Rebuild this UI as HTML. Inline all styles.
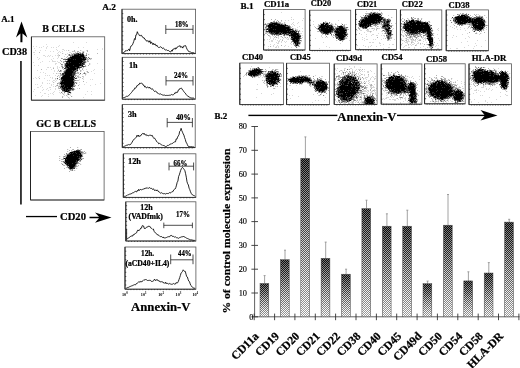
<!DOCTYPE html>
<html><head><meta charset="utf-8"><title>Figure</title>
<style>
html,body{margin:0;padding:0;background:#fff;}
svg{display:block;font-family:'Liberation Serif', 'DejaVu Serif', serif;}
</style></head><body>
<svg width="520" height="368" viewBox="0 0 520 368">
<defs>
<linearGradient id="bg" x1="0" y1="0" x2="0" y2="1"><stop offset="0" stop-color="#050505"/><stop offset="0.3" stop-color="#262626"/><stop offset="1" stop-color="#a0a0a0"/></linearGradient>
<linearGradient id="mg" x1="0" y1="0" x2="0" y2="1"><stop offset="0" stop-color="#666"/><stop offset="0.5" stop-color="#bbb"/><stop offset="1" stop-color="#fff"/></linearGradient>
<mask id="m" maskContentUnits="objectBoundingBox"><rect width="1" height="1" fill="url(#mg)"/></mask>
<pattern id="ck" width="2" height="2" patternUnits="userSpaceOnUse"><rect x="0" y="0" width="1" height="1" fill="#fff"/><rect x="1" y="1" width="1" height="1" fill="#fff"/></pattern>
</defs>
<rect width="520" height="368" fill="#fff"/>
<text x="1.2" y="21.8" font-size="9" font-weight="bold" text-anchor="start" fill="#000" textLength="13.2" lengthAdjust="spacingAndGlyphs" stroke="#000" stroke-width="0.22">A.1</text>
<text x="42.3" y="31.7" font-size="10" font-weight="bold" text-anchor="start" fill="#000" textLength="42.3" lengthAdjust="spacingAndGlyphs" stroke="#000" stroke-width="0.22">B CELLS</text>
<text x="2.1" y="54.6" font-size="10" font-weight="bold" text-anchor="start" fill="#000" textLength="25.0" lengthAdjust="spacingAndGlyphs" stroke="#000" stroke-width="0.22">CD38</text>
<text x="36.2" y="127.0" font-size="10" font-weight="bold" text-anchor="start" fill="#000" textLength="60.0" lengthAdjust="spacingAndGlyphs" stroke="#000" stroke-width="0.22">GC B CELLS</text>
<text x="60.0" y="219.8" font-size="10" font-weight="bold" text-anchor="start" fill="#000" textLength="26.0" lengthAdjust="spacingAndGlyphs" stroke="#000" stroke-width="0.22">CD20</text>
<path d="M21.5 21.6 L27.3 37.6 L22.5 33.4 L22.4 42.2 L20.4 42.2 L20.4 33.4 L16 37.6 Z" fill="#000"/>
<rect x="20.2" y="61" width="1.5" height="143.5" fill="#000"/>
<rect x="26" y="215.9" width="31" height="1.3" fill="#000"/>
<path d="M111.5 217.5 L95 222.8 L99 218.2 L89.5 218.2 L89.5 216.8 L99 216.8 L95 212.4 Z" fill="#000"/>
<rect x="31.40" y="36.80" width="73.30" height="63.40" fill="#fff" stroke="#555" stroke-width="0.8"/>
<path d="M31.40 36.80V100.20" fill="none" stroke="#222" stroke-width="1.0"/>
<path d="M31.40 100.20H104.70" fill="none" stroke="#333" stroke-width="0.8500000000000001"/>
<path d="M86 42h0.55v0.55h-0.55zM73 42.5h0.55v0.55h-0.55zM46.5 44h0.55v0.55h-0.55zM59.5 45h0.55v0.55h-0.55zM33 46h0.55v0.55h-0.55zM36.5 46h0.55v0.55h-0.55zM43.5 46.5h0.55v0.55h-0.55zM47.5 46.5h0.55v0.55h-0.55zM58 46.5h0.55v0.55h-0.55zM39 47h0.55v0.55h-0.55zM46 47h0.55v0.55h-0.55zM53 47h0.55v0.55h-0.55zM83.5 47h0.55v0.55h-0.55zM41 47.5h0.55v0.55h-0.55zM51 47.5h0.55v0.55h-0.55zM56 47.5h0.55v0.55h-0.55zM78 47.5h0.55v0.55h-0.55zM102.5 48h0.55v0.55h-0.55zM34.5 48.5h0.55v0.55h-0.55zM46.5 48.5h0.55v0.55h-0.55zM63 49h0.55v0.55h-0.55zM56 49.5h0.55v0.55h-0.55zM62.5 49.5h0.55v0.55h-0.55zM97 49.5h0.55v0.55h-0.55zM102.5 49.5h0.55v0.55h-0.55zM40.5 50h0.55v0.55h-0.55zM64 50h0.55v0.55h-0.55zM66 50h0.55v0.55h-0.55zM35.5 50.5h0.55v0.55h-0.55zM45.5 50.5h0.55v0.55h-0.55zM57 50.5h0.55v0.55h-0.55zM86 50.5h0.55v0.55h-0.55zM50.5 51h0.55v0.55h-0.55zM53 51h0.55v0.55h-0.55zM59.5 51h0.55v0.55h-0.55zM82 51h0.55v0.55h-0.55zM62 51.5h0.55v0.55h-0.55zM73.5 51.5h0.55v0.55h-0.55zM33 52h0.55v0.55h-0.55zM34 52h0.55v0.55h-0.55zM39 52h1.05v0.55h-1.05zM60 52h0.55v0.55h-0.55zM69.5 52h0.55v0.55h-0.55zM70.5 52h0.55v0.55h-0.55zM58 52.5h0.55v0.55h-0.55zM78 53h1.05v0.55h-1.05zM57.5 53.5h0.55v0.55h-0.55zM67.5 53.5h0.55v0.55h-0.55zM73 53.5h0.55v0.55h-0.55zM80.5 53.5h0.55v0.55h-0.55zM97 53.5h1.05v0.55h-1.05zM58 54h0.55v0.55h-0.55zM34.5 54.5h0.55v0.55h-0.55zM43.5 55h0.55v0.55h-0.55zM48 55h0.55v0.55h-0.55zM50.5 55h0.55v0.55h-0.55zM55.5 55h0.55v0.55h-0.55zM57.5 55h0.55v0.55h-0.55zM44.5 55.5h0.55v0.55h-0.55zM58.5 55.5h0.55v0.55h-0.55zM70 55.5h0.55v0.55h-0.55zM71 55.5h0.55v0.55h-0.55zM58 56h0.55v0.55h-0.55zM64 56h0.55v0.55h-0.55zM71 56h0.55v0.55h-0.55zM45 56.5h0.55v0.55h-0.55zM47.5 56.5h0.55v0.55h-0.55zM49.5 56.5h0.55v0.55h-0.55zM52 56.5h0.55v0.55h-0.55zM71.5 56.5h0.55v0.55h-0.55zM82 57h0.55v0.55h-0.55zM37 57.5h0.55v0.55h-0.55zM58.5 57.5h0.55v0.55h-0.55zM39 58h0.55v0.55h-0.55zM53.5 58h0.55v0.55h-0.55zM57.5 58.5h0.55v0.55h-0.55zM61 58.5h0.55v0.55h-0.55zM64 58.5h0.55v0.55h-0.55zM65.5 58.5h0.55v0.55h-0.55zM67 58.5h0.55v0.55h-0.55zM69 58.5h0.55v0.55h-0.55zM51.5 59h0.55v0.55h-0.55zM71 59h0.55v0.55h-0.55zM38.5 59.5h0.55v0.55h-0.55zM66.5 59.5h0.55v0.55h-0.55zM52 60.5h0.55v0.55h-0.55zM68.5 60.5h0.55v0.55h-0.55zM87.5 60.5h0.55v0.55h-0.55zM49.5 61h0.55v0.55h-0.55zM52 61h0.55v0.55h-0.55zM53 61h0.55v0.55h-0.55zM55.5 61h0.55v0.55h-0.55zM42.5 61.5h0.55v0.55h-0.55zM54 61.5h0.55v0.55h-0.55zM57.5 61.5h0.55v0.55h-0.55zM65 61.5h0.55v0.55h-0.55zM58 62h0.55v0.55h-0.55zM59 62h0.55v0.55h-0.55zM63.5 62h0.55v0.55h-0.55zM33 62.5h0.55v0.55h-0.55zM40.5 62.5h0.55v0.55h-0.55zM67 62.5h0.55v0.55h-0.55zM74.5 62.5h0.55v0.55h-0.55zM56.5 63h0.55v0.55h-0.55zM67.5 63h0.55v0.55h-0.55zM68.5 63h0.55v0.55h-0.55zM69.5 63h0.55v0.55h-0.55zM97.5 63h0.55v0.55h-0.55zM55 63.5h0.55v0.55h-0.55zM68 63.5h0.55v0.55h-0.55zM72.5 63.5h0.55v0.55h-0.55zM70 64h0.55v0.55h-0.55zM74 64h1.05v0.55h-1.05zM55.5 64.5h0.55v0.55h-0.55zM69 64.5h0.55v0.55h-0.55zM70.5 64.5h0.55v0.55h-0.55zM34.5 65h0.55v0.55h-0.55zM38 65h0.55v0.55h-0.55zM61.5 65h0.55v0.55h-0.55zM62.5 65h0.55v0.55h-0.55zM65.5 65h0.55v0.55h-0.55zM74.5 65h0.55v0.55h-0.55zM79.5 65.5h0.55v0.55h-0.55zM57.5 66h0.55v0.55h-0.55zM65 66h0.55v0.55h-0.55zM70 66h0.55v0.55h-0.55zM62.5 66.5h0.55v0.55h-0.55zM48 67h0.55v0.55h-0.55zM53 67h0.55v0.55h-0.55zM47.5 67.5h0.55v0.55h-0.55zM50 67.5h0.55v0.55h-0.55zM57.5 67.5h0.55v0.55h-0.55zM59.5 67.5h0.55v0.55h-0.55zM65 67.5h0.55v0.55h-0.55zM74.5 67.5h0.55v0.55h-0.55zM62.5 68h0.55v0.55h-0.55zM64 68h0.55v0.55h-0.55zM57 68.5h0.55v0.55h-0.55zM62.5 68.5h0.55v0.55h-0.55zM65.5 68.5h0.55v0.55h-0.55zM41 69h0.55v0.55h-0.55zM46.5 69h0.55v0.55h-0.55zM51 69h0.55v0.55h-0.55zM58.5 69h0.55v0.55h-0.55zM69 69h0.55v0.55h-0.55zM86 69h0.55v0.55h-0.55zM94.5 69h0.55v0.55h-0.55zM41.5 69.5h0.55v0.55h-0.55zM66 69.5h0.55v0.55h-0.55zM68 69.5h0.55v0.55h-0.55zM77.5 69.5h0.55v0.55h-0.55zM102 69.5h0.55v0.55h-0.55zM72 70h0.55v0.55h-0.55zM77 70h0.55v0.55h-0.55zM81.5 70h0.55v0.55h-0.55zM83.5 70h0.55v0.55h-0.55zM93.5 70h0.55v0.55h-0.55zM37 70.5h0.55v0.55h-0.55zM54.5 70.5h0.55v0.55h-0.55zM60 70.5h0.55v0.55h-0.55zM61 70.5h0.55v0.55h-0.55zM71.5 70.5h0.55v0.55h-0.55zM57 71h0.55v0.55h-0.55zM69.5 71h0.55v0.55h-0.55zM91 71h0.55v0.55h-0.55zM54.5 71.5h0.55v0.55h-0.55zM59 71.5h0.55v0.55h-0.55zM60.5 71.5h1.05v0.55h-1.05zM64.5 71.5h0.55v0.55h-0.55zM69 71.5h0.55v0.55h-0.55zM77 71.5h0.55v0.55h-0.55zM86 71.5h0.55v0.55h-0.55zM40.5 72.5h0.55v0.55h-0.55zM43.5 72.5h0.55v0.55h-0.55zM45 73h0.55v0.55h-0.55zM59 73h0.55v0.55h-0.55zM63.5 73h0.55v0.55h-0.55zM94 73h0.55v0.55h-0.55zM53 73.5h0.55v0.55h-0.55zM58.5 73.5h0.55v0.55h-0.55zM67 73.5h0.55v0.55h-0.55zM60.5 74h0.55v0.55h-0.55zM62 74h0.55v0.55h-0.55zM69.5 74h0.55v0.55h-0.55zM60.5 74.5h0.55v0.55h-0.55zM67.5 74.5h0.55v0.55h-0.55zM69.5 74.5h0.55v0.55h-0.55zM75 74.5h0.55v0.55h-0.55zM82.5 74.5h0.55v0.55h-0.55zM49 75h0.55v0.55h-0.55zM55.5 75h0.55v0.55h-0.55zM63.5 75h0.55v0.55h-0.55zM66 75h0.55v0.55h-0.55zM67.5 75h0.55v0.55h-0.55zM69 75h0.55v0.55h-0.55zM78 75h0.55v0.55h-0.55zM85.5 75h0.55v0.55h-0.55zM45.5 75.5h0.55v0.55h-0.55zM47 75.5h0.55v0.55h-0.55zM65.5 75.5h0.55v0.55h-0.55zM67 75.5h0.55v0.55h-0.55zM73 75.5h0.55v0.55h-0.55zM74 75.5h0.55v0.55h-0.55zM83 76h0.55v0.55h-0.55zM39.5 76.5h0.55v0.55h-0.55zM59.5 76.5h0.55v0.55h-0.55zM60.5 76.5h0.55v0.55h-0.55zM66 76.5h1.05v0.55h-1.05zM72 76.5h0.55v0.55h-0.55zM75 76.5h0.55v0.55h-0.55zM52.5 77h0.55v0.55h-0.55zM61 77h0.55v0.55h-0.55zM83 77h0.55v0.55h-0.55zM35.5 77.5h0.55v0.55h-0.55zM38 77.5h0.55v0.55h-0.55zM50 77.5h0.55v0.55h-0.55zM71.5 77.5h0.55v0.55h-0.55zM79.5 77.5h0.55v0.55h-0.55zM33.5 78h0.55v0.55h-0.55zM39 78h0.55v0.55h-0.55zM66 78h0.55v0.55h-0.55zM76 78h0.55v0.55h-0.55zM36 78.5h0.55v0.55h-0.55zM39 78.5h0.55v0.55h-0.55zM44.5 78.5h0.55v0.55h-0.55zM52 78.5h0.55v0.55h-0.55zM57 78.5h0.55v0.55h-0.55zM64.5 78.5h0.55v0.55h-0.55zM68.5 78.5h0.55v0.55h-0.55zM59 79h0.55v0.55h-0.55zM61.5 79h0.55v0.55h-0.55zM67 79h0.55v0.55h-0.55zM79 79h0.55v0.55h-0.55zM90.5 79h0.55v0.55h-0.55zM92 79h0.55v0.55h-0.55zM55 79.5h0.55v0.55h-0.55zM57.5 79.5h0.55v0.55h-0.55zM67 79.5h0.55v0.55h-0.55zM72.5 79.5h0.55v0.55h-0.55zM83.5 79.5h0.55v0.55h-0.55zM47.5 80h0.55v0.55h-0.55zM49.5 80h0.55v0.55h-0.55zM53 80h0.55v0.55h-0.55zM54.5 80h0.55v0.55h-0.55zM56.5 80h0.55v0.55h-0.55zM64 80h0.55v0.55h-0.55zM70 80h0.55v0.55h-0.55zM76 80h1.05v0.55h-1.05zM68.5 80.5h0.55v0.55h-0.55zM70 80.5h0.55v0.55h-0.55zM55 81h0.55v0.55h-0.55zM62 81h0.55v0.55h-0.55zM63.5 81h0.55v0.55h-0.55zM70 81h0.55v0.55h-0.55zM52.5 81.5h0.55v0.55h-0.55zM58.5 82h0.55v0.55h-0.55zM79 82h0.55v0.55h-0.55zM86.5 82h0.55v0.55h-0.55zM42 82.5h0.55v0.55h-0.55zM65 82.5h0.55v0.55h-0.55zM42 83h0.55v0.55h-0.55zM49 83h0.55v0.55h-0.55zM66 83h0.55v0.55h-0.55zM69.5 83h0.55v0.55h-0.55zM47 83.5h0.55v0.55h-0.55zM57.5 83.5h0.55v0.55h-0.55zM69 83.5h0.55v0.55h-0.55zM70.5 83.5h0.55v0.55h-0.55zM100.5 83.5h0.55v0.55h-0.55zM35.5 84h0.55v0.55h-0.55zM37.5 84h0.55v0.55h-0.55zM71.5 84h0.55v0.55h-0.55zM84 84h0.55v0.55h-0.55zM95 84h0.55v0.55h-0.55zM51.5 84.5h0.55v0.55h-0.55zM53.5 84.5h0.55v0.55h-0.55zM57 84.5h0.55v0.55h-0.55zM64.5 84.5h0.55v0.55h-0.55zM79.5 84.5h0.55v0.55h-0.55zM59.5 85h0.55v0.55h-0.55zM67 85h0.55v0.55h-0.55zM70 85h0.55v0.55h-0.55zM41.5 85.5h0.55v0.55h-0.55zM51 85.5h0.55v0.55h-0.55zM57.5 85.5h0.55v0.55h-0.55zM68.5 85.5h0.55v0.55h-0.55zM69.5 85.5h0.55v0.55h-0.55zM90.5 85.5h0.55v0.55h-0.55zM40 86h0.55v0.55h-0.55zM53.5 86h0.55v0.55h-0.55zM60 86h0.55v0.55h-0.55zM65.5 86.5h0.55v0.55h-0.55zM37 87h0.55v0.55h-0.55zM38.5 87.5h0.55v0.55h-0.55zM42.5 87.5h0.55v0.55h-0.55zM49.5 87.5h1.05v0.55h-1.05zM62.5 87.5h0.55v0.55h-0.55zM65 87.5h0.55v0.55h-0.55zM68 87.5h0.55v0.55h-0.55zM47 88h0.55v0.55h-0.55zM66 88h0.55v0.55h-0.55zM69 88h0.55v0.55h-0.55zM77 88h0.55v0.55h-0.55zM55 88.5h0.55v0.55h-0.55zM65.5 88.5h0.55v0.55h-0.55zM34 89h0.55v0.55h-0.55zM46.5 89h0.55v0.55h-0.55zM65 89h0.55v0.55h-0.55zM43 89.5h0.55v0.55h-0.55zM50 89.5h0.55v0.55h-0.55zM55 89.5h0.55v0.55h-0.55zM59.5 90h0.55v0.55h-0.55zM64 90h0.55v0.55h-0.55zM42.5 90.5h0.55v0.55h-0.55zM48.5 90.5h0.55v0.55h-0.55zM71 90.5h0.55v0.55h-0.55zM72.5 90.5h0.55v0.55h-0.55zM54.5 91h0.55v0.55h-0.55zM68 91h0.55v0.55h-0.55zM87 91h0.55v0.55h-0.55zM91 91h0.55v0.55h-0.55zM33.5 91.5h0.55v0.55h-0.55zM53 92h0.55v0.55h-0.55zM59 92h0.55v0.55h-0.55zM40 92.5h0.55v0.55h-0.55zM68 92.5h0.55v0.55h-0.55zM45.5 93h0.55v0.55h-0.55zM64.5 93h0.55v0.55h-0.55zM44 93.5h0.55v0.55h-0.55zM50.5 93.5h0.55v0.55h-0.55zM52.5 93.5h0.55v0.55h-0.55zM60 93.5h0.55v0.55h-0.55zM48 94.5h0.55v0.55h-0.55zM53 94.5h0.55v0.55h-0.55zM85.5 94.5h0.55v0.55h-0.55zM91 94.5h0.55v0.55h-0.55zM35.5 95h0.55v0.55h-0.55zM42.5 95h0.55v0.55h-0.55zM64 95h0.55v0.55h-0.55zM70.5 95h0.55v0.55h-0.55zM48 96h0.55v0.55h-0.55zM71.5 96h0.55v0.55h-0.55zM41.5 96.5h0.55v0.55h-0.55zM67 96.5h0.55v0.55h-0.55zM83 97h0.55v0.55h-0.55zM69 98h0.55v0.55h-0.55zM84.5 99h0.55v0.55h-0.55z" fill="#777" opacity="1"/>
<path d="M74 50h0.62v0.62h-0.62zM68.5 50.5h0.62v0.62h-0.62zM80.5 50.5h0.62v0.62h-0.62zM87 50.5h0.62v0.62h-0.62zM72.5 51.5h0.62v0.62h-0.62zM74.5 51.5h0.62v0.62h-0.62zM77 51.5h0.62v0.62h-0.62zM78 51.5h0.62v0.62h-0.62zM83.5 51.5h0.62v0.62h-0.62zM87 51.5h0.62v0.62h-0.62zM77.5 52h0.62v0.62h-0.62zM79 52h0.62v0.62h-0.62zM80 52h0.62v0.62h-0.62zM83 52h0.62v0.62h-0.62zM75.5 52.5h0.62v0.62h-0.62zM82 52.5h0.62v0.62h-0.62zM83.5 52.5h0.62v0.62h-0.62zM76 53h0.62v0.62h-0.62zM77.5 53h1.12v0.62h-1.12zM79.5 53h0.62v0.62h-0.62zM80.5 53h0.62v0.62h-0.62zM82 53h1.12v0.62h-1.12zM86 53h0.62v0.62h-0.62zM62.5 53.5h0.62v0.62h-0.62zM71.5 53.5h0.62v0.62h-0.62zM73.5 53.5h0.62v0.62h-0.62zM74.5 53.5h1.12v0.62h-1.12zM76 53.5h0.62v0.62h-0.62zM77 53.5h2.12v0.62h-2.12zM80.5 53.5h1.12v0.62h-1.12zM82.5 53.5h1.12v0.62h-1.12zM69.5 54h0.62v0.62h-0.62zM74 54h0.62v0.62h-0.62zM75 54h2.12v0.62h-2.12zM77.5 54h4.12v0.62h-4.12zM82 54h1.62v0.62h-1.62zM86 54h0.62v0.62h-0.62zM88.5 54h0.62v0.62h-0.62zM65.5 54.5h0.62v0.62h-0.62zM68.5 54.5h0.62v0.62h-0.62zM69.5 54.5h0.62v0.62h-0.62zM71.5 54.5h2.12v0.62h-2.12zM74 54.5h1.12v0.62h-1.12zM75.5 54.5h0.62v0.62h-0.62zM76.5 54.5h7.62v0.62h-7.62zM59 55h0.62v0.62h-0.62zM68.5 55h0.62v0.62h-0.62zM69.5 55h0.62v0.62h-0.62zM70.5 55h0.62v0.62h-0.62zM72 55h0.62v0.62h-0.62zM74 55h10.12v0.62h-10.12zM85.5 55h1.12v0.62h-1.12zM69.5 55.5h0.62v0.62h-0.62zM71.5 55.5h0.62v0.62h-0.62zM72.5 55.5h6.62v0.62h-6.62zM79.5 55.5h4.62v0.62h-4.62zM84.5 55.5h0.62v0.62h-0.62zM86 55.5h0.62v0.62h-0.62zM70 56h0.62v0.62h-0.62zM72 56h12.62v0.62h-12.62zM67 56.5h0.62v0.62h-0.62zM70.5 56.5h0.62v0.62h-0.62zM71.5 56.5h13.12v0.62h-13.12zM85.5 56.5h0.62v0.62h-0.62zM68.5 57h1.12v0.62h-1.12zM70 57h11.62v0.62h-11.62zM82 57h3.12v0.62h-3.12zM85.5 57h1.12v0.62h-1.12zM88.5 57h0.62v0.62h-0.62zM66.5 57.5h0.62v0.62h-0.62zM69.5 57.5h12.62v0.62h-12.62zM82.5 57.5h3.12v0.62h-3.12zM86 57.5h0.62v0.62h-0.62zM88 57.5h0.62v0.62h-0.62zM61 58h0.62v0.62h-0.62zM68 58h1.12v0.62h-1.12zM69.5 58h1.12v0.62h-1.12zM71 58h13.62v0.62h-13.62zM85 58h1.12v0.62h-1.12zM86.5 58h0.62v0.62h-0.62zM87.5 58h0.62v0.62h-0.62zM89 58h0.62v0.62h-0.62zM90.5 58h1.12v0.62h-1.12zM62 58.5h0.62v0.62h-0.62zM67.5 58.5h0.62v0.62h-0.62zM68.5 58.5h14.12v0.62h-14.12zM83 58.5h2.62v0.62h-2.62zM89 58.5h0.62v0.62h-0.62zM63 59h0.62v0.62h-0.62zM64.5 59h1.12v0.62h-1.12zM66 59h9.62v0.62h-9.62zM76 59h10.12v0.62h-10.12zM87.5 59h0.62v0.62h-0.62zM63.5 59.5h0.62v0.62h-0.62zM64.5 59.5h1.12v0.62h-1.12zM66.5 59.5h0.62v0.62h-0.62zM67.5 59.5h5.62v0.62h-5.62zM73.5 59.5h13.12v0.62h-13.12zM88.5 59.5h0.62v0.62h-0.62zM90.5 59.5h0.62v0.62h-0.62zM65.5 60h0.62v0.62h-0.62zM67.5 60h16.12v0.62h-16.12zM84 60h1.12v0.62h-1.12zM85.5 60h0.62v0.62h-0.62zM87.5 60h0.62v0.62h-0.62zM60 60.5h0.62v0.62h-0.62zM67 60.5h0.62v0.62h-0.62zM68 60.5h14.12v0.62h-14.12zM82.5 60.5h2.12v0.62h-2.12zM61 61h0.62v0.62h-0.62zM64.5 61h0.62v0.62h-0.62zM66 61h0.62v0.62h-0.62zM67 61h16.62v0.62h-16.62zM84 61h0.62v0.62h-0.62zM85.5 61h0.62v0.62h-0.62zM87 61h0.62v0.62h-0.62zM88 61h0.62v0.62h-0.62zM63.5 61.5h0.62v0.62h-0.62zM65 61.5h18.62v0.62h-18.62zM84 61.5h0.62v0.62h-0.62zM85.5 61.5h0.62v0.62h-0.62zM66 62h2.62v0.62h-2.62zM69 62h1.62v0.62h-1.62zM71 62h11.12v0.62h-11.12zM82.5 62h2.12v0.62h-2.12zM85.5 62h0.62v0.62h-0.62zM63.5 62.5h0.62v0.62h-0.62zM66.5 62.5h0.62v0.62h-0.62zM67.5 62.5h15.12v0.62h-15.12zM83 62.5h0.62v0.62h-0.62zM84 62.5h1.12v0.62h-1.12zM85.5 62.5h0.62v0.62h-0.62zM64.5 63h0.62v0.62h-0.62zM65.5 63h3.12v0.62h-3.12zM69 63h12.12v0.62h-12.12zM81.5 63h1.62v0.62h-1.62zM83.5 63h1.62v0.62h-1.62zM89.5 63h0.62v0.62h-0.62zM60 63.5h0.62v0.62h-0.62zM65.5 63.5h14.12v0.62h-14.12zM80 63.5h4.12v0.62h-4.12zM61.5 64h0.62v0.62h-0.62zM65 64h19.12v0.62h-19.12zM61.5 64.5h1.12v0.62h-1.12zM64.5 64.5h0.62v0.62h-0.62zM65.5 64.5h0.62v0.62h-0.62zM66.5 64.5h14.62v0.62h-14.62zM81.5 64.5h0.62v0.62h-0.62zM82.5 64.5h0.62v0.62h-0.62zM83.5 64.5h1.62v0.62h-1.62zM89.5 64.5h0.62v0.62h-0.62zM64 65h0.62v0.62h-0.62zM65 65h0.62v0.62h-0.62zM66 65h15.62v0.62h-15.62zM82 65h1.12v0.62h-1.12zM85 65h0.62v0.62h-0.62zM88 65h0.62v0.62h-0.62zM65 65.5h8.62v0.62h-8.62zM74 65.5h9.12v0.62h-9.12zM62 66h0.62v0.62h-0.62zM64 66h0.62v0.62h-0.62zM65.5 66h14.12v0.62h-14.12zM80.5 66h2.12v0.62h-2.12zM83 66h0.62v0.62h-0.62zM84.5 66h0.62v0.62h-0.62zM85.5 66h0.62v0.62h-0.62zM61 66.5h0.62v0.62h-0.62zM65 66.5h0.62v0.62h-0.62zM66 66.5h2.62v0.62h-2.62zM69 66.5h10.12v0.62h-10.12zM79.5 66.5h0.62v0.62h-0.62zM82 66.5h2.12v0.62h-2.12zM84.5 66.5h0.62v0.62h-0.62zM62.5 67h0.62v0.62h-0.62zM65.5 67h3.62v0.62h-3.62zM69.5 67h6.12v0.62h-6.12zM76 67h4.12v0.62h-4.12zM80.5 67h1.12v0.62h-1.12zM83 67h0.62v0.62h-0.62zM62.5 67.5h1.12v0.62h-1.12zM65 67.5h1.12v0.62h-1.12zM66.5 67.5h10.12v0.62h-10.12zM77 67.5h2.12v0.62h-2.12zM79.5 67.5h1.62v0.62h-1.62zM81.5 67.5h0.62v0.62h-0.62zM53 68h0.62v0.62h-0.62zM64 68h2.62v0.62h-2.62zM67 68h9.12v0.62h-9.12zM76.5 68h2.12v0.62h-2.12zM79 68h1.12v0.62h-1.12zM64 68.5h0.62v0.62h-0.62zM65.5 68.5h1.12v0.62h-1.12zM67.5 68.5h10.62v0.62h-10.62zM82.5 68.5h0.62v0.62h-0.62zM66 69h10.62v0.62h-10.62zM77 69h0.62v0.62h-0.62zM79 69h0.62v0.62h-0.62zM63.5 69.5h0.62v0.62h-0.62zM65 69.5h0.62v0.62h-0.62zM66.5 69.5h9.62v0.62h-9.62zM76.5 69.5h1.12v0.62h-1.12zM82 69.5h0.62v0.62h-0.62zM58 70h0.62v0.62h-0.62zM60.5 70h0.62v0.62h-0.62zM64.5 70h1.12v0.62h-1.12zM66 70h6.62v0.62h-6.62zM73 70h3.12v0.62h-3.12zM76.5 70h1.62v0.62h-1.62zM80 70h0.62v0.62h-0.62zM60.5 70.5h0.62v0.62h-0.62zM65.5 70.5h9.12v0.62h-9.12zM76.5 70.5h1.12v0.62h-1.12zM59 71h0.62v0.62h-0.62zM60.5 71h0.62v0.62h-0.62zM63.5 71h0.62v0.62h-0.62zM64.5 71h10.12v0.62h-10.12zM75 71h0.62v0.62h-0.62zM80.5 71h0.62v0.62h-0.62zM64.5 71.5h1.12v0.62h-1.12zM66 71.5h7.12v0.62h-7.12zM73.5 71.5h0.62v0.62h-0.62zM74.5 71.5h2.12v0.62h-2.12zM87 71.5h0.62v0.62h-0.62zM63.5 72h0.62v0.62h-0.62zM64.5 72h10.12v0.62h-10.12zM75.5 72h0.62v0.62h-0.62zM77 72h0.62v0.62h-0.62zM78.5 72h0.62v0.62h-0.62zM84 72h0.62v0.62h-0.62zM87.5 72h1.12v0.62h-1.12zM64 72.5h9.12v0.62h-9.12zM73.5 72.5h2.12v0.62h-2.12zM60 73h1.12v0.62h-1.12zM62 73h1.62v0.62h-1.62zM64.5 73h10.12v0.62h-10.12zM75 73h1.62v0.62h-1.62zM77.5 73h1.12v0.62h-1.12zM80 73h0.62v0.62h-0.62zM84.5 73h0.62v0.62h-0.62zM85.5 73h0.62v0.62h-0.62zM56.5 73.5h0.62v0.62h-0.62zM62.5 73.5h9.62v0.62h-9.62zM72.5 73.5h1.12v0.62h-1.12zM74 73.5h1.12v0.62h-1.12zM80 73.5h0.62v0.62h-0.62zM83 73.5h0.62v0.62h-0.62zM84 73.5h0.62v0.62h-0.62zM62 74h2.62v0.62h-2.62zM65 74h8.62v0.62h-8.62zM74 74h1.12v0.62h-1.12zM85.5 74h0.62v0.62h-0.62zM61 74.5h0.62v0.62h-0.62zM62.5 74.5h0.62v0.62h-0.62zM63.5 74.5h1.12v0.62h-1.12zM65 74.5h7.62v0.62h-7.62zM73 74.5h1.12v0.62h-1.12zM74.5 74.5h0.62v0.62h-0.62zM79.5 74.5h0.62v0.62h-0.62zM58.5 75h0.62v0.62h-0.62zM61 75h0.62v0.62h-0.62zM62.5 75h0.62v0.62h-0.62zM63.5 75h9.62v0.62h-9.62zM73.5 75h0.62v0.62h-0.62zM75 75h0.62v0.62h-0.62zM60 75.5h0.62v0.62h-0.62zM62.5 75.5h10.12v0.62h-10.12zM73 75.5h1.12v0.62h-1.12zM74.5 75.5h0.62v0.62h-0.62zM76.5 75.5h0.62v0.62h-0.62zM57 76h0.62v0.62h-0.62zM62 76h8.12v0.62h-8.12zM70.5 76h3.62v0.62h-3.62zM78.5 76h0.62v0.62h-0.62zM62.5 76.5h11.62v0.62h-11.62zM75 76.5h0.62v0.62h-0.62zM77 76.5h0.62v0.62h-0.62zM82.5 76.5h0.62v0.62h-0.62zM59.5 77h0.62v0.62h-0.62zM61.5 77h13.62v0.62h-13.62zM76.5 77h0.62v0.62h-0.62zM80 77h0.62v0.62h-0.62zM61 77.5h12.62v0.62h-12.62zM74 77.5h0.62v0.62h-0.62zM78 77.5h0.62v0.62h-0.62zM57 78h0.62v0.62h-0.62zM60.5 78h13.12v0.62h-13.12zM74 78h0.62v0.62h-0.62zM75 78h0.62v0.62h-0.62zM76 78h0.62v0.62h-0.62zM82.5 78h0.62v0.62h-0.62zM55.5 78.5h0.62v0.62h-0.62zM57 78.5h0.62v0.62h-0.62zM61 78.5h13.12v0.62h-13.12zM75 78.5h1.12v0.62h-1.12zM76.5 78.5h0.62v0.62h-0.62zM60.5 79h14.12v0.62h-14.12zM59 79.5h0.62v0.62h-0.62zM61 79.5h0.62v0.62h-0.62zM62 79.5h0.62v0.62h-0.62zM63 79.5h11.12v0.62h-11.12zM61.5 80h12.12v0.62h-12.12zM74 80h0.62v0.62h-0.62zM77 80h0.62v0.62h-0.62zM60.5 80.5h0.62v0.62h-0.62zM61.5 80.5h12.12v0.62h-12.12zM74.5 80.5h1.62v0.62h-1.62zM78.5 80.5h0.62v0.62h-0.62zM60 81h3.62v0.62h-3.62zM64 81h9.62v0.62h-9.62zM61.5 81.5h13.12v0.62h-13.12zM83 81.5h0.62v0.62h-0.62zM59.5 82h0.62v0.62h-0.62zM60.5 82h14.12v0.62h-14.12zM75 82h1.12v0.62h-1.12zM53.5 82.5h0.62v0.62h-0.62zM60 82.5h0.62v0.62h-0.62zM61 82.5h13.12v0.62h-13.12zM76.5 82.5h0.62v0.62h-0.62zM57 83h0.62v0.62h-0.62zM60 83h13.62v0.62h-13.62zM74.5 83h0.62v0.62h-0.62zM76.5 83h0.62v0.62h-0.62zM58.5 83.5h0.62v0.62h-0.62zM59.5 83.5h15.12v0.62h-15.12zM76 83.5h0.62v0.62h-0.62zM59.5 84h0.62v0.62h-0.62zM61 84h1.62v0.62h-1.62zM63 84h11.12v0.62h-11.12zM60.5 84.5h3.12v0.62h-3.12zM64 84.5h9.62v0.62h-9.62zM74 84.5h0.62v0.62h-0.62zM56.5 85h0.62v0.62h-0.62zM57.5 85h0.62v0.62h-0.62zM61 85h1.62v0.62h-1.62zM63 85h1.62v0.62h-1.62zM65 85h9.12v0.62h-9.12zM75 85h0.62v0.62h-0.62zM78 85h0.62v0.62h-0.62zM60.5 85.5h1.12v0.62h-1.12zM62 85.5h11.12v0.62h-11.12zM74.5 85.5h0.62v0.62h-0.62zM59 86h0.62v0.62h-0.62zM60.5 86h14.12v0.62h-14.12zM55.5 86.5h0.62v0.62h-0.62zM58.5 86.5h0.62v0.62h-0.62zM60.5 86.5h4.12v0.62h-4.12zM65 86.5h7.12v0.62h-7.12zM72.5 86.5h0.62v0.62h-0.62zM74.5 86.5h0.62v0.62h-0.62zM60 87h1.12v0.62h-1.12zM61.5 87h1.62v0.62h-1.62zM63.5 87h7.62v0.62h-7.62zM72.5 87h0.62v0.62h-0.62zM58.5 87.5h0.62v0.62h-0.62zM60.5 87.5h1.12v0.62h-1.12zM62 87.5h5.62v0.62h-5.62zM68 87.5h3.62v0.62h-3.62zM72 87.5h0.62v0.62h-0.62zM59 88h0.62v0.62h-0.62zM61.5 88h0.62v0.62h-0.62zM62.5 88h3.12v0.62h-3.12zM66 88h6.12v0.62h-6.12zM73.5 88h0.62v0.62h-0.62zM79 88h0.62v0.62h-0.62zM58.5 88.5h0.62v0.62h-0.62zM60 88.5h0.62v0.62h-0.62zM61.5 88.5h11.62v0.62h-11.62zM73.5 88.5h0.62v0.62h-0.62zM61 89h0.62v0.62h-0.62zM62.5 89h6.62v0.62h-6.62zM69.5 89h1.12v0.62h-1.12zM71 89h2.62v0.62h-2.62zM61.5 89.5h1.62v0.62h-1.62zM63.5 89.5h2.12v0.62h-2.12zM66 89.5h2.12v0.62h-2.12zM68.5 89.5h2.62v0.62h-2.62zM72.5 89.5h0.62v0.62h-0.62zM73.5 89.5h0.62v0.62h-0.62zM74.5 89.5h0.62v0.62h-0.62zM62 90h3.62v0.62h-3.62zM66 90h1.62v0.62h-1.62zM68 90h2.12v0.62h-2.12zM70.5 90h0.62v0.62h-0.62zM62.5 90.5h0.62v0.62h-0.62zM63.5 90.5h6.12v0.62h-6.12zM70 90.5h0.62v0.62h-0.62zM72 90.5h0.62v0.62h-0.62zM73 90.5h0.62v0.62h-0.62zM63.5 91h0.62v0.62h-0.62zM64.5 91h4.12v0.62h-4.12zM69.5 91h0.62v0.62h-0.62zM62.5 91.5h0.62v0.62h-0.62zM64 91.5h0.62v0.62h-0.62zM65 91.5h4.12v0.62h-4.12zM69.5 91.5h0.62v0.62h-0.62zM64 92h1.12v0.62h-1.12zM67 92h0.62v0.62h-0.62zM68.5 92h2.62v0.62h-2.62zM61 92.5h1.12v0.62h-1.12zM68 92.5h0.62v0.62h-0.62zM69 92.5h1.62v0.62h-1.62zM62.5 93h0.62v0.62h-0.62zM67.5 93h0.62v0.62h-0.62zM70.5 93h0.62v0.62h-0.62zM68 93.5h0.62v0.62h-0.62zM63.5 94h0.62v0.62h-0.62zM67.5 94h0.62v0.62h-0.62zM68.5 94h0.62v0.62h-0.62zM69.5 94h0.62v0.62h-0.62zM68 94.5h0.62v0.62h-0.62zM66.5 95.5h0.62v0.62h-0.62zM62.5 96.5h0.62v0.62h-0.62zM71.5 96.5h0.62v0.62h-0.62zM62 97h0.62v0.62h-0.62zM68.5 97.5h0.62v0.62h-0.62z" fill="#000" opacity="1"/>
<rect x="30.50" y="131.50" width="73.60" height="68.50" fill="#fff" stroke="#555" stroke-width="0.8"/>
<path d="M30.50 131.50V200.00" fill="none" stroke="#222" stroke-width="1.0"/>
<path d="M30.50 200.00H104.10" fill="none" stroke="#333" stroke-width="0.8500000000000001"/>
<path d="M70 147.5h0.62v0.62h-0.62zM77.5 147.5h0.62v0.62h-0.62zM67.5 149h0.62v0.62h-0.62zM77 149h0.62v0.62h-0.62zM80.5 149h0.62v0.62h-0.62zM72.5 149.5h1.12v0.62h-1.12zM78.5 149.5h0.62v0.62h-0.62zM81 149.5h0.62v0.62h-0.62zM75.5 150h0.62v0.62h-0.62zM76.5 150h1.62v0.62h-1.62zM78.5 150h1.62v0.62h-1.62zM69 150.5h0.62v0.62h-0.62zM71.5 150.5h0.62v0.62h-0.62zM74 150.5h0.62v0.62h-0.62zM76 150.5h1.62v0.62h-1.62zM78 150.5h1.62v0.62h-1.62zM80 150.5h0.62v0.62h-0.62zM72.5 151h7.12v0.62h-7.12zM80 151h1.12v0.62h-1.12zM82.5 151h0.62v0.62h-0.62zM67.5 151.5h0.62v0.62h-0.62zM71 151.5h0.62v0.62h-0.62zM72.5 151.5h1.12v0.62h-1.12zM74 151.5h6.12v0.62h-6.12zM81 151.5h0.62v0.62h-0.62zM84 151.5h0.62v0.62h-0.62zM69 152h0.62v0.62h-0.62zM70 152h3.12v0.62h-3.12zM73.5 152h7.12v0.62h-7.12zM81 152h0.62v0.62h-0.62zM85.5 152h0.62v0.62h-0.62zM70 152.5h5.12v0.62h-5.12zM75.5 152.5h4.62v0.62h-4.62zM80.5 152.5h1.12v0.62h-1.12zM82 152.5h1.62v0.62h-1.62zM66.5 153h0.62v0.62h-0.62zM69 153h12.62v0.62h-12.62zM82 153h0.62v0.62h-0.62zM84 153h0.62v0.62h-0.62zM85.5 153h0.62v0.62h-0.62zM66.5 153.5h0.62v0.62h-0.62zM68 153.5h0.62v0.62h-0.62zM69 153.5h0.62v0.62h-0.62zM70.5 153.5h1.62v0.62h-1.62zM72.5 153.5h4.12v0.62h-4.12zM77 153.5h4.12v0.62h-4.12zM83.5 153.5h0.62v0.62h-0.62zM66 154h0.62v0.62h-0.62zM67 154h0.62v0.62h-0.62zM68 154h1.12v0.62h-1.12zM69.5 154h12.12v0.62h-12.12zM64 154.5h0.62v0.62h-0.62zM67 154.5h0.62v0.62h-0.62zM68.5 154.5h10.62v0.62h-10.62zM79.5 154.5h2.12v0.62h-2.12zM82.5 154.5h0.62v0.62h-0.62zM66.5 155h7.12v0.62h-7.12zM74 155h8.12v0.62h-8.12zM65.5 155.5h0.62v0.62h-0.62zM67 155.5h15.62v0.62h-15.62zM63 156h0.62v0.62h-0.62zM64 156h1.62v0.62h-1.62zM67 156h10.12v0.62h-10.12zM77.5 156h5.62v0.62h-5.62zM59.5 156.5h0.62v0.62h-0.62zM66 156.5h13.62v0.62h-13.62zM80 156.5h1.62v0.62h-1.62zM63.5 157h0.62v0.62h-0.62zM66 157h15.62v0.62h-15.62zM65.5 157.5h14.12v0.62h-14.12zM80 157.5h0.62v0.62h-0.62zM59.5 158h0.62v0.62h-0.62zM64 158h1.12v0.62h-1.12zM65.5 158h15.62v0.62h-15.62zM83 158h0.62v0.62h-0.62zM63 158.5h15.12v0.62h-15.12zM78.5 158.5h0.62v0.62h-0.62zM80 158.5h0.62v0.62h-0.62zM81.5 158.5h0.62v0.62h-0.62zM82.5 158.5h0.62v0.62h-0.62zM61.5 159h1.12v0.62h-1.12zM63.5 159h0.62v0.62h-0.62zM65 159h14.12v0.62h-14.12zM79.5 159h0.62v0.62h-0.62zM81 159h1.12v0.62h-1.12zM65 159.5h1.12v0.62h-1.12zM66.5 159.5h14.12v0.62h-14.12zM81.5 159.5h0.62v0.62h-0.62zM64.5 160h14.12v0.62h-14.12zM79 160h0.62v0.62h-0.62zM80.5 160h0.62v0.62h-0.62zM59.5 160.5h0.62v0.62h-0.62zM65 160.5h11.62v0.62h-11.62zM77 160.5h2.12v0.62h-2.12zM80 160.5h0.62v0.62h-0.62zM62.5 161h0.62v0.62h-0.62zM63.5 161h0.62v0.62h-0.62zM64.5 161h13.12v0.62h-13.12zM79 161h0.62v0.62h-0.62zM61 161.5h0.62v0.62h-0.62zM63.5 161.5h0.62v0.62h-0.62zM65 161.5h11.62v0.62h-11.62zM77 161.5h1.12v0.62h-1.12zM80 161.5h0.62v0.62h-0.62zM64 162h0.62v0.62h-0.62zM65.5 162h12.12v0.62h-12.12zM63 162.5h0.62v0.62h-0.62zM64 162.5h11.62v0.62h-11.62zM76 162.5h0.62v0.62h-0.62zM77 162.5h0.62v0.62h-0.62zM78 162.5h0.62v0.62h-0.62zM61.5 163h0.62v0.62h-0.62zM65 163h1.12v0.62h-1.12zM66.5 163h11.62v0.62h-11.62zM78.5 163h0.62v0.62h-0.62zM79.5 163h0.62v0.62h-0.62zM64.5 163.5h7.62v0.62h-7.62zM72.5 163.5h4.12v0.62h-4.12zM62.5 164h0.62v0.62h-0.62zM66 164h10.12v0.62h-10.12zM62.5 164.5h0.62v0.62h-0.62zM65.5 164.5h0.62v0.62h-0.62zM66.5 164.5h1.62v0.62h-1.62zM68.5 164.5h7.12v0.62h-7.12zM76.5 164.5h0.62v0.62h-0.62zM80.5 164.5h0.62v0.62h-0.62zM63.5 165h0.62v0.62h-0.62zM67 165h8.12v0.62h-8.12zM75.5 165h0.62v0.62h-0.62zM78 165h0.62v0.62h-0.62zM64.5 165.5h0.62v0.62h-0.62zM66 165.5h0.62v0.62h-0.62zM67 165.5h0.62v0.62h-0.62zM68 165.5h7.62v0.62h-7.62zM76.5 165.5h0.62v0.62h-0.62zM67 166h1.12v0.62h-1.12zM68.5 166h6.12v0.62h-6.12zM75 166h1.12v0.62h-1.12zM77.5 166h0.62v0.62h-0.62zM69 166.5h6.12v0.62h-6.12zM76 166.5h0.62v0.62h-0.62zM66.5 167h1.12v0.62h-1.12zM68 167h6.62v0.62h-6.62zM75.5 167h0.62v0.62h-0.62zM68.5 167.5h1.12v0.62h-1.12zM70 167.5h3.12v0.62h-3.12zM73.5 167.5h1.12v0.62h-1.12zM68.5 168h6.12v0.62h-6.12zM76.5 168h0.62v0.62h-0.62zM64 168.5h0.62v0.62h-0.62zM69.5 168.5h3.12v0.62h-3.12zM73.5 168.5h1.62v0.62h-1.62zM69 169h0.62v0.62h-0.62zM70 169h0.62v0.62h-0.62zM71.5 169h1.62v0.62h-1.62zM70.5 169.5h0.62v0.62h-0.62zM70.5 170h0.62v0.62h-0.62zM71.5 170h1.62v0.62h-1.62zM74.5 170h0.62v0.62h-0.62zM69 171h0.62v0.62h-0.62z" fill="#000" opacity="1"/>
<text x="102.2" y="9.9" font-size="9" font-weight="bold" text-anchor="start" fill="#000" textLength="13.7" lengthAdjust="spacingAndGlyphs" stroke="#000" stroke-width="0.22">A.2</text>
<rect x="122.00" y="9.20" width="73.60" height="44.40" fill="#fff" stroke="#555" stroke-width="0.8"/>
<path d="M122.00 9.20V53.60" fill="none" stroke="#222" stroke-width="1.0"/>
<path d="M122.00 53.60H195.60" fill="none" stroke="#333" stroke-width="0.8500000000000001"/>
<path d="M122.0 13.6h1.3M122.0 18.1h1.3M122.0 22.5h1.3M122.0 27.0h1.3M122.0 31.4h1.3M122.0 35.8h1.3M122.0 40.3h1.3M122.0 44.7h1.3M122.0 49.2h1.3M125.1 53.6v0.9M128.1 53.6v0.9M131.2 53.6v0.9M134.3 53.6v0.9M137.3 53.6v0.9M140.4 53.6v0.9M143.5 53.6v0.9M146.5 53.6v0.9M149.6 53.6v0.9M152.7 53.6v0.9M155.7 53.6v0.9M158.8 53.6v0.9M161.9 53.6v0.9M164.9 53.6v0.9M168.0 53.6v0.9M171.1 53.6v0.9M174.1 53.6v0.9M177.2 53.6v0.9M180.3 53.6v0.9M183.3 53.6v0.9M186.4 53.6v0.9M189.5 53.6v0.9M192.5 53.6v0.9" stroke="#222" stroke-width="0.7" fill="none"/>
<text x="127.0" y="21.7" font-size="7.7" font-weight="bold" text-anchor="start" fill="#000" textLength="10.5" lengthAdjust="spacingAndGlyphs" stroke="#000" stroke-width="0.22">0h.</text>
<text x="175.0" y="26.5" font-size="7.6" font-weight="bold" text-anchor="start" fill="#000" textLength="13.5" lengthAdjust="spacingAndGlyphs" stroke="#000" stroke-width="0.22">18%</text>
<path d="M165.8 25V34M193 25V34M165.8 29.3H193" fill="none" stroke="#222" stroke-width="0.8"/>
<path d="M122.6 52.9 123.3 52.6 124.0 52.4 124.7 51.9 125.4 50.7 126.1 51.2 126.8 50.4 127.5 50.7 128.2 49.7 128.9 49.0 129.6 50.8 130.3 47.8 131.0 45.9 131.7 45.7 132.4 44.9 133.1 43.2 133.8 41.3 134.5 38.6 135.2 39.6 135.9 34.9 136.6 34.8 137.3 31.7 138.0 33.4 138.7 34.2 139.4 35.6 140.1 35.2 140.8 35.8 141.5 35.3 142.2 36.8 142.9 37.0 143.6 38.1 144.3 38.0 145.0 39.6 145.7 39.8 146.4 40.9 147.1 41.3 147.8 40.5 148.5 42.0 149.2 42.1 149.9 40.7 150.6 43.5 151.3 41.9 152.0 42.9 152.7 44.5 153.4 43.3 154.1 44.9 154.8 43.9 155.5 44.3 156.2 46.1 156.9 45.2 157.6 46.7 158.3 47.4 159.0 47.1 159.7 47.4 160.4 46.7 161.1 47.1 161.8 48.0 162.5 48.6 163.2 47.7 163.9 48.7 164.6 49.3 165.3 50.1 166.0 50.0 166.7 49.8 167.4 50.5 168.1 50.4 168.8 50.7 169.5 51.3 170.2 52.0 170.9 51.8 171.6 50.3 172.3 51.2 173.0 49.0 173.7 49.0 174.4 48.4 175.1 49.3 175.8 47.8 176.5 48.5 177.2 47.0 177.9 46.9 178.6 46.2 179.3 46.2 180.0 45.5 180.7 47.4 181.4 46.9 182.1 46.8 182.8 48.1 183.5 46.1 184.2 45.8 184.9 46.0 185.6 45.6 186.3 47.4 187.0 49.2 187.7 50.0 188.4 51.3 189.1 51.6 189.8 51.8 190.5 52.0 191.2 52.6 191.9 52.6 192.6 52.6 193.3 52.6 194.0 53.2 194.7 53.2" fill="none" stroke="#000" stroke-width="0.85" stroke-linejoin="round"/>
<rect x="122.30" y="57.30" width="73.10" height="41.90" fill="#fff" stroke="#555" stroke-width="0.8"/>
<path d="M122.30 57.30V99.20" fill="none" stroke="#222" stroke-width="1.0"/>
<path d="M122.30 99.20H195.40" fill="none" stroke="#333" stroke-width="0.8500000000000001"/>
<path d="M122.3 61.5h1.3M122.3 65.7h1.3M122.3 69.9h1.3M122.3 74.1h1.3M122.3 78.2h1.3M122.3 82.4h1.3M122.3 86.6h1.3M122.3 90.8h1.3M122.3 95.0h1.3M125.3 99.2v0.9M128.4 99.2v0.9M131.4 99.2v0.9M134.5 99.2v0.9M137.5 99.2v0.9M140.6 99.2v0.9M143.6 99.2v0.9M146.7 99.2v0.9M149.7 99.2v0.9M152.8 99.2v0.9M155.8 99.2v0.9M158.8 99.2v0.9M161.9 99.2v0.9M164.9 99.2v0.9M168.0 99.2v0.9M171.0 99.2v0.9M174.1 99.2v0.9M177.1 99.2v0.9M180.2 99.2v0.9M183.2 99.2v0.9M186.3 99.2v0.9M189.3 99.2v0.9M192.4 99.2v0.9" stroke="#222" stroke-width="0.7" fill="none"/>
<text x="129.0" y="67.7" font-size="7.7" font-weight="bold" text-anchor="start" fill="#000" textLength="8.6" lengthAdjust="spacingAndGlyphs" stroke="#000" stroke-width="0.22">1h</text>
<text x="174.0" y="78.2" font-size="7.6" font-weight="bold" text-anchor="start" fill="#000" textLength="14.0" lengthAdjust="spacingAndGlyphs" stroke="#000" stroke-width="0.22">24%</text>
<path d="M166 76V85.5M193 76V85.5M166 80.8H193" fill="none" stroke="#222" stroke-width="0.8"/>
<path d="M123.0 98.0 123.7 97.6 124.4 97.5 125.1 97.1 125.8 96.9 126.5 96.3 127.2 96.4 127.9 96.2 128.6 95.7 129.3 94.8 130.0 94.3 130.7 93.4 131.4 92.6 132.1 91.8 132.8 90.4 133.5 90.0 134.2 89.6 134.9 87.8 135.6 88.2 136.3 87.2 137.0 85.5 137.7 85.7 138.4 84.5 139.1 84.6 139.8 83.0 140.5 83.4 141.2 83.0 141.9 83.6 142.6 83.8 143.3 85.3 144.0 85.3 144.7 87.0 145.4 86.4 146.1 87.8 146.8 87.7 147.5 87.1 148.2 87.3 148.9 88.2 149.6 87.1 150.3 88.3 151.0 88.8 151.7 89.1 152.4 88.7 153.1 89.8 153.8 90.7 154.5 91.5 155.2 91.2 155.9 91.2 156.6 91.8 157.3 93.0 158.0 93.2 158.7 93.9 159.4 94.1 160.1 94.0 160.8 93.9 161.5 94.5 162.2 94.9 162.9 95.0 163.6 95.2 164.3 95.0 165.0 95.4 165.7 95.5 166.4 95.4 167.1 95.5 167.8 95.4 168.5 95.4 169.2 95.1 169.9 95.5 170.6 95.1 171.3 94.5 172.0 94.7 172.7 94.9 173.4 94.7 174.1 94.2 174.8 92.9 175.5 93.2 176.2 91.9 176.9 92.8 177.6 92.2 178.3 90.1 179.0 90.0 179.7 88.6 180.4 88.5 181.1 88.0 181.8 88.5 182.5 89.9 183.2 90.4 183.9 91.7 184.6 92.6 185.3 93.1 186.0 94.3 186.7 95.3 187.4 95.8 188.1 96.0 188.8 96.9 189.5 97.2 190.2 97.7 190.9 97.8 191.6 98.0 192.3 98.0 193.0 98.2 193.7 98.1 194.4 98.5" fill="none" stroke="#000" stroke-width="0.85" stroke-linejoin="round"/>
<rect x="122.30" y="104.60" width="72.90" height="43.00" fill="#fff" stroke="#555" stroke-width="0.8"/>
<path d="M122.30 104.60V147.60" fill="none" stroke="#222" stroke-width="1.0"/>
<path d="M122.30 147.60H195.20" fill="none" stroke="#333" stroke-width="0.8500000000000001"/>
<path d="M122.3 108.9h1.3M122.3 113.2h1.3M122.3 117.5h1.3M122.3 121.8h1.3M122.3 126.1h1.3M122.3 130.4h1.3M122.3 134.7h1.3M122.3 139.0h1.3M122.3 143.3h1.3M125.3 147.6v0.9M128.4 147.6v0.9M131.4 147.6v0.9M134.4 147.6v0.9M137.5 147.6v0.9M140.5 147.6v0.9M143.6 147.6v0.9M146.6 147.6v0.9M149.6 147.6v0.9M152.7 147.6v0.9M155.7 147.6v0.9M158.8 147.6v0.9M161.8 147.6v0.9M164.8 147.6v0.9M167.9 147.6v0.9M170.9 147.6v0.9M173.9 147.6v0.9M177.0 147.6v0.9M180.0 147.6v0.9M183.0 147.6v0.9M186.1 147.6v0.9M189.1 147.6v0.9M192.2 147.6v0.9" stroke="#222" stroke-width="0.7" fill="none"/>
<text x="128.0" y="116.7" font-size="7.7" font-weight="bold" text-anchor="start" fill="#000" textLength="8.7" lengthAdjust="spacingAndGlyphs" stroke="#000" stroke-width="0.22">3h</text>
<text x="176.2" y="120.2" font-size="7.6" font-weight="bold" text-anchor="start" fill="#000" textLength="14.5" lengthAdjust="spacingAndGlyphs" stroke="#000" stroke-width="0.22">40%</text>
<path d="M167.2 118V127.3M192.4 118V127.3M167.2 122.4H192.4" fill="none" stroke="#222" stroke-width="0.8"/>
<path d="M123.0 146.8 123.7 146.7 124.4 146.3 125.1 145.9 125.8 145.7 126.5 145.3 127.2 144.9 127.9 145.3 128.6 144.5 129.3 144.8 130.0 144.7 130.7 144.4 131.4 143.3 132.1 142.2 132.8 140.9 133.5 139.9 134.2 139.0 134.9 138.5 135.6 137.9 136.3 137.4 137.0 135.3 137.7 136.3 138.4 135.0 139.1 136.7 139.8 135.8 140.5 136.0 141.2 134.9 141.9 134.0 142.6 133.5 143.3 134.2 144.0 133.1 144.7 134.6 145.4 134.9 146.1 134.3 146.8 135.7 147.5 135.4 148.2 135.7 148.9 135.8 149.6 135.0 150.3 135.4 151.0 134.9 151.7 135.8 152.4 135.5 153.1 137.5 153.8 138.2 154.5 138.0 155.2 139.2 155.9 140.0 156.6 141.6 157.3 141.9 158.0 142.6 158.7 143.8 159.4 143.4 160.1 143.9 160.8 144.2 161.5 144.8 162.2 144.9 162.9 145.6 163.6 145.5 164.3 145.7 165.0 146.3 165.7 146.7 166.4 146.4 167.1 145.9 167.8 145.3 168.5 145.4 169.2 144.7 169.9 144.6 170.6 144.0 171.3 144.1 172.0 143.3 172.7 143.3 173.4 142.6 174.1 142.3 174.8 141.7 175.5 141.8 176.2 138.9 176.9 139.2 177.6 137.1 178.3 135.9 179.0 134.7 179.7 131.3 180.4 130.7 181.1 128.3 181.8 130.7 182.5 132.2 183.2 133.9 183.9 135.1 184.6 137.7 185.3 139.4 186.0 142.1 186.7 143.1 187.4 144.7 188.1 146.2 188.8 146.7 189.5 146.5 190.2 146.7 190.9 146.7 191.6 146.6 192.3 146.8 193.0 147.1 193.7 146.9 194.4 147.2" fill="none" stroke="#000" stroke-width="0.85" stroke-linejoin="round"/>
<rect x="123.30" y="153.80" width="72.60" height="43.60" fill="#fff" stroke="#555" stroke-width="0.8"/>
<path d="M123.30 153.80V197.40" fill="none" stroke="#222" stroke-width="1.0"/>
<path d="M123.30 197.40H195.90" fill="none" stroke="#333" stroke-width="0.8500000000000001"/>
<path d="M123.3 158.2h1.3M123.3 162.5h1.3M123.3 166.9h1.3M123.3 171.2h1.3M123.3 175.6h1.3M123.3 180.0h1.3M123.3 184.3h1.3M123.3 188.7h1.3M123.3 193.0h1.3M126.3 197.4v0.9M129.3 197.4v0.9M132.4 197.4v0.9M135.4 197.4v0.9M138.4 197.4v0.9M141.4 197.4v0.9M144.5 197.4v0.9M147.5 197.4v0.9M150.5 197.4v0.9M153.6 197.4v0.9M156.6 197.4v0.9M159.6 197.4v0.9M162.6 197.4v0.9M165.7 197.4v0.9M168.7 197.4v0.9M171.7 197.4v0.9M174.7 197.4v0.9M177.8 197.4v0.9M180.8 197.4v0.9M183.8 197.4v0.9M186.8 197.4v0.9M189.9 197.4v0.9M192.9 197.4v0.9" stroke="#222" stroke-width="0.7" fill="none"/>
<text x="128.0" y="164.1" font-size="7.7" font-weight="bold" text-anchor="start" fill="#000" textLength="13.0" lengthAdjust="spacingAndGlyphs" stroke="#000" stroke-width="0.22">12h</text>
<text x="173.6" y="166.1" font-size="7.6" font-weight="bold" text-anchor="start" fill="#000" textLength="13.6" lengthAdjust="spacingAndGlyphs" stroke="#000" stroke-width="0.22">66%</text>
<path d="M169 162.5V170.4M193.6 162.5V170.4M169 166.2H193.6" fill="none" stroke="#222" stroke-width="0.8"/>
<path d="M124.0 196.4 124.7 196.3 125.4 196.3 126.1 195.8 126.8 195.6 127.5 194.9 128.2 194.9 128.9 194.4 129.6 194.2 130.3 194.1 131.0 193.5 131.7 193.7 132.4 192.8 133.1 192.9 133.8 192.4 134.5 191.9 135.2 191.5 135.9 191.4 136.6 192.0 137.3 190.5 138.0 191.0 138.7 189.3 139.4 190.5 140.1 189.5 140.8 189.5 141.5 189.8 142.2 189.4 142.9 189.4 143.6 189.0 144.3 189.0 145.0 188.0 145.7 188.3 146.4 188.2 147.1 187.5 147.8 188.4 148.5 188.3 149.2 187.5 149.9 187.9 150.6 188.4 151.3 188.2 152.0 189.0 152.7 189.4 153.4 188.7 154.1 190.0 154.8 190.6 155.5 189.8 156.2 190.9 156.9 190.0 157.6 190.2 158.3 191.6 159.0 191.5 159.7 192.6 160.4 193.2 161.1 192.7 161.8 192.8 162.5 193.4 163.2 193.6 163.9 193.8 164.6 193.6 165.3 194.0 166.0 193.9 166.7 193.4 167.4 193.5 168.1 193.7 168.8 193.2 169.5 192.6 170.2 193.0 170.9 192.7 171.6 191.9 172.3 191.7 173.0 191.6 173.7 189.9 174.4 189.4 175.1 189.0 175.8 187.6 176.5 185.1 177.2 182.3 177.9 181.1 178.6 176.5 179.3 174.9 180.0 172.5 180.7 170.3 181.4 168.6 182.1 167.6 182.8 167.7 183.5 168.5 184.2 169.5 184.9 170.7 185.6 173.7 186.3 177.2 187.0 181.8 187.7 183.8 188.4 185.0 189.1 188.2 189.8 189.7 190.5 191.8 191.2 193.3 191.9 194.5 192.6 194.8 193.3 195.3 194.0 195.7 194.7 195.9 195.4 196.5" fill="none" stroke="#000" stroke-width="0.85" stroke-linejoin="round"/>
<rect x="125.80" y="201.80" width="70.10" height="39.20" fill="#fff" stroke="#555" stroke-width="0.8"/>
<path d="M125.80 201.80V241.00" fill="none" stroke="#222" stroke-width="1.0"/>
<path d="M125.80 241.00H195.90" fill="none" stroke="#333" stroke-width="0.8500000000000001"/>
<path d="M125.8 205.7h1.3M125.8 209.6h1.3M125.8 213.6h1.3M125.8 217.5h1.3M125.8 221.4h1.3M125.8 225.3h1.3M125.8 229.2h1.3M125.8 233.2h1.3M125.8 237.1h1.3M128.7 241.0v0.9M131.6 241.0v0.9M134.6 241.0v0.9M137.5 241.0v0.9M140.4 241.0v0.9M143.3 241.0v0.9M146.2 241.0v0.9M149.2 241.0v0.9M152.1 241.0v0.9M155.0 241.0v0.9M157.9 241.0v0.9M160.8 241.0v0.9M163.8 241.0v0.9M166.7 241.0v0.9M169.6 241.0v0.9M172.5 241.0v0.9M175.5 241.0v0.9M178.4 241.0v0.9M181.3 241.0v0.9M184.2 241.0v0.9M187.1 241.0v0.9M190.1 241.0v0.9M193.0 241.0v0.9" stroke="#222" stroke-width="0.7" fill="none"/>
<text x="140.2" y="209.8" font-size="7.3" font-weight="bold" text-anchor="start" fill="#000" textLength="12.4" lengthAdjust="spacingAndGlyphs" stroke="#000" stroke-width="0.22">12h</text>
<text x="128.6" y="219.0" font-size="7.3" font-weight="bold" text-anchor="start" fill="#000" textLength="34.3" lengthAdjust="spacingAndGlyphs" stroke="#000" stroke-width="0.22">(VADfmk)</text>
<text x="176.0" y="217.1" font-size="7.6" font-weight="bold" text-anchor="start" fill="#000" textLength="13.8" lengthAdjust="spacingAndGlyphs" stroke="#000" stroke-width="0.22">17%</text>
<path d="M163.8 222.6V228.2M192.4 222.6V228.2M163.8 225.3H192.4" fill="none" stroke="#222" stroke-width="0.8"/>
<path d="M126.6 240.5V229" stroke="#222" stroke-width="0.9"/>
<path d="M126.8 239.0 127.5 238.6 128.2 238.2 128.9 237.7 129.6 237.4 130.3 236.4 131.0 236.5 131.7 235.9 132.4 236.2 133.1 234.7 133.8 235.1 134.5 233.9 135.2 233.6 135.9 233.2 136.6 232.8 137.3 230.8 138.0 229.9 138.7 230.9 139.4 229.9 140.1 229.5 140.8 228.0 141.5 228.1 142.2 225.7 142.9 225.6 143.6 226.0 144.3 228.5 145.0 228.5 145.7 228.3 146.4 227.3 147.1 226.7 147.8 227.1 148.5 226.1 149.2 226.4 149.9 226.3 150.6 227.8 151.3 228.2 152.0 228.6 152.7 229.3 153.4 229.0 154.1 231.3 154.8 232.1 155.5 233.1 156.2 233.5 156.9 234.0 157.6 235.0 158.3 235.1 159.0 235.4 159.7 236.3 160.4 236.6 161.1 236.6 161.8 236.6 162.5 237.5 163.2 237.0 163.9 238.0 164.6 237.9 165.3 237.9 166.0 237.6 166.7 237.4 167.4 237.0 168.1 236.9 168.8 236.6 169.5 236.8 170.2 235.7 170.9 235.7 171.6 235.4 172.3 236.4 173.0 236.2 173.7 236.5 174.4 237.1 175.1 236.8 175.8 237.0 176.5 237.7 177.2 237.6 177.9 238.1 178.6 238.3 179.3 237.7 180.0 237.7 180.7 237.2 181.4 236.9 182.1 236.7 182.8 236.9 183.5 236.1 184.2 237.0 184.9 237.1 185.6 237.5 186.3 238.0 187.0 238.4 187.7 238.6 188.4 238.9 189.1 239.3 189.8 239.5 190.5 239.8 191.2 239.7 191.9 240.1 192.6 240.1 193.3 240.3 194.0 240.3 194.7 240.4" fill="none" stroke="#000" stroke-width="0.85" stroke-linejoin="round"/>
<rect x="125.00" y="247.00" width="70.90" height="42.20" fill="#fff" stroke="#555" stroke-width="0.8"/>
<path d="M125.00 247.00V289.20" fill="none" stroke="#222" stroke-width="1.0"/>
<path d="M125.00 289.20H195.90" fill="none" stroke="#333" stroke-width="0.8500000000000001"/>
<path d="M125.0 251.2h1.3M125.0 255.4h1.3M125.0 259.7h1.3M125.0 263.9h1.3M125.0 268.1h1.3M125.0 272.3h1.3M125.0 276.5h1.3M125.0 280.8h1.3M125.0 285.0h1.3M128.0 289.2v0.9M130.9 289.2v0.9M133.9 289.2v0.9M136.8 289.2v0.9M139.8 289.2v0.9M142.7 289.2v0.9M145.7 289.2v0.9M148.6 289.2v0.9M151.6 289.2v0.9M154.5 289.2v0.9M157.5 289.2v0.9M160.4 289.2v0.9M163.4 289.2v0.9M166.4 289.2v0.9M169.3 289.2v0.9M172.3 289.2v0.9M175.2 289.2v0.9M178.2 289.2v0.9M181.1 289.2v0.9M184.1 289.2v0.9M187.0 289.2v0.9M190.0 289.2v0.9M192.9 289.2v0.9" stroke="#222" stroke-width="0.7" fill="none"/>
<text x="141.0" y="256.4" font-size="7.3" font-weight="bold" text-anchor="start" fill="#000" textLength="13.2" lengthAdjust="spacingAndGlyphs" stroke="#000" stroke-width="0.22">12h.</text>
<text x="125.4" y="265.6" font-size="7.3" font-weight="bold" text-anchor="start" fill="#000" textLength="44.0" lengthAdjust="spacingAndGlyphs" stroke="#000" stroke-width="0.22">(aCD40+IL4)</text>
<text x="178.0" y="255.5" font-size="7.6" font-weight="bold" text-anchor="start" fill="#000" textLength="13.6" lengthAdjust="spacingAndGlyphs" stroke="#000" stroke-width="0.22">44%</text>
<path d="M170.7 254.5V264.2M193 254.5V264.2M170.7 259.8H193" fill="none" stroke="#222" stroke-width="0.8"/>
<path d="M125.8 288.5 126.5 288.1 127.2 287.6 127.9 287.6 128.6 287.3 129.3 286.9 130.0 286.5 130.7 286.3 131.4 286.0 132.1 285.4 132.8 285.7 133.5 285.1 134.2 284.7 134.9 284.7 135.6 284.8 136.3 283.6 137.0 283.4 137.7 282.9 138.4 282.3 139.1 281.5 139.8 282.4 140.5 281.4 141.2 281.6 141.9 281.9 142.6 280.8 143.3 280.4 144.0 279.6 144.7 280.1 145.4 279.6 146.1 279.5 146.8 280.0 147.5 280.5 148.2 280.4 148.9 280.5 149.6 280.3 150.3 280.3 151.0 281.2 151.7 281.4 152.4 281.4 153.1 281.1 153.8 280.6 154.5 279.1 155.2 280.2 155.9 280.7 156.6 279.6 157.3 279.6 158.0 280.9 158.7 280.7 159.4 280.9 160.1 282.0 160.8 281.8 161.5 281.7 162.2 281.8 162.9 282.0 163.6 283.0 164.3 282.8 165.0 283.5 165.7 282.2 166.4 283.5 167.1 283.4 167.8 283.5 168.5 284.0 169.2 283.4 169.9 283.9 170.6 284.0 171.3 284.3 172.0 284.1 172.7 284.1 173.4 283.5 174.1 284.0 174.8 284.1 175.5 284.0 176.2 282.5 176.9 283.0 177.6 282.8 178.3 281.5 179.0 279.5 179.7 277.6 180.4 275.4 181.1 273.0 181.8 272.3 182.5 271.4 183.2 269.8 183.9 270.8 184.6 271.4 185.3 271.4 186.0 274.2 186.7 276.6 187.4 277.0 188.1 279.4 188.8 281.2 189.5 281.6 190.2 283.9 190.9 285.5 191.6 286.1 192.3 287.1 193.0 287.8 193.7 288.1 194.4 288.2 195.1 288.6" fill="none" stroke="#000" stroke-width="0.85" stroke-linejoin="round"/>
<text x="122.0" y="296.0" font-size="4.2" font-weight="bold" text-anchor="start" fill="#000" >10</text>
<text x="126.2" y="293.7" font-size="3.2" font-weight="bold" text-anchor="start" fill="#000" >0</text>
<text x="140.8" y="296.0" font-size="4.2" font-weight="bold" text-anchor="start" fill="#000" >10</text>
<text x="145.0" y="293.7" font-size="3.2" font-weight="bold" text-anchor="start" fill="#000" >1</text>
<text x="158.2" y="296.0" font-size="4.2" font-weight="bold" text-anchor="start" fill="#000" >10</text>
<text x="162.4" y="293.7" font-size="3.2" font-weight="bold" text-anchor="start" fill="#000" >2</text>
<text x="175.6" y="296.0" font-size="4.2" font-weight="bold" text-anchor="start" fill="#000" >10</text>
<text x="179.8" y="293.7" font-size="3.2" font-weight="bold" text-anchor="start" fill="#000" >3</text>
<text x="192.4" y="296.0" font-size="4.2" font-weight="bold" text-anchor="start" fill="#000" >10</text>
<text x="196.6" y="293.7" font-size="3.2" font-weight="bold" text-anchor="start" fill="#000" >4</text>
<text x="131.0" y="311.2" font-size="12.6" font-weight="bold" text-anchor="start" fill="#000" textLength="59.5" lengthAdjust="spacingAndGlyphs" stroke="#000" stroke-width="0.22">Annexin-V</text>
<text x="240.6" y="9.0" font-size="9" font-weight="bold" text-anchor="start" fill="#000" textLength="13.1" lengthAdjust="spacingAndGlyphs" stroke="#000" stroke-width="0.22">B.1</text>
<text x="264.0" y="7.4" font-size="8.5" font-weight="bold" text-anchor="start" fill="#000" textLength="25.2" lengthAdjust="spacingAndGlyphs" stroke="#000" stroke-width="0.22">CD11a</text>
<text x="310.7" y="5.9" font-size="8.5" font-weight="bold" text-anchor="start" fill="#000" textLength="20.5" lengthAdjust="spacingAndGlyphs" stroke="#000" stroke-width="0.22">CD20</text>
<text x="357.0" y="7.1" font-size="8.5" font-weight="bold" text-anchor="start" fill="#000" textLength="20.2" lengthAdjust="spacingAndGlyphs" stroke="#000" stroke-width="0.22">CD21</text>
<text x="401.7" y="7.4" font-size="8.5" font-weight="bold" text-anchor="start" fill="#000" textLength="21.0" lengthAdjust="spacingAndGlyphs" stroke="#000" stroke-width="0.22">CD22</text>
<text x="448.5" y="8.2" font-size="8.5" font-weight="bold" text-anchor="start" fill="#000" textLength="21.0" lengthAdjust="spacingAndGlyphs" stroke="#000" stroke-width="0.22">CD38</text>
<text x="242.1" y="59.8" font-size="8.5" font-weight="bold" text-anchor="start" fill="#000" textLength="21.0" lengthAdjust="spacingAndGlyphs" stroke="#000" stroke-width="0.22">CD40</text>
<text x="290.0" y="60.3" font-size="8.5" font-weight="bold" text-anchor="start" fill="#000" textLength="20.6" lengthAdjust="spacingAndGlyphs" stroke="#000" stroke-width="0.22">CD45</text>
<text x="335.9" y="61.0" font-size="8.5" font-weight="bold" text-anchor="start" fill="#000" textLength="26.3" lengthAdjust="spacingAndGlyphs" stroke="#000" stroke-width="0.22">CD49d</text>
<text x="381.5" y="60.1" font-size="8.5" font-weight="bold" text-anchor="start" fill="#000" textLength="21.2" lengthAdjust="spacingAndGlyphs" stroke="#000" stroke-width="0.22">CD54</text>
<text x="426.0" y="61.8" font-size="8.5" font-weight="bold" text-anchor="start" fill="#000" textLength="21.0" lengthAdjust="spacingAndGlyphs" stroke="#000" stroke-width="0.22">CD58</text>
<text x="471.8" y="61.3" font-size="8.5" font-weight="bold" text-anchor="start" fill="#000" textLength="34.6" lengthAdjust="spacingAndGlyphs" stroke="#000" stroke-width="0.22">HLA-DR</text>
<rect x="263.60" y="9.50" width="41.50" height="40.50" fill="#fff" stroke="#555" stroke-width="0.8"/>
<path d="M263.60 9.50V50.00" fill="none" stroke="#222" stroke-width="1.0"/>
<path d="M263.60 50.00H305.10" fill="none" stroke="#333" stroke-width="0.8500000000000001"/>
<path d="M263.6 14.6h1.2M263.6 19.6h1.2M263.6 24.7h1.2M263.6 29.8h1.2M263.6 34.8h1.2M263.6 39.9h1.2M263.6 44.9h1.2M266.2 50.0v0.9M268.8 50.0v0.9M271.4 50.0v0.9M274.0 50.0v0.9M276.6 50.0v0.9M279.2 50.0v0.9M281.8 50.0v0.9M284.4 50.0v0.9M286.9 50.0v0.9M289.5 50.0v0.9M292.1 50.0v0.9M294.7 50.0v0.9M297.3 50.0v0.9M299.9 50.0v0.9M302.5 50.0v0.9" stroke="#222" stroke-width="0.7" fill="none"/>
<rect x="309.70" y="10.20" width="41.00" height="40.20" fill="#fff" stroke="#555" stroke-width="0.8"/>
<path d="M309.70 10.20V50.40" fill="none" stroke="#222" stroke-width="1.0"/>
<path d="M309.70 50.40H350.70" fill="none" stroke="#333" stroke-width="0.8500000000000001"/>
<path d="M309.7 15.2h1.2M309.7 20.2h1.2M309.7 25.3h1.2M309.7 30.3h1.2M309.7 35.3h1.2M309.7 40.4h1.2M309.7 45.4h1.2M312.3 50.4v0.9M314.8 50.4v0.9M317.4 50.4v0.9M319.9 50.4v0.9M322.5 50.4v0.9M325.1 50.4v0.9M327.6 50.4v0.9M330.2 50.4v0.9M332.8 50.4v0.9M335.3 50.4v0.9M337.9 50.4v0.9M340.4 50.4v0.9M343.0 50.4v0.9M345.6 50.4v0.9M348.1 50.4v0.9" stroke="#222" stroke-width="0.7" fill="none"/>
<rect x="355.60" y="9.40" width="40.90" height="40.30" fill="#fff" stroke="#555" stroke-width="0.8"/>
<path d="M355.60 9.40V49.70" fill="none" stroke="#222" stroke-width="1.0"/>
<path d="M355.60 49.70H396.50" fill="none" stroke="#333" stroke-width="0.8500000000000001"/>
<path d="M355.6 14.4h1.2M355.6 19.5h1.2M355.6 24.5h1.2M355.6 29.6h1.2M355.6 34.6h1.2M355.6 39.6h1.2M355.6 44.7h1.2M358.2 49.7v0.9M360.7 49.7v0.9M363.3 49.7v0.9M365.8 49.7v0.9M368.4 49.7v0.9M370.9 49.7v0.9M373.5 49.7v0.9M376.1 49.7v0.9M378.6 49.7v0.9M381.2 49.7v0.9M383.7 49.7v0.9M386.3 49.7v0.9M388.8 49.7v0.9M391.4 49.7v0.9M393.9 49.7v0.9" stroke="#222" stroke-width="0.7" fill="none"/>
<rect x="400.40" y="9.90" width="41.40" height="39.90" fill="#fff" stroke="#555" stroke-width="0.8"/>
<path d="M400.40 9.90V49.80" fill="none" stroke="#222" stroke-width="1.0"/>
<path d="M400.40 49.80H441.80" fill="none" stroke="#333" stroke-width="0.8500000000000001"/>
<path d="M400.4 14.9h1.2M400.4 19.9h1.2M400.4 24.9h1.2M400.4 29.9h1.2M400.4 34.8h1.2M400.4 39.8h1.2M400.4 44.8h1.2M403.0 49.8v0.9M405.6 49.8v0.9M408.2 49.8v0.9M410.8 49.8v0.9M413.3 49.8v0.9M415.9 49.8v0.9M418.5 49.8v0.9M421.1 49.8v0.9M423.7 49.8v0.9M426.3 49.8v0.9M428.9 49.8v0.9M431.4 49.8v0.9M434.0 49.8v0.9M436.6 49.8v0.9M439.2 49.8v0.9" stroke="#222" stroke-width="0.7" fill="none"/>
<rect x="446.20" y="9.90" width="42.30" height="40.80" fill="#fff" stroke="#555" stroke-width="0.8"/>
<path d="M446.20 9.90V50.70" fill="none" stroke="#222" stroke-width="1.0"/>
<path d="M446.20 50.70H488.50" fill="none" stroke="#333" stroke-width="0.8500000000000001"/>
<path d="M446.2 15.0h1.2M446.2 20.1h1.2M446.2 25.2h1.2M446.2 30.3h1.2M446.2 35.4h1.2M446.2 40.5h1.2M446.2 45.6h1.2M448.8 50.7v0.9M451.5 50.7v0.9M454.1 50.7v0.9M456.8 50.7v0.9M459.4 50.7v0.9M462.1 50.7v0.9M464.7 50.7v0.9M467.4 50.7v0.9M470.0 50.7v0.9M472.6 50.7v0.9M475.3 50.7v0.9M477.9 50.7v0.9M480.6 50.7v0.9M483.2 50.7v0.9M485.9 50.7v0.9" stroke="#222" stroke-width="0.7" fill="none"/>
<rect x="239.80" y="63.00" width="43.60" height="41.60" fill="#fff" stroke="#555" stroke-width="0.8"/>
<path d="M239.80 63.00V104.60" fill="none" stroke="#222" stroke-width="1.0"/>
<path d="M239.80 104.60H283.40" fill="none" stroke="#333" stroke-width="0.8500000000000001"/>
<path d="M239.8 68.2h1.2M239.8 73.4h1.2M239.8 78.6h1.2M239.8 83.8h1.2M239.8 89.0h1.2M239.8 94.2h1.2M239.8 99.4h1.2M242.5 104.6v0.9M245.2 104.6v0.9M248.0 104.6v0.9M250.7 104.6v0.9M253.4 104.6v0.9M256.1 104.6v0.9M258.9 104.6v0.9M261.6 104.6v0.9M264.3 104.6v0.9M267.1 104.6v0.9M269.8 104.6v0.9M272.5 104.6v0.9M275.2 104.6v0.9M277.9 104.6v0.9M280.7 104.6v0.9" stroke="#222" stroke-width="0.7" fill="none"/>
<rect x="286.60" y="63.20" width="42.90" height="41.40" fill="#fff" stroke="#555" stroke-width="0.8"/>
<path d="M286.60 63.20V104.60" fill="none" stroke="#222" stroke-width="1.0"/>
<path d="M286.60 104.60H329.50" fill="none" stroke="#333" stroke-width="0.8500000000000001"/>
<path d="M286.6 68.4h1.2M286.6 73.5h1.2M286.6 78.7h1.2M286.6 83.9h1.2M286.6 89.1h1.2M286.6 94.2h1.2M286.6 99.4h1.2M289.3 104.6v0.9M292.0 104.6v0.9M294.6 104.6v0.9M297.3 104.6v0.9M300.0 104.6v0.9M302.7 104.6v0.9M305.4 104.6v0.9M308.1 104.6v0.9M310.7 104.6v0.9M313.4 104.6v0.9M316.1 104.6v0.9M318.8 104.6v0.9M321.5 104.6v0.9M324.1 104.6v0.9M326.8 104.6v0.9" stroke="#222" stroke-width="0.7" fill="none"/>
<rect x="334.20" y="63.90" width="42.90" height="40.60" fill="#fff" stroke="#555" stroke-width="0.8"/>
<path d="M334.20 63.90V104.50" fill="none" stroke="#222" stroke-width="1.0"/>
<path d="M334.20 104.50H377.10" fill="none" stroke="#333" stroke-width="0.8500000000000001"/>
<path d="M334.2 69.0h1.2M334.2 74.0h1.2M334.2 79.1h1.2M334.2 84.2h1.2M334.2 89.3h1.2M334.2 94.3h1.2M334.2 99.4h1.2M336.9 104.5v0.9M339.6 104.5v0.9M342.2 104.5v0.9M344.9 104.5v0.9M347.6 104.5v0.9M350.3 104.5v0.9M353.0 104.5v0.9M355.6 104.5v0.9M358.3 104.5v0.9M361.0 104.5v0.9M363.7 104.5v0.9M366.4 104.5v0.9M369.1 104.5v0.9M371.7 104.5v0.9M374.4 104.5v0.9" stroke="#222" stroke-width="0.7" fill="none"/>
<rect x="381.20" y="63.90" width="40.70" height="40.30" fill="#fff" stroke="#555" stroke-width="0.8"/>
<path d="M381.20 63.90V104.20" fill="none" stroke="#222" stroke-width="1.0"/>
<path d="M381.20 104.20H421.90" fill="none" stroke="#333" stroke-width="0.8500000000000001"/>
<path d="M381.2 68.9h1.2M381.2 74.0h1.2M381.2 79.0h1.2M381.2 84.0h1.2M381.2 89.1h1.2M381.2 94.1h1.2M381.2 99.2h1.2M383.7 104.2v0.9M386.3 104.2v0.9M388.8 104.2v0.9M391.4 104.2v0.9M393.9 104.2v0.9M396.5 104.2v0.9M399.0 104.2v0.9M401.5 104.2v0.9M404.1 104.2v0.9M406.6 104.2v0.9M409.2 104.2v0.9M411.7 104.2v0.9M414.3 104.2v0.9M416.8 104.2v0.9M419.4 104.2v0.9" stroke="#222" stroke-width="0.7" fill="none"/>
<rect x="424.60" y="63.80" width="40.60" height="40.00" fill="#fff" stroke="#555" stroke-width="0.8"/>
<path d="M424.60 63.80V103.80" fill="none" stroke="#222" stroke-width="1.0"/>
<path d="M424.60 103.80H465.20" fill="none" stroke="#333" stroke-width="0.8500000000000001"/>
<path d="M424.6 68.8h1.2M424.6 73.8h1.2M424.6 78.8h1.2M424.6 83.8h1.2M424.6 88.8h1.2M424.6 93.8h1.2M424.6 98.8h1.2M427.1 103.8v0.9M429.7 103.8v0.9M432.2 103.8v0.9M434.8 103.8v0.9M437.3 103.8v0.9M439.8 103.8v0.9M442.4 103.8v0.9M444.9 103.8v0.9M447.4 103.8v0.9M450.0 103.8v0.9M452.5 103.8v0.9M455.1 103.8v0.9M457.6 103.8v0.9M460.1 103.8v0.9M462.7 103.8v0.9" stroke="#222" stroke-width="0.7" fill="none"/>
<rect x="469.00" y="63.80" width="42.40" height="40.80" fill="#fff" stroke="#555" stroke-width="0.8"/>
<path d="M469.00 63.80V104.60" fill="none" stroke="#222" stroke-width="1.0"/>
<path d="M469.00 104.60H511.40" fill="none" stroke="#333" stroke-width="0.8500000000000001"/>
<path d="M469.0 68.9h1.2M469.0 74.0h1.2M469.0 79.1h1.2M469.0 84.2h1.2M469.0 89.3h1.2M469.0 94.4h1.2M469.0 99.5h1.2M471.6 104.6v0.9M474.3 104.6v0.9M476.9 104.6v0.9M479.6 104.6v0.9M482.2 104.6v0.9M484.9 104.6v0.9M487.6 104.6v0.9M490.2 104.6v0.9M492.8 104.6v0.9M495.5 104.6v0.9M498.1 104.6v0.9M500.8 104.6v0.9M503.4 104.6v0.9M506.1 104.6v0.9M508.8 104.6v0.9" stroke="#222" stroke-width="0.7" fill="none"/>
<path d="M281.5 12h0.55v0.55h-0.55zM291 17h0.55v0.55h-0.55zM303 18.5h0.55v0.55h-0.55zM291 19h0.55v0.55h-0.55zM293 19h0.55v0.55h-0.55zM288 20h0.55v0.55h-0.55zM302 20h0.55v0.55h-0.55zM274 20.5h0.55v0.55h-0.55zM285.5 20.5h0.55v0.55h-0.55zM274.5 21h0.55v0.55h-0.55zM273 21.5h0.55v0.55h-0.55zM278 21.5h0.55v0.55h-0.55zM281 21.5h0.55v0.55h-0.55zM280 22.5h1.05v0.55h-1.05zM293 22.5h0.55v0.55h-0.55zM298 22.5h0.55v0.55h-0.55zM273 23h0.55v0.55h-0.55zM292 23h0.55v0.55h-0.55zM297.5 23h0.55v0.55h-0.55zM274 23.5h0.55v0.55h-0.55zM274.5 24h0.55v0.55h-0.55zM278 24h0.55v0.55h-0.55zM281 24h0.55v0.55h-0.55zM291 24h0.55v0.55h-0.55zM277.5 24.5h0.55v0.55h-0.55zM293 24.5h0.55v0.55h-0.55zM280.5 25h0.55v0.55h-0.55zM281.5 25h0.55v0.55h-0.55zM285 25h0.55v0.55h-0.55zM287.5 25h0.55v0.55h-0.55zM274 25.5h0.55v0.55h-0.55zM280.5 25.5h0.55v0.55h-0.55zM288.5 25.5h0.55v0.55h-0.55zM294 25.5h0.55v0.55h-0.55zM265.5 26h0.55v0.55h-0.55zM274 26h0.55v0.55h-0.55zM279 26h0.55v0.55h-0.55zM283 26h0.55v0.55h-0.55zM287 26h0.55v0.55h-0.55zM299.5 26h0.55v0.55h-0.55zM269.5 26.5h0.55v0.55h-0.55zM292.5 26.5h0.55v0.55h-0.55zM297.5 27h0.55v0.55h-0.55zM269 27.5h0.55v0.55h-0.55zM276.5 27.5h0.55v0.55h-0.55zM277.5 27.5h0.55v0.55h-0.55zM279.5 27.5h1.55v0.55h-1.55zM291.5 27.5h0.55v0.55h-0.55zM276.5 28h0.55v0.55h-0.55zM279.5 28h0.55v0.55h-0.55zM285 28h0.55v0.55h-0.55zM292.5 28h0.55v0.55h-0.55zM302.5 28h0.55v0.55h-0.55zM270.5 28.5h0.55v0.55h-0.55zM273 28.5h0.55v0.55h-0.55zM276.5 28.5h0.55v0.55h-0.55zM295.5 28.5h0.55v0.55h-0.55zM272.5 29h0.55v0.55h-0.55zM291 29h0.55v0.55h-0.55zM270 29.5h0.55v0.55h-0.55zM280.5 29.5h0.55v0.55h-0.55zM284.5 29.5h0.55v0.55h-0.55zM286 29.5h0.55v0.55h-0.55zM296.5 29.5h1.05v0.55h-1.05zM265 30h0.55v0.55h-0.55zM266.5 30h0.55v0.55h-0.55zM280.5 30h0.55v0.55h-0.55zM283 30h0.55v0.55h-0.55zM286.5 30h0.55v0.55h-0.55zM270 30.5h0.55v0.55h-0.55zM273.5 30.5h0.55v0.55h-0.55zM281 30.5h0.55v0.55h-0.55zM284 30.5h0.55v0.55h-0.55zM285.5 30.5h0.55v0.55h-0.55zM273 31h0.55v0.55h-0.55zM275 31h0.55v0.55h-0.55zM276.5 31h0.55v0.55h-0.55zM278 31h0.55v0.55h-0.55zM292.5 31h0.55v0.55h-0.55zM298.5 31h0.55v0.55h-0.55zM272 31.5h0.55v0.55h-0.55zM273.5 31.5h1.05v0.55h-1.05zM287 31.5h0.55v0.55h-0.55zM296.5 31.5h0.55v0.55h-0.55zM302.5 31.5h0.55v0.55h-0.55zM272.5 32h0.55v0.55h-0.55zM275 32h0.55v0.55h-0.55zM276.5 32h0.55v0.55h-0.55zM281 32h0.55v0.55h-0.55zM283.5 32h0.55v0.55h-0.55zM265.5 32.5h0.55v0.55h-0.55zM275.5 32.5h0.55v0.55h-0.55zM282.5 32.5h0.55v0.55h-0.55zM285 32.5h0.55v0.55h-0.55zM286.5 32.5h0.55v0.55h-0.55zM292.5 32.5h0.55v0.55h-0.55zM295 32.5h0.55v0.55h-0.55zM265.5 33h0.55v0.55h-0.55zM269.5 33h0.55v0.55h-0.55zM270.5 33h0.55v0.55h-0.55zM274.5 33h0.55v0.55h-0.55zM278 33h1.05v0.55h-1.05zM282.5 33h0.55v0.55h-0.55zM285.5 33h0.55v0.55h-0.55zM292.5 33h1.05v0.55h-1.05zM294 33h0.55v0.55h-0.55zM300.5 33h0.55v0.55h-0.55zM301.5 33h0.55v0.55h-0.55zM265.5 33.5h0.55v0.55h-0.55zM268 33.5h0.55v0.55h-0.55zM269.5 33.5h0.55v0.55h-0.55zM273.5 33.5h0.55v0.55h-0.55zM277 33.5h0.55v0.55h-0.55zM280 33.5h0.55v0.55h-0.55zM282 33.5h0.55v0.55h-0.55zM284 33.5h0.55v0.55h-0.55zM295 33.5h0.55v0.55h-0.55zM270.5 34h0.55v0.55h-0.55zM275 34h0.55v0.55h-0.55zM280 34h0.55v0.55h-0.55zM283.5 34h1.05v0.55h-1.05zM285 34h0.55v0.55h-0.55zM286 34h0.55v0.55h-0.55zM272.5 34.5h0.55v0.55h-0.55zM281 34.5h0.55v0.55h-0.55zM282 34.5h0.55v0.55h-0.55zM284 34.5h0.55v0.55h-0.55zM286 34.5h0.55v0.55h-0.55zM288 34.5h0.55v0.55h-0.55zM291.5 34.5h0.55v0.55h-0.55zM269.5 35h0.55v0.55h-0.55zM284 35h1.05v0.55h-1.05zM294 35h0.55v0.55h-0.55zM302.5 35h0.55v0.55h-0.55zM268.5 35.5h0.55v0.55h-0.55zM276 35.5h0.55v0.55h-0.55zM283.5 35.5h0.55v0.55h-0.55zM284.5 35.5h0.55v0.55h-0.55zM289.5 35.5h0.55v0.55h-0.55zM269 36h0.55v0.55h-0.55zM273.5 36h0.55v0.55h-0.55zM275 36h1.05v0.55h-1.05zM270.5 36.5h0.55v0.55h-0.55zM278 36.5h0.55v0.55h-0.55zM280.5 36.5h0.55v0.55h-0.55zM284 36.5h0.55v0.55h-0.55zM292.5 36.5h0.55v0.55h-0.55zM270.5 37h0.55v0.55h-0.55zM276 37h0.55v0.55h-0.55zM278.5 37h0.55v0.55h-0.55zM285.5 37h0.55v0.55h-0.55zM287 37h0.55v0.55h-0.55zM282 37.5h1.05v0.55h-1.05zM284.5 37.5h0.55v0.55h-0.55zM285.5 37.5h0.55v0.55h-0.55zM287 37.5h0.55v0.55h-0.55zM289 37.5h0.55v0.55h-0.55zM302 37.5h0.55v0.55h-0.55zM286.5 38h0.55v0.55h-0.55zM288.5 38h0.55v0.55h-0.55zM291 38h0.55v0.55h-0.55zM270.5 38.5h0.55v0.55h-0.55zM273.5 38.5h0.55v0.55h-0.55zM278 38.5h0.55v0.55h-0.55zM283.5 38.5h0.55v0.55h-0.55zM295.5 38.5h0.55v0.55h-0.55zM296.5 38.5h0.55v0.55h-0.55zM269 39h0.55v0.55h-0.55zM273.5 39h0.55v0.55h-0.55zM275.5 39h0.55v0.55h-0.55zM288 39h0.55v0.55h-0.55zM267.5 39.5h0.55v0.55h-0.55zM280 39.5h0.55v0.55h-0.55zM282 39.5h0.55v0.55h-0.55zM287.5 39.5h0.55v0.55h-0.55zM290.5 39.5h1.05v0.55h-1.05zM292.5 39.5h0.55v0.55h-0.55zM294.5 39.5h0.55v0.55h-0.55zM282 40h0.55v0.55h-0.55zM271 40.5h0.55v0.55h-0.55zM272 40.5h0.55v0.55h-0.55zM277.5 40.5h0.55v0.55h-0.55zM279 40.5h0.55v0.55h-0.55zM282.5 40.5h0.55v0.55h-0.55zM269.5 41h0.55v0.55h-0.55zM272.5 41h0.55v0.55h-0.55zM301.5 41h0.55v0.55h-0.55zM271.5 41.5h0.55v0.55h-0.55zM278 41.5h0.55v0.55h-0.55zM279 41.5h0.55v0.55h-0.55zM281.5 41.5h0.55v0.55h-0.55zM284.5 41.5h0.55v0.55h-0.55zM286.5 41.5h0.55v0.55h-0.55zM278 42h0.55v0.55h-0.55zM276.5 42.5h0.55v0.55h-0.55zM281.5 42.5h0.55v0.55h-0.55zM285.5 42.5h0.55v0.55h-0.55zM299.5 42.5h0.55v0.55h-0.55zM277.5 43h0.55v0.55h-0.55zM278.5 43h0.55v0.55h-0.55zM290 43h0.55v0.55h-0.55zM295 43.5h0.55v0.55h-0.55zM300.5 43.5h0.55v0.55h-0.55zM274.5 44h0.55v0.55h-0.55zM291.5 44h0.55v0.55h-0.55zM294.5 44h0.55v0.55h-0.55zM270.5 44.5h0.55v0.55h-0.55zM273 45h0.55v0.55h-0.55zM281 45h0.55v0.55h-0.55zM285 45h0.55v0.55h-0.55zM296 45h0.55v0.55h-0.55zM277 45.5h0.55v0.55h-0.55zM281.5 45.5h0.55v0.55h-0.55zM270.5 46h0.55v0.55h-0.55zM284 46h0.55v0.55h-0.55zM268 46.5h0.55v0.55h-0.55zM270.5 46.5h0.55v0.55h-0.55zM273.5 46.5h0.55v0.55h-0.55zM276 46.5h0.55v0.55h-0.55zM278.5 46.5h0.55v0.55h-0.55zM288.5 46.5h0.55v0.55h-0.55zM291 47h0.55v0.55h-0.55zM275 47.5h0.55v0.55h-0.55zM276.5 47.5h0.55v0.55h-0.55zM278.5 47.5h0.55v0.55h-0.55zM268 48.5h0.55v0.55h-0.55z" fill="#6a6a6a" opacity="1"/>
<path d="M338.5 20.5h0.55v0.55h-0.55zM313 21h0.55v0.55h-0.55zM335.5 23.5h0.55v0.55h-0.55zM341 23.5h0.55v0.55h-0.55zM336.5 24h0.55v0.55h-0.55zM313 24.5h0.55v0.55h-0.55zM326 24.5h0.55v0.55h-0.55zM346.5 24.5h0.55v0.55h-0.55zM331 25h0.55v0.55h-0.55zM325.5 26h0.55v0.55h-0.55zM329 26h0.55v0.55h-0.55zM344 26h0.55v0.55h-0.55zM314 26.5h0.55v0.55h-0.55zM317 26.5h0.55v0.55h-0.55zM324 26.5h0.55v0.55h-0.55zM328.5 26.5h0.55v0.55h-0.55zM330.5 26.5h0.55v0.55h-0.55zM332 26.5h0.55v0.55h-0.55zM333.5 26.5h1.05v0.55h-1.05zM335.5 26.5h0.55v0.55h-0.55zM337.5 26.5h0.55v0.55h-0.55zM319 27h0.55v0.55h-0.55zM332.5 27h0.55v0.55h-0.55zM337 27h0.55v0.55h-0.55zM347 27h0.55v0.55h-0.55zM332 27.5h0.55v0.55h-0.55zM333 27.5h1.05v0.55h-1.05zM335.5 27.5h0.55v0.55h-0.55zM337 27.5h0.55v0.55h-0.55zM339 27.5h0.55v0.55h-0.55zM335.5 28h0.55v0.55h-0.55zM337.5 28h0.55v0.55h-0.55zM338.5 28h0.55v0.55h-0.55zM341 28h0.55v0.55h-0.55zM325.5 28.5h0.55v0.55h-0.55zM331 28.5h0.55v0.55h-0.55zM332.5 28.5h0.55v0.55h-0.55zM334 28.5h0.55v0.55h-0.55zM323.5 29h1.05v0.55h-1.05zM327.5 29h0.55v0.55h-0.55zM328.5 29h0.55v0.55h-0.55zM330 29h0.55v0.55h-0.55zM334.5 29h0.55v0.55h-0.55zM324.5 29.5h0.55v0.55h-0.55zM329.5 29.5h0.55v0.55h-0.55zM331.5 29.5h0.55v0.55h-0.55zM332.5 29.5h1.05v0.55h-1.05zM334 29.5h0.55v0.55h-0.55zM335 29.5h0.55v0.55h-0.55zM338 29.5h0.55v0.55h-0.55zM341.5 29.5h0.55v0.55h-0.55zM344 29.5h0.55v0.55h-0.55zM324 30h0.55v0.55h-0.55zM328 30h0.55v0.55h-0.55zM332.5 30h0.55v0.55h-0.55zM324.5 30.5h0.55v0.55h-0.55zM325.5 30.5h0.55v0.55h-0.55zM330.5 30.5h1.05v0.55h-1.05zM333 30.5h0.55v0.55h-0.55zM335.5 30.5h0.55v0.55h-0.55zM338.5 30.5h0.55v0.55h-0.55zM324 31h1.05v0.55h-1.05zM328.5 31h1.05v0.55h-1.05zM334 31h0.55v0.55h-0.55zM335 31h0.55v0.55h-0.55zM337.5 31h0.55v0.55h-0.55zM339.5 31h0.55v0.55h-0.55zM342 31h0.55v0.55h-0.55zM332 31.5h1.05v0.55h-1.05zM334 31.5h1.05v0.55h-1.05zM340.5 31.5h0.55v0.55h-0.55zM342.5 31.5h0.55v0.55h-0.55zM322 32h0.55v0.55h-0.55zM325.5 32h0.55v0.55h-0.55zM329 32h0.55v0.55h-0.55zM333.5 32h1.05v0.55h-1.05zM337 32h0.55v0.55h-0.55zM340.5 32h0.55v0.55h-0.55zM326.5 32.5h0.55v0.55h-0.55zM331 32.5h0.55v0.55h-0.55zM337 32.5h0.55v0.55h-0.55zM338 32.5h0.55v0.55h-0.55zM341.5 32.5h0.55v0.55h-0.55zM322.5 33h0.55v0.55h-0.55zM328.5 33h0.55v0.55h-0.55zM329 33.5h0.55v0.55h-0.55zM331.5 33.5h0.55v0.55h-0.55zM336.5 33.5h1.05v0.55h-1.05zM338.5 34h0.55v0.55h-0.55zM339.5 34h0.55v0.55h-0.55zM325.5 34.5h0.55v0.55h-0.55zM327.5 34.5h0.55v0.55h-0.55zM321 35h0.55v0.55h-0.55zM325.5 35h0.55v0.55h-0.55zM321.5 36h0.55v0.55h-0.55zM332.5 36h0.55v0.55h-0.55zM347.5 36h0.55v0.55h-0.55zM326.5 36.5h0.55v0.55h-0.55zM325.5 37h0.55v0.55h-0.55zM327.5 37h0.55v0.55h-0.55zM346 37h0.55v0.55h-0.55zM322 37.5h0.55v0.55h-0.55zM315.5 38h0.55v0.55h-0.55zM346.5 38.5h0.55v0.55h-0.55zM343 40.5h0.55v0.55h-0.55zM349 40.5h0.55v0.55h-0.55zM323.5 42h0.55v0.55h-0.55zM340 43h0.55v0.55h-0.55zM326.5 46.5h0.55v0.55h-0.55zM329 47.5h0.55v0.55h-0.55zM319 48h0.55v0.55h-0.55zM342.5 49h0.55v0.55h-0.55zM346.5 49h0.55v0.55h-0.55z" fill="#6a6a6a" opacity="1"/>
<path d="M372.5 10.5h0.55v0.55h-0.55zM366.5 11.5h0.55v0.55h-0.55zM382.5 13.5h0.55v0.55h-0.55zM373.5 14h0.55v0.55h-0.55zM382.5 14h0.55v0.55h-0.55zM367 15h1.05v0.55h-1.05zM374 15h0.55v0.55h-0.55zM381 15.5h0.55v0.55h-0.55zM388 15.5h0.55v0.55h-0.55zM378.5 16h0.55v0.55h-0.55zM365 16.5h0.55v0.55h-0.55zM366.5 16.5h0.55v0.55h-0.55zM368 16.5h0.55v0.55h-0.55zM380 17h0.55v0.55h-0.55zM361.5 17.5h0.55v0.55h-0.55zM363 17.5h0.55v0.55h-0.55zM374 18h0.55v0.55h-0.55zM382.5 18h0.55v0.55h-0.55zM384 18h0.55v0.55h-0.55zM361.5 18.5h1.05v0.55h-1.05zM374.5 18.5h0.55v0.55h-0.55zM378.5 18.5h0.55v0.55h-0.55zM367.5 19h0.55v0.55h-0.55zM371.5 19h0.55v0.55h-0.55zM374 19h0.55v0.55h-0.55zM375.5 19h0.55v0.55h-0.55zM376.5 19h0.55v0.55h-0.55zM378 19h1.05v0.55h-1.05zM381 19h0.55v0.55h-0.55zM383.5 19h0.55v0.55h-0.55zM385.5 19h0.55v0.55h-0.55zM390.5 19h0.55v0.55h-0.55zM369.5 19.5h0.55v0.55h-0.55zM372.5 19.5h0.55v0.55h-0.55zM374 19.5h1.05v0.55h-1.05zM379 19.5h0.55v0.55h-0.55zM384 19.5h0.55v0.55h-0.55zM364 20h0.55v0.55h-0.55zM369.5 20h0.55v0.55h-0.55zM376.5 20h0.55v0.55h-0.55zM384 20h0.55v0.55h-0.55zM385.5 20h0.55v0.55h-0.55zM386.5 20h0.55v0.55h-0.55zM369.5 20.5h0.55v0.55h-0.55zM385 20.5h0.55v0.55h-0.55zM364.5 21h0.55v0.55h-0.55zM366 21h0.55v0.55h-0.55zM368.5 21h0.55v0.55h-0.55zM385.5 21h0.55v0.55h-0.55zM370 21.5h1.05v0.55h-1.05zM377.5 21.5h0.55v0.55h-0.55zM373 22h0.55v0.55h-0.55zM378.5 22h0.55v0.55h-0.55zM379.5 22h0.55v0.55h-0.55zM365.5 22.5h0.55v0.55h-0.55zM369 22.5h0.55v0.55h-0.55zM373 22.5h0.55v0.55h-0.55zM382 22.5h0.55v0.55h-0.55zM386 22.5h0.55v0.55h-0.55zM372 23h0.55v0.55h-0.55zM376.5 23h0.55v0.55h-0.55zM380 23h0.55v0.55h-0.55zM383.5 23h0.55v0.55h-0.55zM389 23h0.55v0.55h-0.55zM395 23h0.55v0.55h-0.55zM369.5 23.5h0.55v0.55h-0.55zM381 23.5h0.55v0.55h-0.55zM367.5 24h0.55v0.55h-0.55zM372 24h0.55v0.55h-0.55zM380.5 24h0.55v0.55h-0.55zM358.5 24.5h0.55v0.55h-0.55zM368.5 24.5h0.55v0.55h-0.55zM375.5 24.5h0.55v0.55h-0.55zM379.5 24.5h0.55v0.55h-0.55zM382 24.5h0.55v0.55h-0.55zM358 25h0.55v0.55h-0.55zM359 25h0.55v0.55h-0.55zM363 25h0.55v0.55h-0.55zM368 25h1.05v0.55h-1.05zM370 25h0.55v0.55h-0.55zM374.5 25h1.05v0.55h-1.05zM376 25h0.55v0.55h-0.55zM382 25h0.55v0.55h-0.55zM386.5 25h0.55v0.55h-0.55zM370.5 25.5h0.55v0.55h-0.55zM375 25.5h0.55v0.55h-0.55zM376 25.5h0.55v0.55h-0.55zM381.5 25.5h0.55v0.55h-0.55zM384 25.5h0.55v0.55h-0.55zM385 25.5h0.55v0.55h-0.55zM368.5 26h1.05v0.55h-1.05zM371 26h0.55v0.55h-0.55zM372 26h0.55v0.55h-0.55zM375 26h1.05v0.55h-1.05zM377.5 26h0.55v0.55h-0.55zM383.5 26h0.55v0.55h-0.55zM390 26h0.55v0.55h-0.55zM360 26.5h0.55v0.55h-0.55zM370.5 26.5h0.55v0.55h-0.55zM377 26.5h0.55v0.55h-0.55zM378 26.5h0.55v0.55h-0.55zM380 26.5h0.55v0.55h-0.55zM382.5 27h0.55v0.55h-0.55zM389 27h0.55v0.55h-0.55zM363 27.5h0.55v0.55h-0.55zM376.5 27.5h0.55v0.55h-0.55zM383.5 27.5h0.55v0.55h-0.55zM363.5 28h0.55v0.55h-0.55zM365.5 28h0.55v0.55h-0.55zM371.5 28h0.55v0.55h-0.55zM372.5 28h0.55v0.55h-0.55zM374.5 28h0.55v0.55h-0.55zM377 28h0.55v0.55h-0.55zM378.5 28h0.55v0.55h-0.55zM384.5 28h0.55v0.55h-0.55zM386 28h0.55v0.55h-0.55zM393 28h0.55v0.55h-0.55zM363 28.5h0.55v0.55h-0.55zM364 28.5h0.55v0.55h-0.55zM369.5 28.5h0.55v0.55h-0.55zM372.5 28.5h0.55v0.55h-0.55zM373.5 28.5h0.55v0.55h-0.55zM376.5 28.5h0.55v0.55h-0.55zM377.5 28.5h0.55v0.55h-0.55zM379.5 28.5h0.55v0.55h-0.55zM381 28.5h0.55v0.55h-0.55zM382.5 28.5h0.55v0.55h-0.55zM387.5 28.5h0.55v0.55h-0.55zM368.5 29h0.55v0.55h-0.55zM376 29h0.55v0.55h-0.55zM374 29.5h0.55v0.55h-0.55zM376.5 29.5h0.55v0.55h-0.55zM388 29.5h0.55v0.55h-0.55zM392.5 29.5h0.55v0.55h-0.55zM357.5 30h0.55v0.55h-0.55zM360.5 30h0.55v0.55h-0.55zM366 30h0.55v0.55h-0.55zM368 30h0.55v0.55h-0.55zM376 30h0.55v0.55h-0.55zM383 30h1.05v0.55h-1.05zM386 30h0.55v0.55h-0.55zM387 30h0.55v0.55h-0.55zM361.5 30.5h0.55v0.55h-0.55zM367.5 30.5h0.55v0.55h-0.55zM373 30.5h0.55v0.55h-0.55zM370 31h1.05v0.55h-1.05zM381.5 31h0.55v0.55h-0.55zM384 31h0.55v0.55h-0.55zM367.5 31.5h1.05v0.55h-1.05zM369 31.5h0.55v0.55h-0.55zM371.5 31.5h0.55v0.55h-0.55zM382 31.5h0.55v0.55h-0.55zM364.5 32h0.55v0.55h-0.55zM385.5 32h0.55v0.55h-0.55zM370.5 32.5h0.55v0.55h-0.55zM359 33h1.05v0.55h-1.05zM382.5 33h0.55v0.55h-0.55zM378.5 33.5h0.55v0.55h-0.55zM366 34h0.55v0.55h-0.55zM372.5 34h0.55v0.55h-0.55zM373.5 34h0.55v0.55h-0.55zM361 34.5h0.55v0.55h-0.55zM383.5 35h0.55v0.55h-0.55zM384.5 35h0.55v0.55h-0.55zM371 35.5h0.55v0.55h-0.55zM376 35.5h0.55v0.55h-0.55zM377.5 35.5h0.55v0.55h-0.55zM381.5 35.5h0.55v0.55h-0.55zM366.5 36h0.55v0.55h-0.55zM384.5 36.5h0.55v0.55h-0.55zM362 37h0.55v0.55h-0.55zM377 37h0.55v0.55h-0.55zM377 37.5h0.55v0.55h-0.55zM383.5 38h0.55v0.55h-0.55zM364.5 38.5h0.55v0.55h-0.55zM362 39h0.55v0.55h-0.55zM366.5 39h0.55v0.55h-0.55zM367.5 39h0.55v0.55h-0.55zM373.5 39h0.55v0.55h-0.55zM375.5 39h0.55v0.55h-0.55zM381.5 39.5h0.55v0.55h-0.55zM394 39.5h0.55v0.55h-0.55zM390.5 40h0.55v0.55h-0.55zM364.5 40.5h0.55v0.55h-0.55zM373.5 42h0.55v0.55h-0.55zM379.5 42h0.55v0.55h-0.55zM369 42.5h0.55v0.55h-0.55zM370 42.5h0.55v0.55h-0.55zM372.5 42.5h0.55v0.55h-0.55zM379 43h0.55v0.55h-0.55zM380 43h0.55v0.55h-0.55zM389.5 44h0.55v0.55h-0.55zM393.5 44h0.55v0.55h-0.55zM383 44.5h0.55v0.55h-0.55zM392.5 44.5h0.55v0.55h-0.55zM357 45h0.55v0.55h-0.55zM371 45h0.55v0.55h-0.55zM363 45.5h0.55v0.55h-0.55zM380.5 45.5h0.55v0.55h-0.55zM368.5 46h0.55v0.55h-0.55zM370.5 46h0.55v0.55h-0.55zM365 46.5h0.55v0.55h-0.55zM376 46.5h0.55v0.55h-0.55zM368.5 47h0.55v0.55h-0.55zM388 47h0.55v0.55h-0.55zM389.5 47.5h0.55v0.55h-0.55zM359 48h0.55v0.55h-0.55zM383 48h0.55v0.55h-0.55z" fill="#6a6a6a" opacity="1"/>
<path d="M409.5 22h0.55v0.55h-0.55zM409.5 22.5h0.55v0.55h-0.55zM413 23h0.55v0.55h-0.55zM409.5 24h0.55v0.55h-0.55zM421.5 24h0.55v0.55h-0.55zM423.5 24.5h0.55v0.55h-0.55zM406.5 25h0.55v0.55h-0.55zM411.5 25h0.55v0.55h-0.55zM412.5 25h0.55v0.55h-0.55zM414.5 25h0.55v0.55h-0.55zM415.5 25h0.55v0.55h-0.55zM411.5 25.5h0.55v0.55h-0.55zM404 26h0.55v0.55h-0.55zM407.5 26h1.05v0.55h-1.05zM413 26h0.55v0.55h-0.55zM415.5 26h0.55v0.55h-0.55zM417.5 26h0.55v0.55h-0.55zM420 26h0.55v0.55h-0.55zM421 26h0.55v0.55h-0.55zM402 26.5h0.55v0.55h-0.55zM406.5 26.5h0.55v0.55h-0.55zM408.5 26.5h0.55v0.55h-0.55zM417.5 26.5h0.55v0.55h-0.55zM418.5 26.5h0.55v0.55h-0.55zM403 27h0.55v0.55h-0.55zM408.5 27h0.55v0.55h-0.55zM411.5 27h0.55v0.55h-0.55zM419 27h0.55v0.55h-0.55zM420 27h0.55v0.55h-0.55zM422.5 27h0.55v0.55h-0.55zM405 27.5h1.05v0.55h-1.05zM410 27.5h0.55v0.55h-0.55zM415 27.5h0.55v0.55h-0.55zM420 27.5h0.55v0.55h-0.55zM423.5 27.5h0.55v0.55h-0.55zM403 28h0.55v0.55h-0.55zM405.5 28h0.55v0.55h-0.55zM408.5 28h1.05v0.55h-1.05zM410 28h0.55v0.55h-0.55zM411.5 28h0.55v0.55h-0.55zM417.5 28h0.55v0.55h-0.55zM420.5 28h0.55v0.55h-0.55zM438 28h0.55v0.55h-0.55zM401.5 28.5h0.55v0.55h-0.55zM403.5 28.5h0.55v0.55h-0.55zM408 28.5h0.55v0.55h-0.55zM413.5 28.5h0.55v0.55h-0.55zM416 28.5h0.55v0.55h-0.55zM421.5 28.5h1.05v0.55h-1.05zM423 28.5h0.55v0.55h-0.55zM405 29h0.55v0.55h-0.55zM408.5 29h0.55v0.55h-0.55zM409.5 29h0.55v0.55h-0.55zM411.5 29h0.55v0.55h-0.55zM415.5 29h1.05v0.55h-1.05zM417 29h0.55v0.55h-0.55zM418 29h0.55v0.55h-0.55zM419 29h0.55v0.55h-0.55zM420.5 29h0.55v0.55h-0.55zM421.5 29h0.55v0.55h-0.55zM432 29h0.55v0.55h-0.55zM437.5 29h0.55v0.55h-0.55zM403 29.5h0.55v0.55h-0.55zM406 29.5h0.55v0.55h-0.55zM413.5 29.5h0.55v0.55h-0.55zM414.5 29.5h0.55v0.55h-0.55zM415.5 29.5h1.55v0.55h-1.55zM417.5 29.5h0.55v0.55h-0.55zM420.5 29.5h1.05v0.55h-1.05zM428 29.5h0.55v0.55h-0.55zM406 30h0.55v0.55h-0.55zM407 30h0.55v0.55h-0.55zM408.5 30h1.05v0.55h-1.05zM410.5 30h0.55v0.55h-0.55zM412 30h1.05v0.55h-1.05zM414 30h0.55v0.55h-0.55zM415.5 30h0.55v0.55h-0.55zM419.5 30h1.05v0.55h-1.05zM423 30h0.55v0.55h-0.55zM427.5 30h0.55v0.55h-0.55zM438 30h0.55v0.55h-0.55zM405 30.5h1.05v0.55h-1.05zM409.5 30.5h0.55v0.55h-0.55zM411.5 30.5h1.55v0.55h-1.55zM414.5 30.5h0.55v0.55h-0.55zM419 30.5h1.55v0.55h-1.55zM424 30.5h0.55v0.55h-0.55zM402.5 31h0.55v0.55h-0.55zM407 31h1.55v0.55h-1.55zM409 31h0.55v0.55h-0.55zM412 31h1.05v0.55h-1.05zM413.5 31h0.55v0.55h-0.55zM415.5 31h0.55v0.55h-0.55zM417 31h0.55v0.55h-0.55zM418.5 31h1.05v0.55h-1.05zM420 31h0.55v0.55h-0.55zM425 31h0.55v0.55h-0.55zM407.5 31.5h0.55v0.55h-0.55zM410 31.5h0.55v0.55h-0.55zM412.5 31.5h0.55v0.55h-0.55zM413.5 31.5h1.55v0.55h-1.55zM418 31.5h1.05v0.55h-1.05zM420.5 31.5h1.05v0.55h-1.05zM423.5 31.5h0.55v0.55h-0.55zM428.5 31.5h0.55v0.55h-0.55zM402 32h0.55v0.55h-0.55zM406.5 32h0.55v0.55h-0.55zM408 32h0.55v0.55h-0.55zM411.5 32h0.55v0.55h-0.55zM413 32h1.05v0.55h-1.05zM414.5 32h0.55v0.55h-0.55zM415.5 32h1.05v0.55h-1.05zM417 32h0.55v0.55h-0.55zM419 32h0.55v0.55h-0.55zM421.5 32h0.55v0.55h-0.55zM426 32h1.05v0.55h-1.05zM408 32.5h0.55v0.55h-0.55zM410 32.5h0.55v0.55h-0.55zM411 32.5h0.55v0.55h-0.55zM413 32.5h0.55v0.55h-0.55zM414.5 32.5h0.55v0.55h-0.55zM415.5 32.5h1.05v0.55h-1.05zM417 32.5h0.55v0.55h-0.55zM418 32.5h0.55v0.55h-0.55zM423.5 32.5h0.55v0.55h-0.55zM425.5 32.5h0.55v0.55h-0.55zM427 32.5h0.55v0.55h-0.55zM428 32.5h0.55v0.55h-0.55zM404.5 33h0.55v0.55h-0.55zM407.5 33h0.55v0.55h-0.55zM408.5 33h2.05v0.55h-2.05zM411 33h0.55v0.55h-0.55zM412.5 33h0.55v0.55h-0.55zM413.5 33h1.05v0.55h-1.05zM415 33h1.05v0.55h-1.05zM416.5 33h2.05v0.55h-2.05zM419.5 33h1.55v0.55h-1.55zM424.5 33h0.55v0.55h-0.55zM407 33.5h1.05v0.55h-1.05zM410.5 33.5h1.05v0.55h-1.05zM412 33.5h1.55v0.55h-1.55zM415 33.5h0.55v0.55h-0.55zM416 33.5h1.05v0.55h-1.05zM417.5 33.5h1.05v0.55h-1.05zM419 33.5h0.55v0.55h-0.55zM422 33.5h0.55v0.55h-0.55zM423 33.5h0.55v0.55h-0.55zM426.5 33.5h0.55v0.55h-0.55zM431 33.5h0.55v0.55h-0.55zM407 34h1.05v0.55h-1.05zM409.5 34h0.55v0.55h-0.55zM410.5 34h0.55v0.55h-0.55zM411.5 34h0.55v0.55h-0.55zM413 34h0.55v0.55h-0.55zM415 34h1.05v0.55h-1.05zM419.5 34h1.05v0.55h-1.05zM426.5 34h1.05v0.55h-1.05zM401 34.5h0.55v0.55h-0.55zM407.5 34.5h0.55v0.55h-0.55zM408.5 34.5h1.05v0.55h-1.05zM410.5 34.5h1.05v0.55h-1.05zM413 34.5h2.05v0.55h-2.05zM416.5 34.5h0.55v0.55h-0.55zM426.5 34.5h0.55v0.55h-0.55zM437 34.5h0.55v0.55h-0.55zM402.5 35h0.55v0.55h-0.55zM406 35h1.55v0.55h-1.55zM408.5 35h0.55v0.55h-0.55zM410 35h0.55v0.55h-0.55zM411.5 35h0.55v0.55h-0.55zM413 35h0.55v0.55h-0.55zM415 35h1.05v0.55h-1.05zM417 35h0.55v0.55h-0.55zM423.5 35h0.55v0.55h-0.55zM403 35.5h0.55v0.55h-0.55zM405 35.5h0.55v0.55h-0.55zM406.5 35.5h0.55v0.55h-0.55zM408 35.5h1.05v0.55h-1.05zM411.5 35.5h0.55v0.55h-0.55zM413 35.5h1.05v0.55h-1.05zM415 35.5h0.55v0.55h-0.55zM416 35.5h1.55v0.55h-1.55zM418.5 35.5h1.05v0.55h-1.05zM420.5 35.5h0.55v0.55h-0.55zM423 35.5h0.55v0.55h-0.55zM424 35.5h1.05v0.55h-1.05zM403.5 36h0.55v0.55h-0.55zM409.5 36h1.55v0.55h-1.55zM411.5 36h0.55v0.55h-0.55zM412.5 36h0.55v0.55h-0.55zM413.5 36h0.55v0.55h-0.55zM414.5 36h0.55v0.55h-0.55zM415.5 36h0.55v0.55h-0.55zM417.5 36h1.55v0.55h-1.55zM420.5 36h1.55v0.55h-1.55zM428.5 36h0.55v0.55h-0.55zM403.5 36.5h0.55v0.55h-0.55zM411 36.5h0.55v0.55h-0.55zM413.5 36.5h1.05v0.55h-1.05zM415 36.5h0.55v0.55h-0.55zM417.5 36.5h0.55v0.55h-0.55zM418.5 36.5h0.55v0.55h-0.55zM419.5 36.5h0.55v0.55h-0.55zM421 36.5h0.55v0.55h-0.55zM423 36.5h0.55v0.55h-0.55zM426 36.5h0.55v0.55h-0.55zM428.5 36.5h0.55v0.55h-0.55zM407.5 37h0.55v0.55h-0.55zM409 37h2.05v0.55h-2.05zM412 37h0.55v0.55h-0.55zM415 37h0.55v0.55h-0.55zM416 37h0.55v0.55h-0.55zM434.5 37h0.55v0.55h-0.55zM407.5 37.5h0.55v0.55h-0.55zM408.5 37.5h0.55v0.55h-0.55zM410.5 37.5h0.55v0.55h-0.55zM411.5 37.5h0.55v0.55h-0.55zM414 37.5h0.55v0.55h-0.55zM415 37.5h0.55v0.55h-0.55zM416 37.5h1.05v0.55h-1.05zM417.5 37.5h0.55v0.55h-0.55zM421 37.5h1.05v0.55h-1.05zM422.5 37.5h1.05v0.55h-1.05zM425.5 37.5h0.55v0.55h-0.55zM410.5 38h0.55v0.55h-0.55zM412 38h0.55v0.55h-0.55zM416 38h0.55v0.55h-0.55zM418.5 38h0.55v0.55h-0.55zM422.5 38h0.55v0.55h-0.55zM424 38h0.55v0.55h-0.55zM425 38h0.55v0.55h-0.55zM427 38h0.55v0.55h-0.55zM428.5 38h0.55v0.55h-0.55zM438 38h0.55v0.55h-0.55zM401.5 38.5h0.55v0.55h-0.55zM405 38.5h0.55v0.55h-0.55zM406 38.5h1.05v0.55h-1.05zM409.5 38.5h0.55v0.55h-0.55zM412.5 38.5h0.55v0.55h-0.55zM416.5 38.5h0.55v0.55h-0.55zM427.5 38.5h0.55v0.55h-0.55zM428.5 38.5h0.55v0.55h-0.55zM406.5 39h0.55v0.55h-0.55zM411.5 39h0.55v0.55h-0.55zM412.5 39h1.05v0.55h-1.05zM417 39h0.55v0.55h-0.55zM420 39h0.55v0.55h-0.55zM423.5 39h0.55v0.55h-0.55zM425.5 39h0.55v0.55h-0.55zM407 39.5h0.55v0.55h-0.55zM408 39.5h0.55v0.55h-0.55zM410 39.5h0.55v0.55h-0.55zM411.5 39.5h0.55v0.55h-0.55zM413 39.5h0.55v0.55h-0.55zM415 39.5h1.05v0.55h-1.05zM419.5 39.5h0.55v0.55h-0.55zM403.5 40h0.55v0.55h-0.55zM406 40h0.55v0.55h-0.55zM411 40h0.55v0.55h-0.55zM412.5 40h0.55v0.55h-0.55zM413.5 40h0.55v0.55h-0.55zM414.5 40h0.55v0.55h-0.55zM419.5 40h0.55v0.55h-0.55zM420.5 40h0.55v0.55h-0.55zM425 40h0.55v0.55h-0.55zM402 40.5h1.05v0.55h-1.05zM405 40.5h0.55v0.55h-0.55zM406 40.5h0.55v0.55h-0.55zM408.5 40.5h0.55v0.55h-0.55zM415.5 40.5h0.55v0.55h-0.55zM418.5 40.5h1.05v0.55h-1.05zM420.5 40.5h0.55v0.55h-0.55zM439 40.5h0.55v0.55h-0.55zM404 41h0.55v0.55h-0.55zM411.5 41h0.55v0.55h-0.55zM415.5 41h0.55v0.55h-0.55zM423.5 41h0.55v0.55h-0.55zM406.5 41.5h0.55v0.55h-0.55zM407.5 41.5h1.05v0.55h-1.05zM409.5 41.5h0.55v0.55h-0.55zM412 41.5h0.55v0.55h-0.55zM417 41.5h0.55v0.55h-0.55zM406 42h0.55v0.55h-0.55zM407 42h0.55v0.55h-0.55zM411.5 42h1.05v0.55h-1.05zM418 42h0.55v0.55h-0.55zM426.5 42h0.55v0.55h-0.55zM405 42.5h0.55v0.55h-0.55zM411.5 42.5h0.55v0.55h-0.55zM413 42.5h0.55v0.55h-0.55zM402 43h0.55v0.55h-0.55zM407 43h0.55v0.55h-0.55zM437 43h0.55v0.55h-0.55zM411.5 43.5h0.55v0.55h-0.55zM414 43.5h0.55v0.55h-0.55zM417.5 43.5h0.55v0.55h-0.55zM418.5 43.5h0.55v0.55h-0.55zM420 43.5h1.05v0.55h-1.05zM422 43.5h0.55v0.55h-0.55zM408.5 44h0.55v0.55h-0.55zM410.5 44h0.55v0.55h-0.55zM412.5 44h1.05v0.55h-1.05zM424 44h0.55v0.55h-0.55zM408.5 44.5h0.55v0.55h-0.55zM416.5 44.5h0.55v0.55h-0.55zM420.5 44.5h0.55v0.55h-0.55zM424.5 44.5h0.55v0.55h-0.55zM426 44.5h0.55v0.55h-0.55zM427 44.5h0.55v0.55h-0.55zM428 44.5h0.55v0.55h-0.55zM405.5 45h0.55v0.55h-0.55zM411.5 45h0.55v0.55h-0.55zM415 45h0.55v0.55h-0.55zM416 45h0.55v0.55h-0.55zM406.5 45.5h0.55v0.55h-0.55zM408.5 45.5h0.55v0.55h-0.55zM415 45.5h0.55v0.55h-0.55zM436.5 45.5h0.55v0.55h-0.55zM438.5 45.5h0.55v0.55h-0.55zM404 46h0.55v0.55h-0.55zM423.5 46h0.55v0.55h-0.55zM435 46h0.55v0.55h-0.55zM408.5 47h0.55v0.55h-0.55zM414 47h0.55v0.55h-0.55zM403.5 47.5h0.55v0.55h-0.55zM409.5 47.5h0.55v0.55h-0.55zM420 47.5h0.55v0.55h-0.55zM438 48h0.55v0.55h-0.55zM414 48.5h0.55v0.55h-0.55zM425.5 48.5h0.55v0.55h-0.55zM437 48.5h0.55v0.55h-0.55z" fill="#6a6a6a" opacity="1"/>
<path d="M464 14h0.55v0.55h-0.55zM478 14h0.55v0.55h-0.55zM466 14.5h0.55v0.55h-0.55zM470.5 15h0.55v0.55h-0.55zM470 15.5h0.55v0.55h-0.55zM475.5 15.5h0.55v0.55h-0.55zM457 16.5h0.55v0.55h-0.55zM464 16.5h0.55v0.55h-0.55zM482 16.5h0.55v0.55h-0.55zM460 17h0.55v0.55h-0.55zM474.5 17h0.55v0.55h-0.55zM482 17h0.55v0.55h-0.55zM486 17h0.55v0.55h-0.55zM455.5 17.5h0.55v0.55h-0.55zM465 17.5h0.55v0.55h-0.55zM469.5 18h0.55v0.55h-0.55zM482 18h0.55v0.55h-0.55zM457 18.5h0.55v0.55h-0.55zM458 18.5h0.55v0.55h-0.55zM460 18.5h0.55v0.55h-0.55zM468 18.5h0.55v0.55h-0.55zM474 18.5h0.55v0.55h-0.55zM476 18.5h0.55v0.55h-0.55zM458 19h0.55v0.55h-0.55zM460 19h0.55v0.55h-0.55zM465 19h1.05v0.55h-1.05zM474 19h0.55v0.55h-0.55zM470 19.5h0.55v0.55h-0.55zM460.5 20h0.55v0.55h-0.55zM464 20h0.55v0.55h-0.55zM471 20h0.55v0.55h-0.55zM472.5 20h0.55v0.55h-0.55zM470 20.5h0.55v0.55h-0.55zM462 21h0.55v0.55h-0.55zM467.5 21h0.55v0.55h-0.55zM472 21h0.55v0.55h-0.55zM476.5 21h0.55v0.55h-0.55zM479.5 21h0.55v0.55h-0.55zM481.5 21h0.55v0.55h-0.55zM473 21.5h0.55v0.55h-0.55zM460 22h1.05v0.55h-1.05zM464.5 22h0.55v0.55h-0.55zM467.5 22h0.55v0.55h-0.55zM471.5 22h0.55v0.55h-0.55zM464.5 22.5h0.55v0.55h-0.55zM468 22.5h0.55v0.55h-0.55zM469.5 22.5h0.55v0.55h-0.55zM472.5 22.5h0.55v0.55h-0.55zM459 23h0.55v0.55h-0.55zM472 23h0.55v0.55h-0.55zM473 23h0.55v0.55h-0.55zM480.5 23h0.55v0.55h-0.55zM483 23h0.55v0.55h-0.55zM484 23h0.55v0.55h-0.55zM454 23.5h0.55v0.55h-0.55zM458 23.5h0.55v0.55h-0.55zM463.5 23.5h0.55v0.55h-0.55zM462 24h0.55v0.55h-0.55zM464.5 24h0.55v0.55h-0.55zM466.5 24h0.55v0.55h-0.55zM473.5 24h0.55v0.55h-0.55zM476.5 24h0.55v0.55h-0.55zM481 24h0.55v0.55h-0.55zM453.5 24.5h0.55v0.55h-0.55zM460.5 24.5h0.55v0.55h-0.55zM462.5 24.5h0.55v0.55h-0.55zM465 24.5h0.55v0.55h-0.55zM471 24.5h0.55v0.55h-0.55zM472.5 24.5h0.55v0.55h-0.55zM475 24.5h0.55v0.55h-0.55zM476.5 24.5h0.55v0.55h-0.55zM478.5 24.5h0.55v0.55h-0.55zM459.5 25h0.55v0.55h-0.55zM469.5 25h0.55v0.55h-0.55zM474 25h0.55v0.55h-0.55zM459 25.5h0.55v0.55h-0.55zM476 25.5h0.55v0.55h-0.55zM486 25.5h0.55v0.55h-0.55zM450 26h0.55v0.55h-0.55zM468.5 26h1.05v0.55h-1.05zM471.5 26h0.55v0.55h-0.55zM474 26h0.55v0.55h-0.55zM480.5 26h0.55v0.55h-0.55zM469 26.5h0.55v0.55h-0.55zM474 26.5h0.55v0.55h-0.55zM477.5 26.5h0.55v0.55h-0.55zM452 27h0.55v0.55h-0.55zM460 27h0.55v0.55h-0.55zM470 27h0.55v0.55h-0.55zM472 27h0.55v0.55h-0.55zM484 27h0.55v0.55h-0.55zM456 27.5h0.55v0.55h-0.55zM468 27.5h1.05v0.55h-1.05zM472.5 28h0.55v0.55h-0.55zM454 28.5h0.55v0.55h-0.55zM464 28.5h0.55v0.55h-0.55zM467 28.5h0.55v0.55h-0.55zM470 28.5h0.55v0.55h-0.55zM480.5 28.5h0.55v0.55h-0.55zM457.5 29h0.55v0.55h-0.55zM460.5 29.5h0.55v0.55h-0.55zM472 29.5h0.55v0.55h-0.55zM486 29.5h0.55v0.55h-0.55zM478.5 30h0.55v0.55h-0.55zM465.5 30.5h0.55v0.55h-0.55zM479.5 31.5h0.55v0.55h-0.55zM469 32h0.55v0.55h-0.55zM469 32.5h0.55v0.55h-0.55zM476 32.5h0.55v0.55h-0.55zM467 33.5h0.55v0.55h-0.55zM462 34.5h0.55v0.55h-0.55zM479 34.5h0.55v0.55h-0.55zM453 35.5h0.55v0.55h-0.55zM456 36.5h0.55v0.55h-0.55zM468.5 36.5h0.55v0.55h-0.55zM452.5 37h0.55v0.55h-0.55zM469 37h0.55v0.55h-0.55zM465.5 38h0.55v0.55h-0.55zM477 40h0.55v0.55h-0.55zM485 40h0.55v0.55h-0.55zM467.5 41h0.55v0.55h-0.55zM461.5 42.5h0.55v0.55h-0.55zM475.5 43h0.55v0.55h-0.55zM468.5 45.5h0.55v0.55h-0.55zM476 45.5h0.55v0.55h-0.55zM474.5 46h0.55v0.55h-0.55zM481 46h0.55v0.55h-0.55zM464 47.5h0.55v0.55h-0.55zM450.5 48h0.55v0.55h-0.55zM456.5 48h1.05v0.55h-1.05zM473 48.5h0.55v0.55h-0.55z" fill="#6a6a6a" opacity="1"/>
<path d="M251 66.5h0.55v0.55h-0.55zM269 67h0.55v0.55h-0.55zM258.5 69.5h0.55v0.55h-0.55zM261.5 69.5h0.55v0.55h-0.55zM273 69.5h0.55v0.55h-0.55zM258.5 70h0.55v0.55h-0.55zM261.5 70h0.55v0.55h-0.55zM258.5 70.5h0.55v0.55h-0.55zM266 70.5h0.55v0.55h-0.55zM261 71h1.05v0.55h-1.05zM264 71h0.55v0.55h-0.55zM265 71h0.55v0.55h-0.55zM266 71h0.55v0.55h-0.55zM257 71.5h0.55v0.55h-0.55zM258.5 71.5h1.55v0.55h-1.55zM261 71.5h0.55v0.55h-0.55zM263 71.5h1.05v0.55h-1.05zM264.5 71.5h1.05v0.55h-1.05zM261 72h0.55v0.55h-0.55zM262 72h0.55v0.55h-0.55zM267 72h0.55v0.55h-0.55zM268.5 72h0.55v0.55h-0.55zM270 72h0.55v0.55h-0.55zM273.5 72h0.55v0.55h-0.55zM275.5 72h0.55v0.55h-0.55zM258.5 72.5h0.55v0.55h-0.55zM260 72.5h0.55v0.55h-0.55zM261.5 72.5h0.55v0.55h-0.55zM263.5 72.5h0.55v0.55h-0.55zM265 72.5h0.55v0.55h-0.55zM268 72.5h0.55v0.55h-0.55zM270 72.5h0.55v0.55h-0.55zM255.5 73h0.55v0.55h-0.55zM256.5 73h0.55v0.55h-0.55zM261 73h1.05v0.55h-1.05zM262.5 73h0.55v0.55h-0.55zM263.5 73h0.55v0.55h-0.55zM264.5 73h1.05v0.55h-1.05zM266 73h0.55v0.55h-0.55zM267.5 73h0.55v0.55h-0.55zM269.5 73h0.55v0.55h-0.55zM270.5 73h0.55v0.55h-0.55zM258.5 73.5h0.55v0.55h-0.55zM262 73.5h1.05v0.55h-1.05zM267 73.5h0.55v0.55h-0.55zM260.5 74h0.55v0.55h-0.55zM263.5 74h1.55v0.55h-1.55zM266.5 74h0.55v0.55h-0.55zM271.5 74h0.55v0.55h-0.55zM273 74h0.55v0.55h-0.55zM259 74.5h0.55v0.55h-0.55zM263.5 74.5h0.55v0.55h-0.55zM265 74.5h0.55v0.55h-0.55zM258.5 75h0.55v0.55h-0.55zM260 75h0.55v0.55h-0.55zM263.5 75h0.55v0.55h-0.55zM267 75h0.55v0.55h-0.55zM268 75h1.05v0.55h-1.05zM244 75.5h0.55v0.55h-0.55zM250 75.5h0.55v0.55h-0.55zM261.5 75.5h0.55v0.55h-0.55zM263.5 75.5h0.55v0.55h-0.55zM265 75.5h0.55v0.55h-0.55zM269 75.5h0.55v0.55h-0.55zM243.5 76h0.55v0.55h-0.55zM260.5 76h0.55v0.55h-0.55zM263.5 76h0.55v0.55h-0.55zM265 76h1.05v0.55h-1.05zM266.5 76h1.55v0.55h-1.55zM271 76h0.55v0.55h-0.55zM257.5 76.5h1.05v0.55h-1.05zM264 76.5h1.05v0.55h-1.05zM265.5 76.5h0.55v0.55h-0.55zM272.5 76.5h0.55v0.55h-0.55zM258.5 77h0.55v0.55h-0.55zM259.5 77h0.55v0.55h-0.55zM264.5 77h0.55v0.55h-0.55zM266.5 77h0.55v0.55h-0.55zM267.5 77h0.55v0.55h-0.55zM268.5 77h0.55v0.55h-0.55zM262.5 77.5h0.55v0.55h-0.55zM268 78.5h0.55v0.55h-0.55zM270.5 78.5h0.55v0.55h-0.55zM280.5 83.5h0.55v0.55h-0.55zM257 84.5h0.55v0.55h-0.55zM268 86.5h0.55v0.55h-0.55zM280 86.5h0.55v0.55h-0.55zM256 89h0.55v0.55h-0.55zM257 89h0.55v0.55h-0.55zM261 93h0.55v0.55h-0.55zM273.5 93.5h0.55v0.55h-0.55zM271 94h0.55v0.55h-0.55zM256.5 97.5h0.55v0.55h-0.55z" fill="#6a6a6a" opacity="1"/>
<path d="M300.5 71h0.55v0.55h-0.55zM301.5 75.5h0.55v0.55h-0.55zM308.5 75.5h0.55v0.55h-0.55zM315 75.5h0.55v0.55h-0.55zM313 76.5h0.55v0.55h-0.55zM321 76.5h0.55v0.55h-0.55zM322 76.5h0.55v0.55h-0.55zM301 77h0.55v0.55h-0.55zM299.5 78h0.55v0.55h-0.55zM315 84.5h0.55v0.55h-0.55zM289.5 85.5h1.05v0.55h-1.05zM296.5 85.5h0.55v0.55h-0.55zM318.5 88h0.55v0.55h-0.55zM324.5 88h0.55v0.55h-0.55zM292.5 89h0.55v0.55h-0.55zM324 89.5h0.55v0.55h-0.55zM313 94.5h0.55v0.55h-0.55zM292 95h0.55v0.55h-0.55zM318.5 95h0.55v0.55h-0.55zM289.5 95.5h0.55v0.55h-0.55zM298 96h0.55v0.55h-0.55zM325.5 97.5h0.55v0.55h-0.55zM290.5 98h0.55v0.55h-0.55zM324 100h0.55v0.55h-0.55zM315 100.5h0.55v0.55h-0.55zM318 100.5h0.55v0.55h-0.55zM312.5 102h0.55v0.55h-0.55z" fill="#6a6a6a" opacity="1"/>
<path d="M349.5 66.5h0.55v0.55h-0.55zM354 66.5h0.55v0.55h-0.55zM354.5 67h0.55v0.55h-0.55zM360.5 67.5h0.55v0.55h-0.55zM345.5 68h0.55v0.55h-0.55zM351 68h0.55v0.55h-0.55zM337 68.5h0.55v0.55h-0.55zM344 68.5h0.55v0.55h-0.55zM350.5 68.5h0.55v0.55h-0.55zM359.5 69h0.55v0.55h-0.55zM362 69h1.05v0.55h-1.05zM364 69h0.55v0.55h-0.55zM344 69.5h0.55v0.55h-0.55zM352.5 69.5h0.55v0.55h-0.55zM356 69.5h0.55v0.55h-0.55zM358 69.5h0.55v0.55h-0.55zM360 69.5h0.55v0.55h-0.55zM336.5 70h0.55v0.55h-0.55zM340 70h0.55v0.55h-0.55zM352.5 70h0.55v0.55h-0.55zM355.5 70h0.55v0.55h-0.55zM361 70h0.55v0.55h-0.55zM370 70h0.55v0.55h-0.55zM359 70.5h1.05v0.55h-1.05zM342 71h0.55v0.55h-0.55zM354 71h0.55v0.55h-0.55zM357 71h0.55v0.55h-0.55zM371 71h0.55v0.55h-0.55zM349.5 71.5h0.55v0.55h-0.55zM360 71.5h0.55v0.55h-0.55zM362.5 71.5h0.55v0.55h-0.55zM364.5 71.5h0.55v0.55h-0.55zM367.5 71.5h1.05v0.55h-1.05zM345.5 72h0.55v0.55h-0.55zM349 72h0.55v0.55h-0.55zM352.5 72h0.55v0.55h-0.55zM354 72h0.55v0.55h-0.55zM359.5 72h0.55v0.55h-0.55zM367.5 72h0.55v0.55h-0.55zM342 72.5h0.55v0.55h-0.55zM347.5 72.5h0.55v0.55h-0.55zM353.5 72.5h0.55v0.55h-0.55zM354.5 72.5h0.55v0.55h-0.55zM368.5 72.5h0.55v0.55h-0.55zM337 73h0.55v0.55h-0.55zM345.5 73h0.55v0.55h-0.55zM360.5 73h0.55v0.55h-0.55zM374.5 73h0.55v0.55h-0.55zM341 73.5h0.55v0.55h-0.55zM349.5 73.5h0.55v0.55h-0.55zM354 73.5h0.55v0.55h-0.55zM358.5 73.5h0.55v0.55h-0.55zM341.5 74h0.55v0.55h-0.55zM345.5 74h0.55v0.55h-0.55zM347.5 74h0.55v0.55h-0.55zM349.5 74h0.55v0.55h-0.55zM362.5 74h0.55v0.55h-0.55zM364 74h0.55v0.55h-0.55zM348 74.5h0.55v0.55h-0.55zM353 74.5h0.55v0.55h-0.55zM355.5 74.5h0.55v0.55h-0.55zM358.5 74.5h0.55v0.55h-0.55zM368 74.5h1.05v0.55h-1.05zM350.5 75h0.55v0.55h-0.55zM352 75h0.55v0.55h-0.55zM356.5 75h0.55v0.55h-0.55zM359 75h0.55v0.55h-0.55zM360.5 75h0.55v0.55h-0.55zM364 75h0.55v0.55h-0.55zM368.5 75h0.55v0.55h-0.55zM346 75.5h0.55v0.55h-0.55zM351 75.5h0.55v0.55h-0.55zM338 76h0.55v0.55h-0.55zM345 76h0.55v0.55h-0.55zM352 76h0.55v0.55h-0.55zM357.5 76h0.55v0.55h-0.55zM359.5 76h0.55v0.55h-0.55zM372.5 76h0.55v0.55h-0.55zM375 76h0.55v0.55h-0.55zM348 76.5h0.55v0.55h-0.55zM349.5 76.5h0.55v0.55h-0.55zM355.5 76.5h0.55v0.55h-0.55zM358 76.5h0.55v0.55h-0.55zM368 76.5h0.55v0.55h-0.55zM341.5 77h0.55v0.55h-0.55zM345 77h0.55v0.55h-0.55zM348.5 77h1.05v0.55h-1.05zM352 77h0.55v0.55h-0.55zM353.5 77h0.55v0.55h-0.55zM360.5 77h0.55v0.55h-0.55zM362.5 77h0.55v0.55h-0.55zM365.5 77h0.55v0.55h-0.55zM371.5 77h0.55v0.55h-0.55zM373.5 77h0.55v0.55h-0.55zM338 77.5h0.55v0.55h-0.55zM340 77.5h0.55v0.55h-0.55zM344.5 77.5h0.55v0.55h-0.55zM348.5 77.5h0.55v0.55h-0.55zM355 77.5h0.55v0.55h-0.55zM358 77.5h1.55v0.55h-1.55zM366 77.5h0.55v0.55h-0.55zM367 77.5h0.55v0.55h-0.55zM349.5 78h0.55v0.55h-0.55zM351.5 78h1.05v0.55h-1.05zM354 78h0.55v0.55h-0.55zM339.5 78.5h0.55v0.55h-0.55zM340.5 78.5h0.55v0.55h-0.55zM343.5 78.5h0.55v0.55h-0.55zM347.5 78.5h0.55v0.55h-0.55zM353.5 78.5h0.55v0.55h-0.55zM358.5 78.5h0.55v0.55h-0.55zM365.5 78.5h0.55v0.55h-0.55zM370 78.5h0.55v0.55h-0.55zM374.5 78.5h1.05v0.55h-1.05zM337.5 79h0.55v0.55h-0.55zM339 79h0.55v0.55h-0.55zM341 79h0.55v0.55h-0.55zM342.5 79h0.55v0.55h-0.55zM343.5 79h0.55v0.55h-0.55zM345 79h0.55v0.55h-0.55zM347 79h0.55v0.55h-0.55zM348 79h0.55v0.55h-0.55zM352 79h0.55v0.55h-0.55zM354 79h1.05v0.55h-1.05zM358 79h0.55v0.55h-0.55zM360 79h0.55v0.55h-0.55zM366 79h0.55v0.55h-0.55zM374 79h0.55v0.55h-0.55zM335 79.5h0.55v0.55h-0.55zM339.5 79.5h0.55v0.55h-0.55zM344.5 79.5h0.55v0.55h-0.55zM349.5 79.5h1.05v0.55h-1.05zM353.5 79.5h0.55v0.55h-0.55zM360 79.5h0.55v0.55h-0.55zM363.5 79.5h0.55v0.55h-0.55zM370 79.5h0.55v0.55h-0.55zM344 80h0.55v0.55h-0.55zM348 80h0.55v0.55h-0.55zM351.5 80h0.55v0.55h-0.55zM352.5 80h0.55v0.55h-0.55zM353.5 80h0.55v0.55h-0.55zM354.5 80h1.05v0.55h-1.05zM357 80h0.55v0.55h-0.55zM359 80h0.55v0.55h-0.55zM368.5 80h1.05v0.55h-1.05zM340.5 80.5h0.55v0.55h-0.55zM341.5 80.5h0.55v0.55h-0.55zM346 80.5h1.55v0.55h-1.55zM348 80.5h0.55v0.55h-0.55zM341.5 81h0.55v0.55h-0.55zM342.5 81h0.55v0.55h-0.55zM349 81h0.55v0.55h-0.55zM350 81h0.55v0.55h-0.55zM352.5 81h1.55v0.55h-1.55zM357 81h0.55v0.55h-0.55zM360 81h0.55v0.55h-0.55zM366 81h0.55v0.55h-0.55zM373 81h0.55v0.55h-0.55zM338.5 81.5h0.55v0.55h-0.55zM345.5 81.5h0.55v0.55h-0.55zM346.5 81.5h0.55v0.55h-0.55zM351.5 81.5h0.55v0.55h-0.55zM357.5 81.5h0.55v0.55h-0.55zM359.5 81.5h0.55v0.55h-0.55zM361 81.5h0.55v0.55h-0.55zM364 81.5h1.05v0.55h-1.05zM368.5 81.5h0.55v0.55h-0.55zM372.5 81.5h0.55v0.55h-0.55zM343 82h1.05v0.55h-1.05zM344.5 82h0.55v0.55h-0.55zM352.5 82h0.55v0.55h-0.55zM353.5 82h0.55v0.55h-0.55zM354.5 82h0.55v0.55h-0.55zM355.5 82h1.05v0.55h-1.05zM357.5 82h0.55v0.55h-0.55zM361 82h0.55v0.55h-0.55zM365 82h0.55v0.55h-0.55zM337.5 82.5h0.55v0.55h-0.55zM338.5 82.5h0.55v0.55h-0.55zM339.5 82.5h0.55v0.55h-0.55zM347.5 82.5h0.55v0.55h-0.55zM350.5 82.5h0.55v0.55h-0.55zM352.5 82.5h0.55v0.55h-0.55zM353.5 82.5h2.05v0.55h-2.05zM357.5 82.5h0.55v0.55h-0.55zM361 82.5h0.55v0.55h-0.55zM363.5 82.5h0.55v0.55h-0.55zM369.5 82.5h0.55v0.55h-0.55zM342.5 83h0.55v0.55h-0.55zM344.5 83h0.55v0.55h-0.55zM346.5 83h1.55v0.55h-1.55zM351 83h0.55v0.55h-0.55zM353.5 83h0.55v0.55h-0.55zM361.5 83h0.55v0.55h-0.55zM362.5 83h0.55v0.55h-0.55zM364 83h0.55v0.55h-0.55zM337 83.5h0.55v0.55h-0.55zM339 83.5h0.55v0.55h-0.55zM341 83.5h0.55v0.55h-0.55zM342 83.5h0.55v0.55h-0.55zM343 83.5h0.55v0.55h-0.55zM344.5 83.5h0.55v0.55h-0.55zM351.5 83.5h0.55v0.55h-0.55zM353 83.5h0.55v0.55h-0.55zM354.5 83.5h0.55v0.55h-0.55zM355.5 83.5h0.55v0.55h-0.55zM357.5 83.5h0.55v0.55h-0.55zM358.5 83.5h0.55v0.55h-0.55zM360.5 83.5h0.55v0.55h-0.55zM364.5 83.5h1.05v0.55h-1.05zM368 83.5h0.55v0.55h-0.55zM336.5 84h0.55v0.55h-0.55zM338.5 84h1.05v0.55h-1.05zM346 84h0.55v0.55h-0.55zM353.5 84h1.05v0.55h-1.05zM359 84h1.05v0.55h-1.05zM371.5 84h0.55v0.55h-0.55zM341.5 84.5h0.55v0.55h-0.55zM346 84.5h0.55v0.55h-0.55zM347 84.5h0.55v0.55h-0.55zM355 84.5h0.55v0.55h-0.55zM356 84.5h2.05v0.55h-2.05zM359 84.5h1.05v0.55h-1.05zM369.5 84.5h0.55v0.55h-0.55zM370.5 84.5h1.05v0.55h-1.05zM374.5 84.5h0.55v0.55h-0.55zM335.5 85h0.55v0.55h-0.55zM340.5 85h0.55v0.55h-0.55zM343 85h0.55v0.55h-0.55zM348 85h0.55v0.55h-0.55zM349 85h0.55v0.55h-0.55zM352.5 85h2.05v0.55h-2.05zM355.5 85h0.55v0.55h-0.55zM357 85h0.55v0.55h-0.55zM358.5 85h1.05v0.55h-1.05zM360 85h0.55v0.55h-0.55zM371.5 85h1.05v0.55h-1.05zM340 85.5h0.55v0.55h-0.55zM341 85.5h0.55v0.55h-0.55zM345.5 85.5h0.55v0.55h-0.55zM346.5 85.5h0.55v0.55h-0.55zM348.5 85.5h0.55v0.55h-0.55zM354 85.5h0.55v0.55h-0.55zM356.5 85.5h1.05v0.55h-1.05zM358 85.5h0.55v0.55h-0.55zM360.5 85.5h0.55v0.55h-0.55zM366 85.5h0.55v0.55h-0.55zM367 85.5h0.55v0.55h-0.55zM370 85.5h1.55v0.55h-1.55zM336 86h0.55v0.55h-0.55zM338.5 86h0.55v0.55h-0.55zM344 86h0.55v0.55h-0.55zM345 86h1.05v0.55h-1.05zM348.5 86h1.55v0.55h-1.55zM356.5 86h0.55v0.55h-0.55zM361.5 86h1.05v0.55h-1.05zM363 86h1.05v0.55h-1.05zM365.5 86h0.55v0.55h-0.55zM370 86h0.55v0.55h-0.55zM371.5 86h0.55v0.55h-0.55zM373 86h0.55v0.55h-0.55zM338 86.5h0.55v0.55h-0.55zM341.5 86.5h0.55v0.55h-0.55zM347 86.5h0.55v0.55h-0.55zM349 86.5h0.55v0.55h-0.55zM351.5 86.5h0.55v0.55h-0.55zM352.5 86.5h0.55v0.55h-0.55zM353.5 86.5h0.55v0.55h-0.55zM357 86.5h0.55v0.55h-0.55zM358.5 86.5h0.55v0.55h-0.55zM360 86.5h1.05v0.55h-1.05zM361.5 86.5h0.55v0.55h-0.55zM362.5 86.5h0.55v0.55h-0.55zM365 86.5h0.55v0.55h-0.55zM342 87h1.05v0.55h-1.05zM345.5 87h0.55v0.55h-0.55zM347 87h0.55v0.55h-0.55zM349 87h0.55v0.55h-0.55zM350.5 87h0.55v0.55h-0.55zM352 87h0.55v0.55h-0.55zM353 87h0.55v0.55h-0.55zM355 87h0.55v0.55h-0.55zM359.5 87h0.55v0.55h-0.55zM361 87h0.55v0.55h-0.55zM363.5 87h1.05v0.55h-1.05zM366 87h0.55v0.55h-0.55zM367.5 87h0.55v0.55h-0.55zM370.5 87h0.55v0.55h-0.55zM372.5 87h1.05v0.55h-1.05zM337.5 87.5h0.55v0.55h-0.55zM339.5 87.5h0.55v0.55h-0.55zM341.5 87.5h0.55v0.55h-0.55zM344.5 87.5h0.55v0.55h-0.55zM346 87.5h0.55v0.55h-0.55zM347 87.5h0.55v0.55h-0.55zM348 87.5h2.55v0.55h-2.55zM352 87.5h1.05v0.55h-1.05zM355 87.5h0.55v0.55h-0.55zM357.5 87.5h0.55v0.55h-0.55zM359 87.5h1.05v0.55h-1.05zM361.5 87.5h0.55v0.55h-0.55zM364 87.5h0.55v0.55h-0.55zM365 87.5h0.55v0.55h-0.55zM366.5 87.5h0.55v0.55h-0.55zM371.5 87.5h0.55v0.55h-0.55zM374.5 87.5h0.55v0.55h-0.55zM338 88h0.55v0.55h-0.55zM347.5 88h0.55v0.55h-0.55zM353.5 88h0.55v0.55h-0.55zM355.5 88h0.55v0.55h-0.55zM357.5 88h1.05v0.55h-1.05zM359 88h1.55v0.55h-1.55zM361.5 88h0.55v0.55h-0.55zM364 88h0.55v0.55h-0.55zM365 88h0.55v0.55h-0.55zM366 88h0.55v0.55h-0.55zM371 88h0.55v0.55h-0.55zM338.5 88.5h0.55v0.55h-0.55zM340.5 88.5h1.05v0.55h-1.05zM343 88.5h0.55v0.55h-0.55zM344.5 88.5h0.55v0.55h-0.55zM346.5 88.5h0.55v0.55h-0.55zM348.5 88.5h0.55v0.55h-0.55zM350.5 88.5h1.55v0.55h-1.55zM353 88.5h0.55v0.55h-0.55zM355.5 88.5h0.55v0.55h-0.55zM359.5 88.5h0.55v0.55h-0.55zM364 88.5h0.55v0.55h-0.55zM365.5 88.5h0.55v0.55h-0.55zM371.5 88.5h0.55v0.55h-0.55zM376 88.5h0.55v0.55h-0.55zM336 89h0.55v0.55h-0.55zM337 89h0.55v0.55h-0.55zM339 89h0.55v0.55h-0.55zM342 89h0.55v0.55h-0.55zM347 89h0.55v0.55h-0.55zM348.5 89h1.05v0.55h-1.05zM351 89h0.55v0.55h-0.55zM352.5 89h0.55v0.55h-0.55zM357 89h0.55v0.55h-0.55zM358 89h0.55v0.55h-0.55zM363 89h0.55v0.55h-0.55zM366 89h0.55v0.55h-0.55zM370.5 89h0.55v0.55h-0.55zM374 89h0.55v0.55h-0.55zM338.5 89.5h0.55v0.55h-0.55zM342.5 89.5h0.55v0.55h-0.55zM344.5 89.5h0.55v0.55h-0.55zM346 89.5h0.55v0.55h-0.55zM352.5 89.5h2.05v0.55h-2.05zM356.5 89.5h0.55v0.55h-0.55zM357.5 89.5h0.55v0.55h-0.55zM359 89.5h0.55v0.55h-0.55zM360.5 89.5h0.55v0.55h-0.55zM362.5 89.5h0.55v0.55h-0.55zM363.5 89.5h0.55v0.55h-0.55zM370.5 89.5h0.55v0.55h-0.55zM344 90h0.55v0.55h-0.55zM347 90h1.55v0.55h-1.55zM351 90h1.55v0.55h-1.55zM354 90h1.05v0.55h-1.05zM356 90h0.55v0.55h-0.55zM360 90h2.05v0.55h-2.05zM368.5 90h0.55v0.55h-0.55zM370 90h0.55v0.55h-0.55zM373 90h0.55v0.55h-0.55zM342.5 90.5h0.55v0.55h-0.55zM343.5 90.5h0.55v0.55h-0.55zM345 90.5h1.05v0.55h-1.05zM346.5 90.5h1.05v0.55h-1.05zM348.5 90.5h1.55v0.55h-1.55zM350.5 90.5h0.55v0.55h-0.55zM354.5 90.5h0.55v0.55h-0.55zM356 90.5h0.55v0.55h-0.55zM359.5 90.5h1.55v0.55h-1.55zM363 90.5h0.55v0.55h-0.55zM364 90.5h0.55v0.55h-0.55zM365.5 90.5h0.55v0.55h-0.55zM367 90.5h0.55v0.55h-0.55zM370.5 90.5h0.55v0.55h-0.55zM372.5 90.5h0.55v0.55h-0.55zM373.5 90.5h1.05v0.55h-1.05zM375 90.5h0.55v0.55h-0.55zM342.5 91h0.55v0.55h-0.55zM343.5 91h0.55v0.55h-0.55zM344.5 91h0.55v0.55h-0.55zM349.5 91h0.55v0.55h-0.55zM351.5 91h0.55v0.55h-0.55zM352.5 91h0.55v0.55h-0.55zM356 91h1.05v0.55h-1.05zM362 91h0.55v0.55h-0.55zM363.5 91h0.55v0.55h-0.55zM366.5 91h0.55v0.55h-0.55zM368 91h0.55v0.55h-0.55zM371.5 91h0.55v0.55h-0.55zM372.5 91h0.55v0.55h-0.55zM374 91h0.55v0.55h-0.55zM337.5 91.5h0.55v0.55h-0.55zM338.5 91.5h1.05v0.55h-1.05zM341.5 91.5h0.55v0.55h-0.55zM345 91.5h0.55v0.55h-0.55zM349 91.5h1.05v0.55h-1.05zM353 91.5h1.05v0.55h-1.05zM354.5 91.5h1.55v0.55h-1.55zM357.5 91.5h1.05v0.55h-1.05zM359 91.5h0.55v0.55h-0.55zM362.5 91.5h0.55v0.55h-0.55zM364 91.5h0.55v0.55h-0.55zM365.5 91.5h0.55v0.55h-0.55zM339.5 92h0.55v0.55h-0.55zM347 92h0.55v0.55h-0.55zM349.5 92h1.55v0.55h-1.55zM352.5 92h0.55v0.55h-0.55zM354.5 92h0.55v0.55h-0.55zM355.5 92h0.55v0.55h-0.55zM357 92h1.05v0.55h-1.05zM358.5 92h0.55v0.55h-0.55zM359.5 92h0.55v0.55h-0.55zM371.5 92h0.55v0.55h-0.55zM375 92h0.55v0.55h-0.55zM341 92.5h0.55v0.55h-0.55zM343.5 92.5h0.55v0.55h-0.55zM344.5 92.5h0.55v0.55h-0.55zM347 92.5h0.55v0.55h-0.55zM348.5 92.5h1.05v0.55h-1.05zM350.5 92.5h0.55v0.55h-0.55zM352 92.5h0.55v0.55h-0.55zM353 92.5h0.55v0.55h-0.55zM354.5 92.5h0.55v0.55h-0.55zM356.5 92.5h1.05v0.55h-1.05zM359 92.5h0.55v0.55h-0.55zM360.5 92.5h1.05v0.55h-1.05zM367 92.5h0.55v0.55h-0.55zM370 92.5h0.55v0.55h-0.55zM336 93h0.55v0.55h-0.55zM346.5 93h1.05v0.55h-1.05zM348 93h0.55v0.55h-0.55zM349.5 93h0.55v0.55h-0.55zM353 93h0.55v0.55h-0.55zM355 93h1.05v0.55h-1.05zM357.5 93h0.55v0.55h-0.55zM358.5 93h0.55v0.55h-0.55zM360.5 93h0.55v0.55h-0.55zM361.5 93h0.55v0.55h-0.55zM363 93h1.05v0.55h-1.05zM364.5 93h0.55v0.55h-0.55zM372 93h0.55v0.55h-0.55zM373.5 93h0.55v0.55h-0.55zM375.5 93h0.55v0.55h-0.55zM336 93.5h0.55v0.55h-0.55zM346.5 93.5h0.55v0.55h-0.55zM348 93.5h0.55v0.55h-0.55zM350 93.5h0.55v0.55h-0.55zM351.5 93.5h0.55v0.55h-0.55zM352.5 93.5h0.55v0.55h-0.55zM354 93.5h0.55v0.55h-0.55zM359.5 93.5h0.55v0.55h-0.55zM361 93.5h0.55v0.55h-0.55zM362 93.5h2.55v0.55h-2.55zM365 93.5h0.55v0.55h-0.55zM368.5 93.5h0.55v0.55h-0.55zM370.5 93.5h0.55v0.55h-0.55zM372 93.5h0.55v0.55h-0.55zM373.5 93.5h0.55v0.55h-0.55zM335.5 94h0.55v0.55h-0.55zM342 94h0.55v0.55h-0.55zM345 94h0.55v0.55h-0.55zM348 94h1.05v0.55h-1.05zM350.5 94h1.05v0.55h-1.05zM356.5 94h0.55v0.55h-0.55zM359 94h0.55v0.55h-0.55zM360.5 94h1.05v0.55h-1.05zM363 94h0.55v0.55h-0.55zM367 94h0.55v0.55h-0.55zM375 94h0.55v0.55h-0.55zM341.5 94.5h0.55v0.55h-0.55zM343 94.5h0.55v0.55h-0.55zM346.5 94.5h0.55v0.55h-0.55zM350.5 94.5h1.05v0.55h-1.05zM354 94.5h0.55v0.55h-0.55zM357.5 94.5h0.55v0.55h-0.55zM359 94.5h0.55v0.55h-0.55zM366.5 94.5h0.55v0.55h-0.55zM339 95h0.55v0.55h-0.55zM350 95h0.55v0.55h-0.55zM352 95h0.55v0.55h-0.55zM353.5 95h0.55v0.55h-0.55zM361.5 95h0.55v0.55h-0.55zM363 95h0.55v0.55h-0.55zM364 95h0.55v0.55h-0.55zM369 95h0.55v0.55h-0.55zM376 95h0.55v0.55h-0.55zM335.5 95.5h0.55v0.55h-0.55zM340.5 95.5h1.05v0.55h-1.05zM342.5 95.5h0.55v0.55h-0.55zM348.5 95.5h0.55v0.55h-0.55zM349.5 95.5h0.55v0.55h-0.55zM350.5 95.5h1.05v0.55h-1.05zM353 95.5h0.55v0.55h-0.55zM356 95.5h0.55v0.55h-0.55zM364 95.5h1.55v0.55h-1.55zM369 95.5h0.55v0.55h-0.55zM339 96h0.55v0.55h-0.55zM341 96h0.55v0.55h-0.55zM343.5 96h0.55v0.55h-0.55zM347 96h0.55v0.55h-0.55zM348 96h0.55v0.55h-0.55zM352.5 96h0.55v0.55h-0.55zM354.5 96h0.55v0.55h-0.55zM356 96h0.55v0.55h-0.55zM360 96h1.05v0.55h-1.05zM361.5 96h0.55v0.55h-0.55zM364 96h1.05v0.55h-1.05zM370 96h0.55v0.55h-0.55zM344.5 96.5h1.05v0.55h-1.05zM347 96.5h0.55v0.55h-0.55zM348.5 96.5h0.55v0.55h-0.55zM355 96.5h0.55v0.55h-0.55zM356 96.5h0.55v0.55h-0.55zM369.5 96.5h0.55v0.55h-0.55zM372 96.5h0.55v0.55h-0.55zM373.5 96.5h0.55v0.55h-0.55zM337 97h0.55v0.55h-0.55zM348.5 97h0.55v0.55h-0.55zM351 97h0.55v0.55h-0.55zM352.5 97h0.55v0.55h-0.55zM353.5 97h1.05v0.55h-1.05zM355.5 97h0.55v0.55h-0.55zM357 97h0.55v0.55h-0.55zM360 97h1.55v0.55h-1.55zM363 97h0.55v0.55h-0.55zM364 97h0.55v0.55h-0.55zM366 97h0.55v0.55h-0.55zM341 97.5h0.55v0.55h-0.55zM343 97.5h0.55v0.55h-0.55zM346.5 97.5h0.55v0.55h-0.55zM350.5 97.5h0.55v0.55h-0.55zM357 97.5h0.55v0.55h-0.55zM359.5 97.5h1.05v0.55h-1.05zM361 97.5h0.55v0.55h-0.55zM364 97.5h0.55v0.55h-0.55zM337.5 98h0.55v0.55h-0.55zM345.5 98h0.55v0.55h-0.55zM348 98h0.55v0.55h-0.55zM353 98h0.55v0.55h-0.55zM354 98h0.55v0.55h-0.55zM356 98h1.55v0.55h-1.55zM364.5 98h0.55v0.55h-0.55zM342 98.5h1.05v0.55h-1.05zM345.5 98.5h1.05v0.55h-1.05zM347 98.5h0.55v0.55h-0.55zM348.5 98.5h1.05v0.55h-1.05zM351.5 98.5h0.55v0.55h-0.55zM356 98.5h0.55v0.55h-0.55zM361 98.5h0.55v0.55h-0.55zM363.5 98.5h0.55v0.55h-0.55zM368 98.5h0.55v0.55h-0.55zM370 98.5h0.55v0.55h-0.55zM348 99h1.05v0.55h-1.05zM350.5 99h0.55v0.55h-0.55zM360.5 99h1.05v0.55h-1.05zM375 99h0.55v0.55h-0.55zM357.5 99.5h0.55v0.55h-0.55zM359 99.5h0.55v0.55h-0.55zM360.5 99.5h0.55v0.55h-0.55zM363.5 99.5h0.55v0.55h-0.55zM368.5 99.5h0.55v0.55h-0.55zM371 99.5h0.55v0.55h-0.55zM372 99.5h0.55v0.55h-0.55zM373 99.5h0.55v0.55h-0.55zM374 99.5h0.55v0.55h-0.55zM375.5 99.5h0.55v0.55h-0.55zM346 100h0.55v0.55h-0.55zM348 100h0.55v0.55h-0.55zM355.5 100h0.55v0.55h-0.55zM357 100h0.55v0.55h-0.55zM361.5 100h0.55v0.55h-0.55zM365 100h1.05v0.55h-1.05zM369 100h0.55v0.55h-0.55zM373.5 100h0.55v0.55h-0.55zM335.5 100.5h0.55v0.55h-0.55zM339 100.5h0.55v0.55h-0.55zM341.5 100.5h0.55v0.55h-0.55zM344.5 100.5h0.55v0.55h-0.55zM347 100.5h0.55v0.55h-0.55zM351 100.5h0.55v0.55h-0.55zM357.5 100.5h0.55v0.55h-0.55zM359 100.5h0.55v0.55h-0.55zM365 100.5h0.55v0.55h-0.55zM367.5 100.5h0.55v0.55h-0.55zM336.5 101h0.55v0.55h-0.55zM343 101h0.55v0.55h-0.55zM347 101h1.05v0.55h-1.05zM349.5 101h0.55v0.55h-0.55zM352.5 101h0.55v0.55h-0.55zM353.5 101h0.55v0.55h-0.55zM356 101h0.55v0.55h-0.55zM358.5 101h0.55v0.55h-0.55zM361.5 101h0.55v0.55h-0.55zM364.5 101h0.55v0.55h-0.55zM366 101h0.55v0.55h-0.55zM371.5 101h0.55v0.55h-0.55zM342.5 101.5h0.55v0.55h-0.55zM345.5 101.5h0.55v0.55h-0.55zM351.5 101.5h0.55v0.55h-0.55zM353 101.5h0.55v0.55h-0.55zM362 101.5h0.55v0.55h-0.55zM365 101.5h0.55v0.55h-0.55zM366 101.5h0.55v0.55h-0.55zM368 101.5h0.55v0.55h-0.55zM370 101.5h0.55v0.55h-0.55zM337 102h0.55v0.55h-0.55zM343.5 102h0.55v0.55h-0.55zM350.5 102h0.55v0.55h-0.55zM357.5 102h1.55v0.55h-1.55zM361 102h0.55v0.55h-0.55zM363.5 102h1.05v0.55h-1.05zM367.5 102h0.55v0.55h-0.55zM370.5 102h0.55v0.55h-0.55zM373.5 102h1.05v0.55h-1.05zM351.5 102.5h0.55v0.55h-0.55zM353 102.5h0.55v0.55h-0.55zM355 102.5h0.55v0.55h-0.55zM360 102.5h0.55v0.55h-0.55zM362.5 102.5h0.55v0.55h-0.55zM367 102.5h1.05v0.55h-1.05zM372 102.5h0.55v0.55h-0.55zM340 103h0.55v0.55h-0.55zM344 103h0.55v0.55h-0.55zM345.5 103h0.55v0.55h-0.55zM351 103h0.55v0.55h-0.55zM359 103h1.05v0.55h-1.05zM361.5 103h0.55v0.55h-0.55zM363.5 103h0.55v0.55h-0.55zM366 103h0.55v0.55h-0.55zM375 103h0.55v0.55h-0.55zM340 103.5h0.55v0.55h-0.55zM343.5 103.5h0.55v0.55h-0.55zM353 103.5h0.55v0.55h-0.55zM362.5 103.5h0.55v0.55h-0.55zM363.5 103.5h0.55v0.55h-0.55zM365.5 103.5h0.55v0.55h-0.55zM369 103.5h0.55v0.55h-0.55zM371 103.5h0.55v0.55h-0.55z" fill="#6a6a6a" opacity="1"/>
<path d="M386.5 75h0.55v0.55h-0.55zM393.5 75h1.05v0.55h-1.05zM394 75.5h0.55v0.55h-0.55zM396.5 75.5h0.55v0.55h-0.55zM412 76h0.55v0.55h-0.55zM419.5 76h0.55v0.55h-0.55zM391 77h0.55v0.55h-0.55zM403 77h0.55v0.55h-0.55zM409 77h0.55v0.55h-0.55zM411.5 77h0.55v0.55h-0.55zM386.5 77.5h0.55v0.55h-0.55zM395.5 78h0.55v0.55h-0.55zM398 78h0.55v0.55h-0.55zM401 78h0.55v0.55h-0.55zM413 78h0.55v0.55h-0.55zM399.5 78.5h0.55v0.55h-0.55zM403 78.5h0.55v0.55h-0.55zM396 79h0.55v0.55h-0.55zM405 79h0.55v0.55h-0.55zM406 79h0.55v0.55h-0.55zM407.5 79h0.55v0.55h-0.55zM391.5 79.5h0.55v0.55h-0.55zM394.5 79.5h0.55v0.55h-0.55zM400 79.5h0.55v0.55h-0.55zM419 79.5h0.55v0.55h-0.55zM386.5 80h0.55v0.55h-0.55zM393 80h0.55v0.55h-0.55zM399 80h0.55v0.55h-0.55zM393.5 80.5h0.55v0.55h-0.55zM402.5 80.5h0.55v0.55h-0.55zM386.5 81h0.55v0.55h-0.55zM398.5 81h1.05v0.55h-1.05zM386 81.5h0.55v0.55h-0.55zM394 81.5h0.55v0.55h-0.55zM395.5 81.5h0.55v0.55h-0.55zM406.5 81.5h0.55v0.55h-0.55zM410.5 81.5h0.55v0.55h-0.55zM388 82h1.05v0.55h-1.05zM392.5 82h0.55v0.55h-0.55zM401 82h0.55v0.55h-0.55zM408 82.5h0.55v0.55h-0.55zM416 82.5h0.55v0.55h-0.55zM389.5 83h0.55v0.55h-0.55zM395.5 83h1.05v0.55h-1.05zM398.5 83h0.55v0.55h-0.55zM409 83h0.55v0.55h-0.55zM396.5 83.5h0.55v0.55h-0.55zM400 83.5h0.55v0.55h-0.55zM416.5 83.5h0.55v0.55h-0.55zM382.5 84h0.55v0.55h-0.55zM393 84h0.55v0.55h-0.55zM395 84h0.55v0.55h-0.55zM400 84h1.05v0.55h-1.05zM402 84h0.55v0.55h-0.55zM414.5 84h0.55v0.55h-0.55zM388.5 84.5h0.55v0.55h-0.55zM396.5 84.5h0.55v0.55h-0.55zM402 84.5h0.55v0.55h-0.55zM406.5 84.5h0.55v0.55h-0.55zM383 85h0.55v0.55h-0.55zM389 85h0.55v0.55h-0.55zM393 85h0.55v0.55h-0.55zM395 85h0.55v0.55h-0.55zM396 85h0.55v0.55h-0.55zM410.5 85h0.55v0.55h-0.55zM388 85.5h0.55v0.55h-0.55zM394 85.5h0.55v0.55h-0.55zM395.5 85.5h0.55v0.55h-0.55zM400.5 85.5h1.05v0.55h-1.05zM403 85.5h1.05v0.55h-1.05zM408.5 85.5h0.55v0.55h-0.55zM411 85.5h0.55v0.55h-0.55zM389.5 86h0.55v0.55h-0.55zM398.5 86h0.55v0.55h-0.55zM383 86.5h0.55v0.55h-0.55zM388 86.5h0.55v0.55h-0.55zM390 86.5h0.55v0.55h-0.55zM395 86.5h0.55v0.55h-0.55zM396 86.5h1.05v0.55h-1.05zM403 86.5h0.55v0.55h-0.55zM405.5 86.5h1.05v0.55h-1.05zM408 86.5h0.55v0.55h-0.55zM392.5 87h0.55v0.55h-0.55zM398 87h0.55v0.55h-0.55zM403.5 87h0.55v0.55h-0.55zM407 87h0.55v0.55h-0.55zM410.5 87h0.55v0.55h-0.55zM416.5 87h0.55v0.55h-0.55zM388.5 87.5h0.55v0.55h-0.55zM391 87.5h1.55v0.55h-1.55zM396 87.5h0.55v0.55h-0.55zM407.5 87.5h0.55v0.55h-0.55zM392 88h0.55v0.55h-0.55zM393.5 88h1.05v0.55h-1.05zM397.5 88h0.55v0.55h-0.55zM399 88h0.55v0.55h-0.55zM400.5 88h1.05v0.55h-1.05zM402 88h0.55v0.55h-0.55zM403 88h0.55v0.55h-0.55zM404 88h1.05v0.55h-1.05zM409 88h0.55v0.55h-0.55zM391.5 88.5h1.05v0.55h-1.05zM394 88.5h0.55v0.55h-0.55zM395.5 88.5h0.55v0.55h-0.55zM398.5 88.5h0.55v0.55h-0.55zM401.5 88.5h0.55v0.55h-0.55zM402.5 88.5h1.05v0.55h-1.05zM405 88.5h1.05v0.55h-1.05zM407 88.5h0.55v0.55h-0.55zM393 89h0.55v0.55h-0.55zM395 89h0.55v0.55h-0.55zM396 89h1.05v0.55h-1.05zM398.5 89h0.55v0.55h-0.55zM405 89h0.55v0.55h-0.55zM407 89h0.55v0.55h-0.55zM408 89h0.55v0.55h-0.55zM385 89.5h0.55v0.55h-0.55zM389.5 89.5h0.55v0.55h-0.55zM406 89.5h0.55v0.55h-0.55zM410 89.5h0.55v0.55h-0.55zM385 90h0.55v0.55h-0.55zM390 90h0.55v0.55h-0.55zM391.5 90h0.55v0.55h-0.55zM392.5 90h1.05v0.55h-1.05zM396 90h0.55v0.55h-0.55zM398 90h0.55v0.55h-0.55zM402 90h0.55v0.55h-0.55zM404 90h1.05v0.55h-1.05zM385.5 90.5h0.55v0.55h-0.55zM389.5 90.5h0.55v0.55h-0.55zM397.5 90.5h0.55v0.55h-0.55zM402 90.5h0.55v0.55h-0.55zM403 90.5h0.55v0.55h-0.55zM405.5 90.5h0.55v0.55h-0.55zM408 90.5h0.55v0.55h-0.55zM414.5 90.5h0.55v0.55h-0.55zM391 91h0.55v0.55h-0.55zM392 91h0.55v0.55h-0.55zM393.5 91h0.55v0.55h-0.55zM394.5 91h0.55v0.55h-0.55zM397.5 91h0.55v0.55h-0.55zM399 91h0.55v0.55h-0.55zM401 91h0.55v0.55h-0.55zM405 91h0.55v0.55h-0.55zM407.5 91h0.55v0.55h-0.55zM384.5 91.5h0.55v0.55h-0.55zM393 91.5h0.55v0.55h-0.55zM399.5 91.5h0.55v0.55h-0.55zM403.5 91.5h0.55v0.55h-0.55zM407.5 91.5h0.55v0.55h-0.55zM409.5 91.5h0.55v0.55h-0.55zM410.5 91.5h1.05v0.55h-1.05zM419.5 91.5h0.55v0.55h-0.55zM386 92h0.55v0.55h-0.55zM392.5 92h0.55v0.55h-0.55zM395 92h0.55v0.55h-0.55zM397.5 92h0.55v0.55h-0.55zM401 92h1.05v0.55h-1.05zM402.5 92h1.05v0.55h-1.05zM404.5 92h0.55v0.55h-0.55zM405.5 92h1.05v0.55h-1.05zM407 92h0.55v0.55h-0.55zM408 92h0.55v0.55h-0.55zM409 92h1.05v0.55h-1.05zM412.5 92h0.55v0.55h-0.55zM389.5 92.5h0.55v0.55h-0.55zM392 92.5h0.55v0.55h-0.55zM393.5 92.5h0.55v0.55h-0.55zM394.5 92.5h1.05v0.55h-1.05zM400.5 92.5h0.55v0.55h-0.55zM403 92.5h0.55v0.55h-0.55zM406 92.5h0.55v0.55h-0.55zM407 92.5h0.55v0.55h-0.55zM409 92.5h0.55v0.55h-0.55zM386.5 93h0.55v0.55h-0.55zM391.5 93h0.55v0.55h-0.55zM398.5 93h0.55v0.55h-0.55zM403 93h1.05v0.55h-1.05zM407 93h0.55v0.55h-0.55zM412.5 93h0.55v0.55h-0.55zM414.5 93h0.55v0.55h-0.55zM416.5 93h0.55v0.55h-0.55zM389 93.5h0.55v0.55h-0.55zM391.5 93.5h0.55v0.55h-0.55zM396 93.5h0.55v0.55h-0.55zM404.5 93.5h0.55v0.55h-0.55zM415 93.5h0.55v0.55h-0.55zM387 94h0.55v0.55h-0.55zM390.5 94h0.55v0.55h-0.55zM400 94h0.55v0.55h-0.55zM401 94h0.55v0.55h-0.55zM405.5 94h0.55v0.55h-0.55zM391 94.5h0.55v0.55h-0.55zM400.5 94.5h0.55v0.55h-0.55zM403.5 94.5h0.55v0.55h-0.55zM405 94.5h0.55v0.55h-0.55zM407 94.5h0.55v0.55h-0.55zM411.5 94.5h0.55v0.55h-0.55zM386 95h0.55v0.55h-0.55zM391 95h0.55v0.55h-0.55zM394.5 95h0.55v0.55h-0.55zM397.5 95h0.55v0.55h-0.55zM406.5 95h0.55v0.55h-0.55zM408.5 95h0.55v0.55h-0.55zM392 95.5h0.55v0.55h-0.55zM399 95.5h0.55v0.55h-0.55zM403 95.5h1.05v0.55h-1.05zM406 95.5h0.55v0.55h-0.55zM392.5 96h0.55v0.55h-0.55zM394.5 96h0.55v0.55h-0.55zM403.5 96h0.55v0.55h-0.55zM399.5 96.5h0.55v0.55h-0.55zM416.5 96.5h0.55v0.55h-0.55zM386 97h0.55v0.55h-0.55zM387.5 97h0.55v0.55h-0.55zM388.5 97h0.55v0.55h-0.55zM391.5 97h0.55v0.55h-0.55zM393 97h0.55v0.55h-0.55zM409.5 97h0.55v0.55h-0.55zM400.5 97.5h0.55v0.55h-0.55zM401.5 97.5h0.55v0.55h-0.55zM405 97.5h0.55v0.55h-0.55zM415.5 97.5h0.55v0.55h-0.55zM383 98h0.55v0.55h-0.55zM386 98h0.55v0.55h-0.55zM397 98h0.55v0.55h-0.55zM402 98h0.55v0.55h-0.55zM404 98h0.55v0.55h-0.55zM409 98h0.55v0.55h-0.55zM385.5 98.5h0.55v0.55h-0.55zM396 98.5h0.55v0.55h-0.55zM397 98.5h0.55v0.55h-0.55zM400 98.5h0.55v0.55h-0.55zM405.5 98.5h0.55v0.55h-0.55zM416.5 98.5h0.55v0.55h-0.55zM384.5 99h0.55v0.55h-0.55zM390 99h0.55v0.55h-0.55zM395.5 99h0.55v0.55h-0.55zM398 99h0.55v0.55h-0.55zM400.5 99h0.55v0.55h-0.55zM389 99.5h0.55v0.55h-0.55zM392 99.5h0.55v0.55h-0.55zM393 99.5h0.55v0.55h-0.55zM394 99.5h0.55v0.55h-0.55zM405 99.5h0.55v0.55h-0.55zM411.5 99.5h0.55v0.55h-0.55zM405 100h0.55v0.55h-0.55zM415 100h0.55v0.55h-0.55zM394 100.5h0.55v0.55h-0.55zM395.5 100.5h0.55v0.55h-0.55zM414 100.5h0.55v0.55h-0.55zM403.5 101h0.55v0.55h-0.55zM417.5 101h0.55v0.55h-0.55zM407 101.5h0.55v0.55h-0.55zM400 102h0.55v0.55h-0.55zM408.5 102h0.55v0.55h-0.55zM420 102h0.55v0.55h-0.55zM382.5 102.5h0.55v0.55h-0.55zM386.5 103h0.55v0.55h-0.55zM383 103.5h0.55v0.55h-0.55zM400 103.5h0.55v0.55h-0.55z" fill="#6a6a6a" opacity="1"/>
<path d="M441.5 78h0.55v0.55h-0.55zM435.5 78.5h0.55v0.55h-0.55zM451.5 79h0.55v0.55h-0.55zM447.5 80h1.05v0.55h-1.05zM437.5 80.5h1.05v0.55h-1.05zM441 80.5h0.55v0.55h-0.55zM449 80.5h0.55v0.55h-0.55zM457 80.5h0.55v0.55h-0.55zM451.5 81h0.55v0.55h-0.55zM455.5 81h0.55v0.55h-0.55zM461.5 81h0.55v0.55h-0.55zM428.5 81.5h0.55v0.55h-0.55zM440.5 81.5h0.55v0.55h-0.55zM447.5 81.5h0.55v0.55h-0.55zM440 82h0.55v0.55h-0.55zM443 82h0.55v0.55h-0.55zM429.5 82.5h0.55v0.55h-0.55zM441.5 82.5h0.55v0.55h-0.55zM444 82.5h1.05v0.55h-1.05zM446 82.5h0.55v0.55h-0.55zM451.5 82.5h0.55v0.55h-0.55zM455 82.5h1.05v0.55h-1.05zM464 82.5h0.55v0.55h-0.55zM429.5 83h0.55v0.55h-0.55zM449.5 83h0.55v0.55h-0.55zM428 83.5h0.55v0.55h-0.55zM435.5 83.5h0.55v0.55h-0.55zM447 83.5h0.55v0.55h-0.55zM461.5 83.5h0.55v0.55h-0.55zM426 84h1.05v0.55h-1.05zM433.5 84h0.55v0.55h-0.55zM443 84h0.55v0.55h-0.55zM444 84h1.05v0.55h-1.05zM447 84h1.05v0.55h-1.05zM464 84h0.55v0.55h-0.55zM435 84.5h0.55v0.55h-0.55zM455.5 84.5h0.55v0.55h-0.55zM457 84.5h0.55v0.55h-0.55zM431.5 85h0.55v0.55h-0.55zM432.5 85h0.55v0.55h-0.55zM433.5 85h0.55v0.55h-0.55zM435 85h0.55v0.55h-0.55zM438 85h0.55v0.55h-0.55zM441 85h0.55v0.55h-0.55zM444 85h0.55v0.55h-0.55zM449 85h0.55v0.55h-0.55zM452.5 85h0.55v0.55h-0.55zM456.5 85h0.55v0.55h-0.55zM428 85.5h0.55v0.55h-0.55zM436 85.5h0.55v0.55h-0.55zM444.5 85.5h0.55v0.55h-0.55zM447.5 85.5h1.05v0.55h-1.05zM428.5 86h0.55v0.55h-0.55zM436 86h0.55v0.55h-0.55zM438.5 86h0.55v0.55h-0.55zM456.5 86h0.55v0.55h-0.55zM431.5 86.5h1.05v0.55h-1.05zM433.5 86.5h0.55v0.55h-0.55zM434.5 86.5h0.55v0.55h-0.55zM436.5 86.5h0.55v0.55h-0.55zM439.5 86.5h1.05v0.55h-1.05zM442 86.5h0.55v0.55h-0.55zM444 86.5h0.55v0.55h-0.55zM453.5 86.5h0.55v0.55h-0.55zM459.5 86.5h0.55v0.55h-0.55zM462.5 86.5h0.55v0.55h-0.55zM433.5 87h0.55v0.55h-0.55zM439.5 87h0.55v0.55h-0.55zM447 87h0.55v0.55h-0.55zM450.5 87h0.55v0.55h-0.55zM452.5 87h0.55v0.55h-0.55zM458 87h0.55v0.55h-0.55zM460 87h0.55v0.55h-0.55zM427 87.5h0.55v0.55h-0.55zM432 87.5h0.55v0.55h-0.55zM438.5 87.5h0.55v0.55h-0.55zM440.5 87.5h0.55v0.55h-0.55zM444 87.5h0.55v0.55h-0.55zM445.5 87.5h0.55v0.55h-0.55zM446.5 87.5h0.55v0.55h-0.55zM432 88h0.55v0.55h-0.55zM434 88h1.05v0.55h-1.05zM437 88h0.55v0.55h-0.55zM438.5 88h0.55v0.55h-0.55zM440.5 88h0.55v0.55h-0.55zM444 88h0.55v0.55h-0.55zM445.5 88h0.55v0.55h-0.55zM449 88h0.55v0.55h-0.55zM450.5 88h1.05v0.55h-1.05zM456 88h0.55v0.55h-0.55zM457 88h0.55v0.55h-0.55zM426 88.5h0.55v0.55h-0.55zM429.5 88.5h0.55v0.55h-0.55zM431 88.5h0.55v0.55h-0.55zM432 88.5h0.55v0.55h-0.55zM436.5 88.5h0.55v0.55h-0.55zM440.5 88.5h0.55v0.55h-0.55zM442 88.5h0.55v0.55h-0.55zM443 88.5h1.05v0.55h-1.05zM449.5 88.5h1.05v0.55h-1.05zM452 88.5h0.55v0.55h-0.55zM454.5 88.5h1.05v0.55h-1.05zM462 88.5h0.55v0.55h-0.55zM463 88.5h0.55v0.55h-0.55zM425.5 89h0.55v0.55h-0.55zM426.5 89h0.55v0.55h-0.55zM429 89h0.55v0.55h-0.55zM432.5 89h0.55v0.55h-0.55zM434.5 89h1.05v0.55h-1.05zM440.5 89h0.55v0.55h-0.55zM441.5 89h0.55v0.55h-0.55zM442.5 89h1.05v0.55h-1.05zM445.5 89h0.55v0.55h-0.55zM447 89h0.55v0.55h-0.55zM449 89h0.55v0.55h-0.55zM453 89h0.55v0.55h-0.55zM427.5 89.5h0.55v0.55h-0.55zM431 89.5h0.55v0.55h-0.55zM433 89.5h1.55v0.55h-1.55zM435 89.5h0.55v0.55h-0.55zM451.5 89.5h0.55v0.55h-0.55zM454 89.5h0.55v0.55h-0.55zM456 89.5h0.55v0.55h-0.55zM434.5 90h0.55v0.55h-0.55zM435.5 90h0.55v0.55h-0.55zM442 90h1.05v0.55h-1.05zM443.5 90h0.55v0.55h-0.55zM444.5 90h0.55v0.55h-0.55zM446.5 90h0.55v0.55h-0.55zM448.5 90h1.55v0.55h-1.55zM451.5 90h0.55v0.55h-0.55zM452.5 90h0.55v0.55h-0.55zM453.5 90h0.55v0.55h-0.55zM463 90h0.55v0.55h-0.55zM425.5 90.5h1.05v0.55h-1.05zM433.5 90.5h0.55v0.55h-0.55zM434.5 90.5h0.55v0.55h-0.55zM438 90.5h0.55v0.55h-0.55zM442 90.5h0.55v0.55h-0.55zM443 90.5h1.05v0.55h-1.05zM444.5 90.5h0.55v0.55h-0.55zM450.5 90.5h1.05v0.55h-1.05zM458 90.5h0.55v0.55h-0.55zM429.5 91h0.55v0.55h-0.55zM432 91h1.05v0.55h-1.05zM434 91h0.55v0.55h-0.55zM438 91h1.05v0.55h-1.05zM442 91h0.55v0.55h-0.55zM443 91h1.05v0.55h-1.05zM444.5 91h0.55v0.55h-0.55zM448 91h0.55v0.55h-0.55zM450.5 91h0.55v0.55h-0.55zM456.5 91h0.55v0.55h-0.55zM457.5 91h0.55v0.55h-0.55zM459 91h0.55v0.55h-0.55zM428 91.5h0.55v0.55h-0.55zM438 91.5h0.55v0.55h-0.55zM440.5 91.5h0.55v0.55h-0.55zM442 91.5h0.55v0.55h-0.55zM449.5 91.5h0.55v0.55h-0.55zM451 91.5h0.55v0.55h-0.55zM461.5 91.5h0.55v0.55h-0.55zM426.5 92h0.55v0.55h-0.55zM431.5 92h0.55v0.55h-0.55zM433 92h0.55v0.55h-0.55zM434 92h0.55v0.55h-0.55zM449 92h1.05v0.55h-1.05zM456 92h0.55v0.55h-0.55zM426 92.5h0.55v0.55h-0.55zM427 92.5h0.55v0.55h-0.55zM428.5 92.5h0.55v0.55h-0.55zM430 92.5h0.55v0.55h-0.55zM432 92.5h0.55v0.55h-0.55zM435.5 92.5h0.55v0.55h-0.55zM438 92.5h0.55v0.55h-0.55zM440.5 92.5h0.55v0.55h-0.55zM443 92.5h0.55v0.55h-0.55zM448 92.5h0.55v0.55h-0.55zM449.5 92.5h0.55v0.55h-0.55zM432 93h0.55v0.55h-0.55zM433.5 93h0.55v0.55h-0.55zM439 93h0.55v0.55h-0.55zM441.5 93h0.55v0.55h-0.55zM443 93h0.55v0.55h-0.55zM444 93h0.55v0.55h-0.55zM445 93h0.55v0.55h-0.55zM446.5 93h1.05v0.55h-1.05zM449 93h0.55v0.55h-0.55zM452.5 93h0.55v0.55h-0.55zM430 93.5h0.55v0.55h-0.55zM432 93.5h0.55v0.55h-0.55zM433 93.5h0.55v0.55h-0.55zM434 93.5h0.55v0.55h-0.55zM435.5 93.5h0.55v0.55h-0.55zM437.5 93.5h1.05v0.55h-1.05zM441 93.5h0.55v0.55h-0.55zM442 93.5h0.55v0.55h-0.55zM443.5 93.5h0.55v0.55h-0.55zM448.5 93.5h0.55v0.55h-0.55zM450.5 93.5h1.05v0.55h-1.05zM461 93.5h0.55v0.55h-0.55zM463 93.5h0.55v0.55h-0.55zM433 94h0.55v0.55h-0.55zM437 94h0.55v0.55h-0.55zM438.5 94h1.05v0.55h-1.05zM443 94h0.55v0.55h-0.55zM446 94h0.55v0.55h-0.55zM447 94h0.55v0.55h-0.55zM457.5 94h0.55v0.55h-0.55zM464 94h0.55v0.55h-0.55zM429 94.5h0.55v0.55h-0.55zM438.5 94.5h1.05v0.55h-1.05zM442 94.5h0.55v0.55h-0.55zM447.5 94.5h1.05v0.55h-1.05zM449 94.5h0.55v0.55h-0.55zM428 95h0.55v0.55h-0.55zM432 95h0.55v0.55h-0.55zM437.5 95h0.55v0.55h-0.55zM438.5 95h0.55v0.55h-0.55zM443.5 95h0.55v0.55h-0.55zM446 95h0.55v0.55h-0.55zM449.5 95h1.55v0.55h-1.55zM455.5 95h0.55v0.55h-0.55zM460.5 95h1.05v0.55h-1.05zM428.5 95.5h0.55v0.55h-0.55zM429.5 95.5h1.05v0.55h-1.05zM431.5 95.5h0.55v0.55h-0.55zM433 95.5h0.55v0.55h-0.55zM435.5 95.5h0.55v0.55h-0.55zM439 95.5h0.55v0.55h-0.55zM440 95.5h0.55v0.55h-0.55zM446 95.5h0.55v0.55h-0.55zM447 95.5h1.05v0.55h-1.05zM456.5 95.5h0.55v0.55h-0.55zM458 95.5h0.55v0.55h-0.55zM433 96h0.55v0.55h-0.55zM439 96h0.55v0.55h-0.55zM443.5 96h0.55v0.55h-0.55zM444.5 96h0.55v0.55h-0.55zM446 96h0.55v0.55h-0.55zM447 96h0.55v0.55h-0.55zM448.5 96h0.55v0.55h-0.55zM455 96h0.55v0.55h-0.55zM426 96.5h0.55v0.55h-0.55zM428 96.5h0.55v0.55h-0.55zM430 96.5h0.55v0.55h-0.55zM437 96.5h1.05v0.55h-1.05zM438.5 96.5h0.55v0.55h-0.55zM442 96.5h0.55v0.55h-0.55zM444.5 96.5h1.55v0.55h-1.55zM450 96.5h0.55v0.55h-0.55zM451 96.5h0.55v0.55h-0.55zM433.5 97h1.05v0.55h-1.05zM436 97h0.55v0.55h-0.55zM441 97h1.55v0.55h-1.55zM443.5 97h1.05v0.55h-1.05zM445 97h0.55v0.55h-0.55zM447 97h0.55v0.55h-0.55zM460.5 97h0.55v0.55h-0.55zM434 97.5h0.55v0.55h-0.55zM448.5 97.5h0.55v0.55h-0.55zM453.5 97.5h0.55v0.55h-0.55zM463 97.5h0.55v0.55h-0.55zM438.5 98h0.55v0.55h-0.55zM445 98h2.05v0.55h-2.05zM448.5 98h0.55v0.55h-0.55zM450 98h0.55v0.55h-0.55zM457 98h0.55v0.55h-0.55zM431.5 98.5h0.55v0.55h-0.55zM433 98.5h0.55v0.55h-0.55zM436.5 98.5h0.55v0.55h-0.55zM445.5 98.5h0.55v0.55h-0.55zM453.5 98.5h0.55v0.55h-0.55zM461.5 98.5h0.55v0.55h-0.55zM435 99h0.55v0.55h-0.55zM439 99h0.55v0.55h-0.55zM440.5 99h0.55v0.55h-0.55zM445 99h0.55v0.55h-0.55zM447 99h0.55v0.55h-0.55zM448.5 99h0.55v0.55h-0.55zM435.5 99.5h0.55v0.55h-0.55zM437 99.5h0.55v0.55h-0.55zM441.5 99.5h0.55v0.55h-0.55zM442.5 99.5h0.55v0.55h-0.55zM440 100h0.55v0.55h-0.55zM446.5 100h0.55v0.55h-0.55zM447.5 100h0.55v0.55h-0.55zM450 100h0.55v0.55h-0.55zM441 100.5h0.55v0.55h-0.55zM442 100.5h0.55v0.55h-0.55zM454 100.5h0.55v0.55h-0.55zM435 101h0.55v0.55h-0.55zM452 101h0.55v0.55h-0.55zM458 101h0.55v0.55h-0.55zM435 101.5h0.55v0.55h-0.55zM437.5 101.5h0.55v0.55h-0.55zM445.5 101.5h0.55v0.55h-0.55zM448.5 101.5h0.55v0.55h-0.55zM451.5 101.5h0.55v0.55h-0.55zM434.5 102h0.55v0.55h-0.55zM438.5 102h0.55v0.55h-0.55zM443 102h0.55v0.55h-0.55zM446.5 102h0.55v0.55h-0.55zM435 102.5h0.55v0.55h-0.55zM454.5 102.5h0.55v0.55h-0.55zM431 103h0.55v0.55h-0.55zM432 103h0.55v0.55h-0.55z" fill="#6a6a6a" opacity="1"/>
<path d="M493 68.5h0.55v0.55h-0.55zM498.5 68.5h0.55v0.55h-0.55zM494.5 69.5h0.55v0.55h-0.55zM482.5 70h0.55v0.55h-0.55zM489.5 70h0.55v0.55h-0.55zM494 70h0.55v0.55h-0.55zM496 70h0.55v0.55h-0.55zM477.5 70.5h1.05v0.55h-1.05zM489 70.5h0.55v0.55h-0.55zM505.5 70.5h0.55v0.55h-0.55zM472 71h0.55v0.55h-0.55zM498.5 71h0.55v0.55h-0.55zM489 71.5h0.55v0.55h-0.55zM493.5 71.5h0.55v0.55h-0.55zM473 72h0.55v0.55h-0.55zM475.5 72h0.55v0.55h-0.55zM490 72h0.55v0.55h-0.55zM491.5 72h0.55v0.55h-0.55zM475.5 72.5h0.55v0.55h-0.55zM483 72.5h0.55v0.55h-0.55zM490 72.5h0.55v0.55h-0.55zM495 72.5h0.55v0.55h-0.55zM473 73h0.55v0.55h-0.55zM478 73h0.55v0.55h-0.55zM479.5 73h0.55v0.55h-0.55zM489 73h0.55v0.55h-0.55zM490.5 73h0.55v0.55h-0.55zM473 73.5h0.55v0.55h-0.55zM485.5 73.5h0.55v0.55h-0.55zM487.5 73.5h0.55v0.55h-0.55zM491.5 74h0.55v0.55h-0.55zM493 74h0.55v0.55h-0.55zM495.5 74h0.55v0.55h-0.55zM498 74h0.55v0.55h-0.55zM476 74.5h0.55v0.55h-0.55zM492.5 74.5h0.55v0.55h-0.55zM500.5 74.5h0.55v0.55h-0.55zM481.5 75h0.55v0.55h-0.55zM485 75h0.55v0.55h-0.55zM489.5 75h0.55v0.55h-0.55zM497 75h0.55v0.55h-0.55zM470 75.5h0.55v0.55h-0.55zM482 75.5h0.55v0.55h-0.55zM498 75.5h0.55v0.55h-0.55zM505.5 75.5h0.55v0.55h-0.55zM487.5 76h0.55v0.55h-0.55zM489.5 76h0.55v0.55h-0.55zM490.5 76h0.55v0.55h-0.55zM492 76h1.05v0.55h-1.05zM493.5 76h0.55v0.55h-0.55zM499.5 76h0.55v0.55h-0.55zM484 76.5h0.55v0.55h-0.55zM489.5 76.5h1.55v0.55h-1.55zM499 76.5h0.55v0.55h-0.55zM501 76.5h0.55v0.55h-0.55zM478 77h0.55v0.55h-0.55zM482 77h0.55v0.55h-0.55zM485.5 77h0.55v0.55h-0.55zM487 77h1.05v0.55h-1.05zM492.5 77h0.55v0.55h-0.55zM496.5 77h0.55v0.55h-0.55zM505.5 77h0.55v0.55h-0.55zM508 77h0.55v0.55h-0.55zM470.5 77.5h0.55v0.55h-0.55zM477 77.5h0.55v0.55h-0.55zM478.5 77.5h0.55v0.55h-0.55zM482 77.5h0.55v0.55h-0.55zM486.5 77.5h0.55v0.55h-0.55zM497 77.5h1.05v0.55h-1.05zM473 78h0.55v0.55h-0.55zM480.5 78h0.55v0.55h-0.55zM485 78h0.55v0.55h-0.55zM486 78h0.55v0.55h-0.55zM488.5 78h0.55v0.55h-0.55zM489.5 78h0.55v0.55h-0.55zM494.5 78h0.55v0.55h-0.55zM501 78h0.55v0.55h-0.55zM474.5 78.5h0.55v0.55h-0.55zM476.5 78.5h0.55v0.55h-0.55zM484 78.5h0.55v0.55h-0.55zM489.5 78.5h0.55v0.55h-0.55zM491 78.5h0.55v0.55h-0.55zM492 78.5h0.55v0.55h-0.55zM493.5 78.5h0.55v0.55h-0.55zM500 78.5h0.55v0.55h-0.55zM477 79h0.55v0.55h-0.55zM478 79h0.55v0.55h-0.55zM479 79h0.55v0.55h-0.55zM482 79h1.05v0.55h-1.05zM484.5 79h0.55v0.55h-0.55zM489 79h1.05v0.55h-1.05zM495.5 79h0.55v0.55h-0.55zM499 79h0.55v0.55h-0.55zM473.5 79.5h0.55v0.55h-0.55zM476 79.5h0.55v0.55h-0.55zM489 79.5h0.55v0.55h-0.55zM490.5 79.5h0.55v0.55h-0.55zM492.5 79.5h0.55v0.55h-0.55zM494 79.5h0.55v0.55h-0.55zM474.5 80h0.55v0.55h-0.55zM483 80h0.55v0.55h-0.55zM486.5 80h0.55v0.55h-0.55zM490.5 80h0.55v0.55h-0.55zM492.5 80h0.55v0.55h-0.55zM496 80h0.55v0.55h-0.55zM476.5 80.5h0.55v0.55h-0.55zM478.5 80.5h0.55v0.55h-0.55zM480.5 80.5h0.55v0.55h-0.55zM486 80.5h0.55v0.55h-0.55zM487.5 80.5h0.55v0.55h-0.55zM492 80.5h0.55v0.55h-0.55zM503.5 80.5h0.55v0.55h-0.55zM473 81h0.55v0.55h-0.55zM475.5 81h0.55v0.55h-0.55zM480 81h0.55v0.55h-0.55zM492 81h0.55v0.55h-0.55zM497 81h0.55v0.55h-0.55zM504.5 81h0.55v0.55h-0.55zM472.5 81.5h0.55v0.55h-0.55zM476.5 81.5h1.05v0.55h-1.05zM484.5 81.5h0.55v0.55h-0.55zM488.5 81.5h0.55v0.55h-0.55zM489.5 81.5h0.55v0.55h-0.55zM491 81.5h0.55v0.55h-0.55zM493 81.5h1.05v0.55h-1.05zM495 81.5h0.55v0.55h-0.55zM501.5 81.5h0.55v0.55h-0.55zM471.5 82h0.55v0.55h-0.55zM480.5 82h0.55v0.55h-0.55zM485.5 82h0.55v0.55h-0.55zM493.5 82h0.55v0.55h-0.55zM497.5 82h0.55v0.55h-0.55zM504.5 82h0.55v0.55h-0.55zM480 82.5h0.55v0.55h-0.55zM485.5 82.5h0.55v0.55h-0.55zM498.5 82.5h0.55v0.55h-0.55zM500.5 82.5h0.55v0.55h-0.55zM503 82.5h0.55v0.55h-0.55zM481.5 83h0.55v0.55h-0.55zM497.5 83h0.55v0.55h-0.55zM508.5 83h0.55v0.55h-0.55zM478.5 83.5h0.55v0.55h-0.55zM482.5 83.5h0.55v0.55h-0.55zM492 83.5h1.05v0.55h-1.05zM497 83.5h0.55v0.55h-0.55zM480.5 84h0.55v0.55h-0.55zM486.5 84h1.05v0.55h-1.05zM488.5 84h0.55v0.55h-0.55zM490.5 84h0.55v0.55h-0.55zM491.5 84h0.55v0.55h-0.55zM494.5 84h0.55v0.55h-0.55zM495.5 84h0.55v0.55h-0.55zM471.5 84.5h0.55v0.55h-0.55zM485 84.5h0.55v0.55h-0.55zM491 84.5h0.55v0.55h-0.55zM502 84.5h0.55v0.55h-0.55zM476.5 85h1.05v0.55h-1.05zM490 85h0.55v0.55h-0.55zM492.5 85h0.55v0.55h-0.55zM494 85h0.55v0.55h-0.55zM492 85.5h1.05v0.55h-1.05zM499 85.5h0.55v0.55h-0.55zM483 86h0.55v0.55h-0.55zM470.5 86.5h0.55v0.55h-0.55zM485.5 86.5h0.55v0.55h-0.55zM490.5 86.5h0.55v0.55h-0.55zM507 86.5h0.55v0.55h-0.55zM481.5 87h0.55v0.55h-0.55zM483.5 87h0.55v0.55h-0.55zM500 87h0.55v0.55h-0.55zM482.5 87.5h0.55v0.55h-0.55zM496.5 87.5h0.55v0.55h-0.55zM471 88.5h0.55v0.55h-0.55zM486.5 88.5h0.55v0.55h-0.55zM489 88.5h0.55v0.55h-0.55zM486.5 89h0.55v0.55h-0.55zM488.5 89h0.55v0.55h-0.55zM476 89.5h0.55v0.55h-0.55zM492.5 89.5h0.55v0.55h-0.55zM474.5 90h0.55v0.55h-0.55zM476 90h0.55v0.55h-0.55zM478.5 90h0.55v0.55h-0.55zM491.5 90h0.55v0.55h-0.55zM475.5 90.5h0.55v0.55h-0.55zM505 90.5h0.55v0.55h-0.55zM480.5 91h0.55v0.55h-0.55zM484.5 91.5h0.55v0.55h-0.55zM476 92.5h0.55v0.55h-0.55zM500 92.5h0.55v0.55h-0.55zM473.5 93.5h0.55v0.55h-0.55zM505 94.5h0.55v0.55h-0.55zM480.5 95h0.55v0.55h-0.55zM506.5 95h0.55v0.55h-0.55zM482.5 95.5h0.55v0.55h-0.55zM507.5 95.5h0.55v0.55h-0.55zM500 96.5h0.55v0.55h-0.55zM489.5 97.5h0.55v0.55h-0.55zM474 99h0.55v0.55h-0.55zM496 99h0.55v0.55h-0.55zM485.5 100h0.55v0.55h-0.55zM471.5 101.5h0.55v0.55h-0.55zM485.5 101.5h0.55v0.55h-0.55zM471 102h0.55v0.55h-0.55zM487.5 102h0.55v0.55h-0.55zM478 102.5h0.55v0.55h-0.55zM491.5 102.5h0.55v0.55h-0.55z" fill="#6a6a6a" opacity="1"/>
<path d="M271 19h0.62v0.62h-0.62zM275 19.5h0.62v0.62h-0.62zM277 20h0.62v0.62h-0.62zM281 20.5h0.62v0.62h-0.62zM273.5 21.5h1.12v0.62h-1.12zM276 21.5h0.62v0.62h-0.62zM278 21.5h0.62v0.62h-0.62zM270.5 22h1.12v0.62h-1.12zM272.5 22h2.12v0.62h-2.12zM275.5 22h1.12v0.62h-1.12zM277 22h0.62v0.62h-0.62zM284.5 22h0.62v0.62h-0.62zM270.5 22.5h2.12v0.62h-2.12zM274 22.5h0.62v0.62h-0.62zM275.5 22.5h1.62v0.62h-1.62zM278.5 22.5h1.12v0.62h-1.12zM265 23h0.62v0.62h-0.62zM267.5 23h0.62v0.62h-0.62zM269 23h0.62v0.62h-0.62zM270.5 23h6.62v0.62h-6.62zM277.5 23h1.12v0.62h-1.12zM279.5 23h1.12v0.62h-1.12zM284.5 23h0.62v0.62h-0.62zM268 23.5h0.62v0.62h-0.62zM269.5 23.5h1.62v0.62h-1.62zM271.5 23.5h7.12v0.62h-7.12zM279.5 23.5h0.62v0.62h-0.62zM281.5 23.5h0.62v0.62h-0.62zM282.5 23.5h0.62v0.62h-0.62zM265.5 24h1.12v0.62h-1.12zM269 24h4.12v0.62h-4.12zM273.5 24h7.12v0.62h-7.12zM281 24h0.62v0.62h-0.62zM282 24h1.12v0.62h-1.12zM285 24h0.62v0.62h-0.62zM265 24.5h0.62v0.62h-0.62zM267.5 24.5h0.62v0.62h-0.62zM268.5 24.5h11.62v0.62h-11.62zM280.5 24.5h1.62v0.62h-1.62zM283.5 24.5h2.62v0.62h-2.62zM266.5 25h0.62v0.62h-0.62zM267.5 25h16.62v0.62h-16.62zM284.5 25h3.62v0.62h-3.62zM289 25h0.62v0.62h-0.62zM266 25.5h0.62v0.62h-0.62zM267.5 25.5h7.62v0.62h-7.62zM275.5 25.5h0.62v0.62h-0.62zM276.5 25.5h10.12v0.62h-10.12zM287.5 25.5h0.62v0.62h-0.62zM266 26h0.62v0.62h-0.62zM267 26h0.62v0.62h-0.62zM268 26h18.12v0.62h-18.12zM287.5 26h2.12v0.62h-2.12zM266 26.5h0.62v0.62h-0.62zM267 26.5h0.62v0.62h-0.62zM268 26.5h17.12v0.62h-17.12zM285.5 26.5h1.62v0.62h-1.62zM287.5 26.5h0.62v0.62h-0.62zM288.5 26.5h0.62v0.62h-0.62zM289.5 26.5h1.12v0.62h-1.12zM265.5 27h0.62v0.62h-0.62zM268 27h0.62v0.62h-0.62zM269 27h2.12v0.62h-2.12zM271.5 27h17.62v0.62h-17.62zM289.5 27h0.62v0.62h-0.62zM265.5 27.5h0.62v0.62h-0.62zM266.5 27.5h0.62v0.62h-0.62zM268 27.5h22.12v0.62h-22.12zM290.5 27.5h0.62v0.62h-0.62zM265.5 28h0.62v0.62h-0.62zM267 28h0.62v0.62h-0.62zM268 28h1.12v0.62h-1.12zM269.5 28h20.62v0.62h-20.62zM292 28h0.62v0.62h-0.62zM266.5 28.5h0.62v0.62h-0.62zM267.5 28.5h0.62v0.62h-0.62zM268.5 28.5h20.62v0.62h-20.62zM289.5 28.5h1.62v0.62h-1.62zM293.5 28.5h0.62v0.62h-0.62zM265.5 29h0.62v0.62h-0.62zM266.5 29h7.12v0.62h-7.12zM274 29h1.62v0.62h-1.62zM276 29h10.62v0.62h-10.62zM287 29h5.62v0.62h-5.62zM264.5 29.5h0.62v0.62h-0.62zM266 29.5h2.12v0.62h-2.12zM268.5 29.5h25.12v0.62h-25.12zM295 29.5h0.62v0.62h-0.62zM266 30h0.62v0.62h-0.62zM268.5 30h22.12v0.62h-22.12zM291 30h2.62v0.62h-2.62zM294.5 30h1.62v0.62h-1.62zM268 30.5h23.12v0.62h-23.12zM292 30.5h0.62v0.62h-0.62zM293 30.5h1.12v0.62h-1.12zM295.5 30.5h1.12v0.62h-1.12zM297.5 30.5h0.62v0.62h-0.62zM299 30.5h0.62v0.62h-0.62zM266 31h23.12v0.62h-23.12zM289.5 31h5.62v0.62h-5.62zM295.5 31h0.62v0.62h-0.62zM296.5 31h0.62v0.62h-0.62zM298 31h0.62v0.62h-0.62zM265.5 31.5h0.62v0.62h-0.62zM266.5 31.5h0.62v0.62h-0.62zM267.5 31.5h0.62v0.62h-0.62zM268.5 31.5h19.12v0.62h-19.12zM288 31.5h7.12v0.62h-7.12zM295.5 31.5h2.12v0.62h-2.12zM298 31.5h0.62v0.62h-0.62zM299.5 31.5h0.62v0.62h-0.62zM269 32h3.12v0.62h-3.12zM272.5 32h3.12v0.62h-3.12zM276 32h3.12v0.62h-3.12zM279.5 32h17.12v0.62h-17.12zM298 32h0.62v0.62h-0.62zM266.5 32.5h1.12v0.62h-1.12zM268.5 32.5h1.12v0.62h-1.12zM270.5 32.5h3.12v0.62h-3.12zM274 32.5h6.62v0.62h-6.62zM281 32.5h1.62v0.62h-1.62zM283 32.5h8.12v0.62h-8.12zM291.5 32.5h2.12v0.62h-2.12zM294 32.5h2.12v0.62h-2.12zM296.5 32.5h0.62v0.62h-0.62zM298 32.5h0.62v0.62h-0.62zM266.5 33h0.62v0.62h-0.62zM270 33h0.62v0.62h-0.62zM271 33h2.62v0.62h-2.62zM274.5 33h8.12v0.62h-8.12zM283 33h3.62v0.62h-3.62zM287 33h3.12v0.62h-3.12zM290.5 33h8.12v0.62h-8.12zM270.5 33.5h0.62v0.62h-0.62zM271.5 33.5h1.12v0.62h-1.12zM273 33.5h1.12v0.62h-1.12zM274.5 33.5h4.12v0.62h-4.12zM279.5 33.5h1.62v0.62h-1.62zM282 33.5h2.12v0.62h-2.12zM284.5 33.5h2.62v0.62h-2.62zM288.5 33.5h3.62v0.62h-3.62zM292.5 33.5h7.12v0.62h-7.12zM267 34h0.62v0.62h-0.62zM271 34h1.62v0.62h-1.62zM274 34h3.62v0.62h-3.62zM278 34h0.62v0.62h-0.62zM279 34h1.12v0.62h-1.12zM280.5 34h0.62v0.62h-0.62zM281.5 34h0.62v0.62h-0.62zM283.5 34h1.62v0.62h-1.62zM285.5 34h0.62v0.62h-0.62zM286.5 34h0.62v0.62h-0.62zM287.5 34h1.62v0.62h-1.62zM290 34h0.62v0.62h-0.62zM291 34h7.12v0.62h-7.12zM298.5 34h0.62v0.62h-0.62zM272 34.5h0.62v0.62h-0.62zM273 34.5h1.62v0.62h-1.62zM276.5 34.5h1.12v0.62h-1.12zM278.5 34.5h0.62v0.62h-0.62zM279.5 34.5h1.62v0.62h-1.62zM281.5 34.5h0.62v0.62h-0.62zM284.5 34.5h0.62v0.62h-0.62zM286 34.5h0.62v0.62h-0.62zM287 34.5h1.62v0.62h-1.62zM289 34.5h0.62v0.62h-0.62zM290 34.5h0.62v0.62h-0.62zM291 34.5h9.12v0.62h-9.12zM268.5 35h0.62v0.62h-0.62zM272 35h0.62v0.62h-0.62zM274 35h0.62v0.62h-0.62zM276.5 35h1.12v0.62h-1.12zM278 35h1.12v0.62h-1.12zM284.5 35h0.62v0.62h-0.62zM287.5 35h0.62v0.62h-0.62zM288.5 35h7.62v0.62h-7.62zM296.5 35h2.62v0.62h-2.62zM299.5 35h1.12v0.62h-1.12zM283 35.5h0.62v0.62h-0.62zM286.5 35.5h0.62v0.62h-0.62zM289 35.5h1.62v0.62h-1.62zM291 35.5h8.62v0.62h-8.62zM300.5 35.5h0.62v0.62h-0.62zM281 36h0.62v0.62h-0.62zM289 36h0.62v0.62h-0.62zM290 36h0.62v0.62h-0.62zM291.5 36h9.62v0.62h-9.62zM291 36.5h1.12v0.62h-1.12zM292.5 36.5h8.12v0.62h-8.12zM274.5 37h0.62v0.62h-0.62zM291 37h2.12v0.62h-2.12zM293.5 37h6.12v0.62h-6.12zM300 37h0.62v0.62h-0.62zM276.5 37.5h0.62v0.62h-0.62zM291 37.5h9.12v0.62h-9.12zM290.5 38h2.12v0.62h-2.12zM293 38h6.12v0.62h-6.12zM299.5 38h1.12v0.62h-1.12zM292 38.5h8.62v0.62h-8.62zM301 38.5h0.62v0.62h-0.62zM291.5 39h7.12v0.62h-7.12zM299 39h0.62v0.62h-0.62zM291 39.5h4.62v0.62h-4.62zM296 39.5h3.62v0.62h-3.62zM292.5 40h8.12v0.62h-8.12zM301 40h0.62v0.62h-0.62zM292 40.5h0.62v0.62h-0.62zM293 40.5h6.12v0.62h-6.12zM300 40.5h0.62v0.62h-0.62zM291.5 41h0.62v0.62h-0.62zM292.5 41h0.62v0.62h-0.62zM293.5 41h5.12v0.62h-5.12zM292.5 41.5h6.62v0.62h-6.62zM299.5 41.5h0.62v0.62h-0.62zM293 42h0.62v0.62h-0.62zM294 42h2.12v0.62h-2.12zM296.5 42h2.62v0.62h-2.62zM300 42h0.62v0.62h-0.62zM291 42.5h0.62v0.62h-0.62zM294 42.5h4.62v0.62h-4.62zM299 42.5h1.12v0.62h-1.12zM293.5 43h1.12v0.62h-1.12zM295 43h1.12v0.62h-1.12zM296.5 43h1.62v0.62h-1.62zM298.5 43h0.62v0.62h-0.62zM299.5 43h0.62v0.62h-0.62zM293.5 43.5h0.62v0.62h-0.62zM295 43.5h5.12v0.62h-5.12zM295.5 44h3.12v0.62h-3.12zM299.5 44h0.62v0.62h-0.62zM293.5 44.5h0.62v0.62h-0.62zM295 44.5h1.62v0.62h-1.62zM297 44.5h1.12v0.62h-1.12zM294.5 45h0.62v0.62h-0.62zM295.5 45h1.62v0.62h-1.62zM297.5 45h1.12v0.62h-1.12zM294.5 45.5h0.62v0.62h-0.62zM295.5 45.5h2.62v0.62h-2.62zM298.5 45.5h0.62v0.62h-0.62zM295 46h1.12v0.62h-1.12zM296.5 46h0.62v0.62h-0.62zM298 46h0.62v0.62h-0.62zM299 46.5h0.62v0.62h-0.62zM296 47h0.62v0.62h-0.62zM296.5 47.5h0.62v0.62h-0.62z" fill="#000" opacity="1"/>
<path d="M325.5 21h0.62v0.62h-0.62zM323 22h0.62v0.62h-0.62zM329.5 22h0.62v0.62h-0.62zM323 22.5h1.62v0.62h-1.62zM325 22.5h0.62v0.62h-0.62zM326.5 22.5h1.12v0.62h-1.12zM329 22.5h0.62v0.62h-0.62zM320 23h0.62v0.62h-0.62zM322 23h0.62v0.62h-0.62zM323 23h1.62v0.62h-1.62zM326 23h2.12v0.62h-2.12zM328.5 23h0.62v0.62h-0.62zM321.5 23.5h0.62v0.62h-0.62zM323 23.5h5.12v0.62h-5.12zM329 23.5h0.62v0.62h-0.62zM331.5 23.5h0.62v0.62h-0.62zM318.5 24h0.62v0.62h-0.62zM320.5 24h3.62v0.62h-3.62zM325 24h2.62v0.62h-2.62zM328 24h0.62v0.62h-0.62zM342 24h0.62v0.62h-0.62zM344.5 24h0.62v0.62h-0.62zM321 24.5h3.62v0.62h-3.62zM325 24.5h3.62v0.62h-3.62zM330 24.5h0.62v0.62h-0.62zM331 24.5h0.62v0.62h-0.62zM332.5 24.5h0.62v0.62h-0.62zM335 24.5h0.62v0.62h-0.62zM342 24.5h0.62v0.62h-0.62zM319 25h0.62v0.62h-0.62zM320.5 25h5.62v0.62h-5.62zM326.5 25h3.62v0.62h-3.62zM330.5 25h1.12v0.62h-1.12zM340 25h0.62v0.62h-0.62zM343.5 25h0.62v0.62h-0.62zM318.5 25.5h0.62v0.62h-0.62zM319.5 25.5h8.62v0.62h-8.62zM328.5 25.5h3.62v0.62h-3.62zM332.5 25.5h0.62v0.62h-0.62zM337 25.5h0.62v0.62h-0.62zM341 25.5h1.12v0.62h-1.12zM344 25.5h0.62v0.62h-0.62zM319 26h0.62v0.62h-0.62zM320 26h9.62v0.62h-9.62zM330.5 26h2.62v0.62h-2.62zM338.5 26h4.12v0.62h-4.12zM343 26h0.62v0.62h-0.62zM318.5 26.5h0.62v0.62h-0.62zM319.5 26.5h12.62v0.62h-12.62zM332.5 26.5h0.62v0.62h-0.62zM334.5 26.5h0.62v0.62h-0.62zM337 26.5h6.12v0.62h-6.12zM344.5 26.5h0.62v0.62h-0.62zM319 27h14.12v0.62h-14.12zM335.5 27h0.62v0.62h-0.62zM337.5 27h0.62v0.62h-0.62zM338.5 27h4.62v0.62h-4.62zM343.5 27h1.12v0.62h-1.12zM346 27h0.62v0.62h-0.62zM315 27.5h0.62v0.62h-0.62zM318.5 27.5h6.62v0.62h-6.62zM325.5 27.5h7.12v0.62h-7.12zM333.5 27.5h0.62v0.62h-0.62zM336 27.5h0.62v0.62h-0.62zM338.5 27.5h5.12v0.62h-5.12zM344 27.5h0.62v0.62h-0.62zM345 27.5h0.62v0.62h-0.62zM346 27.5h0.62v0.62h-0.62zM347 27.5h1.12v0.62h-1.12zM316 28h0.62v0.62h-0.62zM318 28h1.12v0.62h-1.12zM319.5 28h0.62v0.62h-0.62zM320.5 28h8.12v0.62h-8.12zM329 28h5.12v0.62h-5.12zM335.5 28h0.62v0.62h-0.62zM336.5 28h8.12v0.62h-8.12zM317 28.5h0.62v0.62h-0.62zM318 28.5h2.62v0.62h-2.62zM321 28.5h11.12v0.62h-11.12zM332.5 28.5h0.62v0.62h-0.62zM333.5 28.5h0.62v0.62h-0.62zM335.5 28.5h10.62v0.62h-10.62zM346.5 28.5h0.62v0.62h-0.62zM318.5 29h14.62v0.62h-14.62zM333.5 29h1.12v0.62h-1.12zM336 29h10.62v0.62h-10.62zM317.5 29.5h0.62v0.62h-0.62zM318.5 29.5h0.62v0.62h-0.62zM319.5 29.5h0.62v0.62h-0.62zM320.5 29.5h13.12v0.62h-13.12zM334 29.5h0.62v0.62h-0.62zM335 29.5h0.62v0.62h-0.62zM336 29.5h8.12v0.62h-8.12zM344.5 29.5h0.62v0.62h-0.62zM345.5 29.5h1.12v0.62h-1.12zM347.5 29.5h1.12v0.62h-1.12zM319.5 30h12.12v0.62h-12.12zM332.5 30h0.62v0.62h-0.62zM334.5 30h3.62v0.62h-3.62zM338.5 30h8.12v0.62h-8.12zM319 30.5h1.62v0.62h-1.62zM321 30.5h13.12v0.62h-13.12zM334.5 30.5h0.62v0.62h-0.62zM335.5 30.5h1.12v0.62h-1.12zM337 30.5h10.12v0.62h-10.12zM317.5 31h1.12v0.62h-1.12zM319.5 31h1.12v0.62h-1.12zM321.5 31h11.12v0.62h-11.12zM334 31h0.62v0.62h-0.62zM335 31h10.12v0.62h-10.12zM346 31h0.62v0.62h-0.62zM320 31.5h2.12v0.62h-2.12zM322.5 31.5h8.62v0.62h-8.62zM331.5 31.5h1.12v0.62h-1.12zM333.5 31.5h0.62v0.62h-0.62zM334.5 31.5h4.62v0.62h-4.62zM339.5 31.5h7.12v0.62h-7.12zM320.5 32h10.12v0.62h-10.12zM331 32h0.62v0.62h-0.62zM332 32h1.12v0.62h-1.12zM335.5 32h11.62v0.62h-11.62zM321.5 32.5h0.62v0.62h-0.62zM323 32.5h0.62v0.62h-0.62zM324 32.5h5.12v0.62h-5.12zM329.5 32.5h1.62v0.62h-1.62zM334 32.5h0.62v0.62h-0.62zM335 32.5h11.12v0.62h-11.12zM322 33h0.62v0.62h-0.62zM323 33h4.62v0.62h-4.62zM328 33h1.12v0.62h-1.12zM330 33h1.12v0.62h-1.12zM334 33h0.62v0.62h-0.62zM335.5 33h1.12v0.62h-1.12zM337 33h8.62v0.62h-8.62zM347 33h0.62v0.62h-0.62zM321 33.5h0.62v0.62h-0.62zM323 33.5h0.62v0.62h-0.62zM324.5 33.5h0.62v0.62h-0.62zM325.5 33.5h2.62v0.62h-2.62zM330 33.5h0.62v0.62h-0.62zM335.5 33.5h1.62v0.62h-1.62zM337.5 33.5h9.12v0.62h-9.12zM325 34h1.12v0.62h-1.12zM326.5 34h1.62v0.62h-1.62zM328.5 34h0.62v0.62h-0.62zM331 34h0.62v0.62h-0.62zM335 34h8.62v0.62h-8.62zM344 34h3.62v0.62h-3.62zM322.5 34.5h0.62v0.62h-0.62zM327.5 34.5h0.62v0.62h-0.62zM331 34.5h0.62v0.62h-0.62zM333 34.5h0.62v0.62h-0.62zM335 34.5h11.62v0.62h-11.62zM347.5 34.5h0.62v0.62h-0.62zM333 35h0.62v0.62h-0.62zM335 35h1.12v0.62h-1.12zM336.5 35h8.12v0.62h-8.12zM345 35h1.62v0.62h-1.62zM331 35.5h0.62v0.62h-0.62zM334.5 35.5h0.62v0.62h-0.62zM336 35.5h9.62v0.62h-9.62zM346 35.5h1.12v0.62h-1.12zM335 36h0.62v0.62h-0.62zM336.5 36h8.62v0.62h-8.62zM345.5 36h0.62v0.62h-0.62zM347 36h0.62v0.62h-0.62zM326 36.5h0.62v0.62h-0.62zM335.5 36.5h0.62v0.62h-0.62zM336.5 36.5h0.62v0.62h-0.62zM338 36.5h7.62v0.62h-7.62zM333 37h0.62v0.62h-0.62zM335.5 37h9.12v0.62h-9.12zM345.5 37h0.62v0.62h-0.62zM336.5 37.5h1.12v0.62h-1.12zM338.5 37.5h6.12v0.62h-6.12zM336.5 38h1.12v0.62h-1.12zM338.5 38h6.12v0.62h-6.12zM346.5 38h0.62v0.62h-0.62zM336 38.5h1.62v0.62h-1.62zM338.5 38.5h5.12v0.62h-5.12zM344 38.5h0.62v0.62h-0.62zM345 38.5h0.62v0.62h-0.62zM338.5 39h0.62v0.62h-0.62zM340 39h5.12v0.62h-5.12zM338 39.5h2.12v0.62h-2.12zM340.5 39.5h3.12v0.62h-3.12zM339.5 40h1.12v0.62h-1.12zM341 40h0.62v0.62h-0.62zM342 40h0.62v0.62h-0.62zM336.5 40.5h0.62v0.62h-0.62zM339.5 40.5h1.62v0.62h-1.62zM342 41h0.62v0.62h-0.62z" fill="#000" opacity="1"/>
<path d="M379.5 10.5h0.62v0.62h-0.62zM371.5 12h0.62v0.62h-0.62zM373 12h0.62v0.62h-0.62zM374.5 12h0.62v0.62h-0.62zM381 12h0.62v0.62h-0.62zM370.5 12.5h0.62v0.62h-0.62zM371.5 12.5h0.62v0.62h-0.62zM374.5 12.5h0.62v0.62h-0.62zM375.5 12.5h0.62v0.62h-0.62zM377 12.5h0.62v0.62h-0.62zM369.5 13h0.62v0.62h-0.62zM372.5 13h2.12v0.62h-2.12zM376 13h2.62v0.62h-2.62zM379.5 13h0.62v0.62h-0.62zM380.5 13h0.62v0.62h-0.62zM381.5 13h0.62v0.62h-0.62zM365.5 13.5h0.62v0.62h-0.62zM366.5 13.5h1.12v0.62h-1.12zM368 13.5h0.62v0.62h-0.62zM369.5 13.5h3.12v0.62h-3.12zM373 13.5h3.12v0.62h-3.12zM378 13.5h0.62v0.62h-0.62zM379 13.5h0.62v0.62h-0.62zM366.5 14h0.62v0.62h-0.62zM368 14h0.62v0.62h-0.62zM369 14h2.12v0.62h-2.12zM371.5 14h1.62v0.62h-1.62zM373.5 14h6.62v0.62h-6.62zM380.5 14h0.62v0.62h-0.62zM369.5 14.5h2.12v0.62h-2.12zM372 14.5h6.62v0.62h-6.62zM379 14.5h2.12v0.62h-2.12zM365 15h1.12v0.62h-1.12zM367.5 15h1.12v0.62h-1.12zM369.5 15h10.12v0.62h-10.12zM381 15h0.62v0.62h-0.62zM363 15.5h0.62v0.62h-0.62zM365 15.5h0.62v0.62h-0.62zM366 15.5h0.62v0.62h-0.62zM367.5 15.5h0.62v0.62h-0.62zM368.5 15.5h11.12v0.62h-11.12zM380 15.5h0.62v0.62h-0.62zM381 15.5h0.62v0.62h-0.62zM367 16h0.62v0.62h-0.62zM368 16h13.12v0.62h-13.12zM360.5 16.5h0.62v0.62h-0.62zM364 16.5h0.62v0.62h-0.62zM365 16.5h1.12v0.62h-1.12zM366.5 16.5h0.62v0.62h-0.62zM367.5 16.5h14.12v0.62h-14.12zM362 17h1.12v0.62h-1.12zM364 17h1.12v0.62h-1.12zM365.5 17h17.12v0.62h-17.12zM383.5 17h0.62v0.62h-0.62zM361 17.5h1.12v0.62h-1.12zM363.5 17.5h0.62v0.62h-0.62zM364.5 17.5h2.62v0.62h-2.62zM368 17.5h13.12v0.62h-13.12zM381.5 17.5h2.12v0.62h-2.12zM391.5 17.5h0.62v0.62h-0.62zM363.5 18h16.62v0.62h-16.62zM380.5 18h3.12v0.62h-3.12zM388.5 18h0.62v0.62h-0.62zM361 18.5h0.62v0.62h-0.62zM362 18.5h0.62v0.62h-0.62zM363.5 18.5h0.62v0.62h-0.62zM364.5 18.5h17.62v0.62h-17.62zM382.5 18.5h0.62v0.62h-0.62zM384 18.5h0.62v0.62h-0.62zM385 18.5h0.62v0.62h-0.62zM361.5 19h1.12v0.62h-1.12zM363 19h1.12v0.62h-1.12zM364.5 19h18.12v0.62h-18.12zM383.5 19h1.12v0.62h-1.12zM387 19h0.62v0.62h-0.62zM360 19.5h1.12v0.62h-1.12zM361.5 19.5h16.12v0.62h-16.12zM378 19.5h4.12v0.62h-4.12zM382.5 19.5h3.62v0.62h-3.62zM386.5 19.5h3.62v0.62h-3.62zM360.5 20h0.62v0.62h-0.62zM361.5 20h19.62v0.62h-19.62zM382.5 20h1.62v0.62h-1.62zM384.5 20h2.12v0.62h-2.12zM387.5 20h1.12v0.62h-1.12zM389.5 20h1.12v0.62h-1.12zM359.5 20.5h1.12v0.62h-1.12zM361 20.5h20.62v0.62h-20.62zM383 20.5h0.62v0.62h-0.62zM384 20.5h1.12v0.62h-1.12zM387 20.5h2.62v0.62h-2.62zM390 20.5h0.62v0.62h-0.62zM359 21h1.12v0.62h-1.12zM361 21h14.62v0.62h-14.62zM376 21h6.62v0.62h-6.62zM383.5 21h1.12v0.62h-1.12zM385.5 21h5.12v0.62h-5.12zM358 21.5h0.62v0.62h-0.62zM359 21.5h1.12v0.62h-1.12zM360.5 21.5h17.12v0.62h-17.12zM378 21.5h1.62v0.62h-1.62zM380.5 21.5h0.62v0.62h-0.62zM381.5 21.5h0.62v0.62h-0.62zM382.5 21.5h0.62v0.62h-0.62zM383.5 21.5h1.62v0.62h-1.62zM385.5 21.5h0.62v0.62h-0.62zM386.5 21.5h3.12v0.62h-3.12zM359 22h1.12v0.62h-1.12zM360.5 22h3.12v0.62h-3.12zM364 22h16.12v0.62h-16.12zM381 22h0.62v0.62h-0.62zM383.5 22h1.62v0.62h-1.62zM386 22h0.62v0.62h-0.62zM387 22h1.62v0.62h-1.62zM389.5 22h0.62v0.62h-0.62zM360 22.5h17.12v0.62h-17.12zM377.5 22.5h1.12v0.62h-1.12zM379 22.5h1.12v0.62h-1.12zM380.5 22.5h0.62v0.62h-0.62zM382 22.5h1.62v0.62h-1.62zM384 22.5h5.62v0.62h-5.62zM358.5 23h16.62v0.62h-16.62zM375.5 23h1.62v0.62h-1.62zM379 23h0.62v0.62h-0.62zM381 23h0.62v0.62h-0.62zM383.5 23h5.12v0.62h-5.12zM389 23h0.62v0.62h-0.62zM358 23.5h0.62v0.62h-0.62zM359.5 23.5h0.62v0.62h-0.62zM360.5 23.5h1.62v0.62h-1.62zM362.5 23.5h8.62v0.62h-8.62zM372.5 23.5h1.62v0.62h-1.62zM374.5 23.5h2.12v0.62h-2.12zM377 23.5h1.12v0.62h-1.12zM378.5 23.5h1.12v0.62h-1.12zM383.5 23.5h1.12v0.62h-1.12zM385 23.5h0.62v0.62h-0.62zM386.5 23.5h0.62v0.62h-0.62zM387.5 23.5h0.62v0.62h-0.62zM388.5 23.5h0.62v0.62h-0.62zM391 23.5h0.62v0.62h-0.62zM359 24h13.62v0.62h-13.62zM373 24h0.62v0.62h-0.62zM374 24h0.62v0.62h-0.62zM375 24h0.62v0.62h-0.62zM377 24h0.62v0.62h-0.62zM381 24h0.62v0.62h-0.62zM383.5 24h0.62v0.62h-0.62zM384.5 24h0.62v0.62h-0.62zM385.5 24h1.12v0.62h-1.12zM387 24h2.62v0.62h-2.62zM358.5 24.5h1.12v0.62h-1.12zM360 24.5h7.12v0.62h-7.12zM367.5 24.5h2.12v0.62h-2.12zM370 24.5h1.12v0.62h-1.12zM371.5 24.5h1.12v0.62h-1.12zM375.5 24.5h1.12v0.62h-1.12zM377.5 24.5h1.12v0.62h-1.12zM382.5 24.5h1.12v0.62h-1.12zM384 24.5h5.12v0.62h-5.12zM359.5 25h11.62v0.62h-11.62zM373.5 25h0.62v0.62h-0.62zM382.5 25h6.12v0.62h-6.12zM389 25h1.12v0.62h-1.12zM392.5 25h0.62v0.62h-0.62zM359 25.5h8.62v0.62h-8.62zM368 25.5h1.12v0.62h-1.12zM369.5 25.5h0.62v0.62h-0.62zM370.5 25.5h0.62v0.62h-0.62zM374.5 25.5h0.62v0.62h-0.62zM383.5 25.5h7.12v0.62h-7.12zM391 25.5h0.62v0.62h-0.62zM359.5 26h5.12v0.62h-5.12zM365 26h4.12v0.62h-4.12zM370 26h1.62v0.62h-1.62zM382 26h3.62v0.62h-3.62zM386.5 26h1.62v0.62h-1.62zM388.5 26h0.62v0.62h-0.62zM390.5 26h1.12v0.62h-1.12zM359.5 26.5h2.12v0.62h-2.12zM362 26.5h4.62v0.62h-4.62zM367 26.5h2.12v0.62h-2.12zM382.5 26.5h7.12v0.62h-7.12zM390.5 26.5h1.12v0.62h-1.12zM358 27h0.62v0.62h-0.62zM360.5 27h1.12v0.62h-1.12zM362 27h0.62v0.62h-0.62zM363 27h0.62v0.62h-0.62zM364 27h4.12v0.62h-4.12zM381 27h0.62v0.62h-0.62zM382.5 27h0.62v0.62h-0.62zM383.5 27h0.62v0.62h-0.62zM384.5 27h1.12v0.62h-1.12zM386 27h1.62v0.62h-1.62zM388 27h2.12v0.62h-2.12zM362 27.5h2.12v0.62h-2.12zM364.5 27.5h2.62v0.62h-2.62zM382.5 27.5h0.62v0.62h-0.62zM383.5 27.5h0.62v0.62h-0.62zM384.5 27.5h1.62v0.62h-1.62zM387 27.5h0.62v0.62h-0.62zM388 27.5h0.62v0.62h-0.62zM389 27.5h1.12v0.62h-1.12zM391 27.5h0.62v0.62h-0.62zM362.5 28h1.62v0.62h-1.62zM364.5 28h0.62v0.62h-0.62zM365.5 28h0.62v0.62h-0.62zM366.5 28h0.62v0.62h-0.62zM382.5 28h2.12v0.62h-2.12zM385 28h0.62v0.62h-0.62zM386 28h0.62v0.62h-0.62zM387.5 28h3.12v0.62h-3.12zM358.5 28.5h0.62v0.62h-0.62zM359.5 28.5h0.62v0.62h-0.62zM365 28.5h0.62v0.62h-0.62zM366 28.5h0.62v0.62h-0.62zM384.5 28.5h3.12v0.62h-3.12zM388 28.5h2.62v0.62h-2.62zM359.5 29h0.62v0.62h-0.62zM367 29h0.62v0.62h-0.62zM384.5 29h4.12v0.62h-4.12zM385 29.5h0.62v0.62h-0.62zM386 29.5h4.12v0.62h-4.12zM383 30h1.12v0.62h-1.12zM384.5 30h0.62v0.62h-0.62zM386.5 30h4.12v0.62h-4.12zM391 30h0.62v0.62h-0.62zM382 30.5h0.62v0.62h-0.62zM385 30.5h0.62v0.62h-0.62zM386 30.5h3.12v0.62h-3.12zM389.5 30.5h2.12v0.62h-2.12zM385 31h0.62v0.62h-0.62zM386 31h0.62v0.62h-0.62zM387 31h0.62v0.62h-0.62zM388 31h1.62v0.62h-1.62zM390 31h0.62v0.62h-0.62zM391 31h0.62v0.62h-0.62zM384 31.5h0.62v0.62h-0.62zM386 31.5h3.12v0.62h-3.12zM390 31.5h0.62v0.62h-0.62zM391.5 31.5h0.62v0.62h-0.62zM386.5 32h0.62v0.62h-0.62zM387.5 32h1.62v0.62h-1.62zM389.5 32h1.62v0.62h-1.62zM385.5 32.5h0.62v0.62h-0.62zM387 32.5h1.62v0.62h-1.62zM389 32.5h2.62v0.62h-2.62zM384.5 33h1.62v0.62h-1.62zM387 33h4.12v0.62h-4.12zM386.5 33.5h1.12v0.62h-1.12zM388 33.5h3.62v0.62h-3.62zM386.5 34h0.62v0.62h-0.62zM388 34h1.12v0.62h-1.12zM389.5 34h1.12v0.62h-1.12zM391.5 34h0.62v0.62h-0.62zM387 34.5h0.62v0.62h-0.62zM388 34.5h3.62v0.62h-3.62zM392 34.5h1.12v0.62h-1.12zM386.5 35h2.12v0.62h-2.12zM389 35h0.62v0.62h-0.62zM390 35h1.12v0.62h-1.12zM391.5 35h0.62v0.62h-0.62zM386 35.5h1.12v0.62h-1.12zM388.5 35.5h1.12v0.62h-1.12zM390 35.5h0.62v0.62h-0.62zM386 36h0.62v0.62h-0.62zM387.5 36h0.62v0.62h-0.62zM388.5 36h0.62v0.62h-0.62zM387 36.5h0.62v0.62h-0.62zM388 36.5h3.12v0.62h-3.12zM386.5 37h2.62v0.62h-2.62zM390.5 37h0.62v0.62h-0.62zM391.5 37h0.62v0.62h-0.62zM387.5 37.5h1.12v0.62h-1.12zM389 37.5h1.12v0.62h-1.12zM387 38h0.62v0.62h-0.62zM388 38h1.62v0.62h-1.62zM385 38.5h0.62v0.62h-0.62zM387.5 38.5h1.12v0.62h-1.12zM389 38.5h0.62v0.62h-0.62zM390 38.5h0.62v0.62h-0.62zM391 38.5h0.62v0.62h-0.62zM388 39h0.62v0.62h-0.62zM389 39h0.62v0.62h-0.62zM387.5 39.5h1.12v0.62h-1.12zM388.5 40h0.62v0.62h-0.62zM387 40.5h0.62v0.62h-0.62z" fill="#000" opacity="1"/>
<path d="M411 17.5h1.12v0.62h-1.12zM413 17.5h0.62v0.62h-0.62zM411 18h1.12v0.62h-1.12zM414.5 18h0.62v0.62h-0.62zM418 18h0.62v0.62h-0.62zM421.5 18h0.62v0.62h-0.62zM402.5 18.5h0.62v0.62h-0.62zM407.5 18.5h0.62v0.62h-0.62zM412 18.5h0.62v0.62h-0.62zM415 18.5h0.62v0.62h-0.62zM417.5 18.5h0.62v0.62h-0.62zM412.5 19h0.62v0.62h-0.62zM421 19h0.62v0.62h-0.62zM404 19.5h0.62v0.62h-0.62zM408.5 19.5h0.62v0.62h-0.62zM411.5 19.5h0.62v0.62h-0.62zM412.5 19.5h1.62v0.62h-1.62zM417.5 19.5h0.62v0.62h-0.62zM418.5 19.5h0.62v0.62h-0.62zM404.5 20h0.62v0.62h-0.62zM406 20h0.62v0.62h-0.62zM409 20h0.62v0.62h-0.62zM411 20h3.12v0.62h-3.12zM415 20h0.62v0.62h-0.62zM416.5 20h0.62v0.62h-0.62zM417.5 20h0.62v0.62h-0.62zM420.5 20h0.62v0.62h-0.62zM406 20.5h1.62v0.62h-1.62zM408 20.5h0.62v0.62h-0.62zM409 20.5h0.62v0.62h-0.62zM410.5 20.5h3.62v0.62h-3.62zM414.5 20.5h1.12v0.62h-1.12zM416 20.5h1.12v0.62h-1.12zM417.5 20.5h1.62v0.62h-1.62zM420 20.5h0.62v0.62h-0.62zM402 21h0.62v0.62h-0.62zM403 21h0.62v0.62h-0.62zM405 21h0.62v0.62h-0.62zM406 21h0.62v0.62h-0.62zM407 21h1.12v0.62h-1.12zM408.5 21h6.12v0.62h-6.12zM415 21h0.62v0.62h-0.62zM416.5 21h2.62v0.62h-2.62zM419.5 21h1.62v0.62h-1.62zM425.5 21h0.62v0.62h-0.62zM406 21.5h0.62v0.62h-0.62zM409 21.5h6.12v0.62h-6.12zM415.5 21.5h4.62v0.62h-4.62zM420.5 21.5h1.12v0.62h-1.12zM422.5 21.5h0.62v0.62h-0.62zM428.5 21.5h1.12v0.62h-1.12zM404.5 22h0.62v0.62h-0.62zM406.5 22h0.62v0.62h-0.62zM407.5 22h4.62v0.62h-4.62zM412.5 22h3.12v0.62h-3.12zM416 22h5.12v0.62h-5.12zM421.5 22h2.12v0.62h-2.12zM424 22h1.62v0.62h-1.62zM427 22h0.62v0.62h-0.62zM404 22.5h1.12v0.62h-1.12zM406 22.5h16.12v0.62h-16.12zM422.5 22.5h5.62v0.62h-5.62zM429.5 22.5h0.62v0.62h-0.62zM401.5 23h0.62v0.62h-0.62zM404 23h0.62v0.62h-0.62zM405.5 23h4.12v0.62h-4.12zM410 23h18.62v0.62h-18.62zM401.5 23.5h0.62v0.62h-0.62zM403.5 23.5h0.62v0.62h-0.62zM404.5 23.5h0.62v0.62h-0.62zM405.5 23.5h1.12v0.62h-1.12zM407 23.5h1.12v0.62h-1.12zM408.5 23.5h19.62v0.62h-19.62zM403 24h0.62v0.62h-0.62zM404 24h12.62v0.62h-12.62zM417 24h3.12v0.62h-3.12zM420.5 24h4.12v0.62h-4.12zM425 24h4.12v0.62h-4.12zM402.5 24.5h0.62v0.62h-0.62zM403.5 24.5h5.62v0.62h-5.62zM409.5 24.5h7.12v0.62h-7.12zM417 24.5h6.62v0.62h-6.62zM424 24.5h4.12v0.62h-4.12zM429 24.5h1.12v0.62h-1.12zM403.5 25h0.62v0.62h-0.62zM404.5 25h24.62v0.62h-24.62zM430 25h0.62v0.62h-0.62zM431 25h0.62v0.62h-0.62zM404 25.5h2.12v0.62h-2.12zM406.5 25.5h5.12v0.62h-5.12zM412 25.5h17.62v0.62h-17.62zM430.5 25.5h1.12v0.62h-1.12zM401 26h0.62v0.62h-0.62zM403.5 26h26.12v0.62h-26.12zM430 26h0.62v0.62h-0.62zM403 26.5h1.12v0.62h-1.12zM404.5 26.5h25.62v0.62h-25.62zM402 27h0.62v0.62h-0.62zM403.5 27h6.12v0.62h-6.12zM410 27h20.12v0.62h-20.12zM430.5 27h0.62v0.62h-0.62zM403 27.5h1.12v0.62h-1.12zM404.5 27.5h25.62v0.62h-25.62zM431 27.5h0.62v0.62h-0.62zM402.5 28h0.62v0.62h-0.62zM403.5 28h7.62v0.62h-7.62zM411.5 28h11.62v0.62h-11.62zM423.5 28h7.12v0.62h-7.12zM431 28h0.62v0.62h-0.62zM404 28.5h26.12v0.62h-26.12zM430.5 28.5h1.62v0.62h-1.62zM405 29h26.12v0.62h-26.12zM401.5 29.5h0.62v0.62h-0.62zM405 29.5h2.12v0.62h-2.12zM407.5 29.5h23.62v0.62h-23.62zM405 30h13.62v0.62h-13.62zM419 30h11.12v0.62h-11.12zM430.5 30h1.12v0.62h-1.12zM402.5 30.5h0.62v0.62h-0.62zM403.5 30.5h0.62v0.62h-0.62zM404.5 30.5h0.62v0.62h-0.62zM405.5 30.5h3.62v0.62h-3.62zM409.5 30.5h9.12v0.62h-9.12zM419 30.5h11.62v0.62h-11.62zM431 30.5h0.62v0.62h-0.62zM432 30.5h1.12v0.62h-1.12zM404 31h1.12v0.62h-1.12zM406 31h0.62v0.62h-0.62zM407 31h2.12v0.62h-2.12zM409.5 31h1.12v0.62h-1.12zM411 31h6.12v0.62h-6.12zM417.5 31h13.62v0.62h-13.62zM407.5 31.5h1.62v0.62h-1.62zM409.5 31.5h6.12v0.62h-6.12zM416 31.5h5.12v0.62h-5.12zM422 31.5h4.62v0.62h-4.62zM427 31.5h3.62v0.62h-3.62zM431 31.5h0.62v0.62h-0.62zM432 31.5h0.62v0.62h-0.62zM406 32h10.62v0.62h-10.62zM417 32h1.12v0.62h-1.12zM418.5 32h7.62v0.62h-7.62zM426.5 32h5.12v0.62h-5.12zM405 32.5h0.62v0.62h-0.62zM409.5 32.5h4.62v0.62h-4.62zM414.5 32.5h3.62v0.62h-3.62zM419.5 32.5h0.62v0.62h-0.62zM421 32.5h1.12v0.62h-1.12zM422.5 32.5h2.12v0.62h-2.12zM425.5 32.5h0.62v0.62h-0.62zM427 32.5h4.62v0.62h-4.62zM406.5 33h0.62v0.62h-0.62zM407.5 33h2.62v0.62h-2.62zM410.5 33h3.12v0.62h-3.12zM414 33h2.62v0.62h-2.62zM417 33h0.62v0.62h-0.62zM418 33h0.62v0.62h-0.62zM419.5 33h0.62v0.62h-0.62zM423 33h1.12v0.62h-1.12zM426 33h4.62v0.62h-4.62zM431 33h1.62v0.62h-1.62zM410 33.5h0.62v0.62h-0.62zM412.5 33.5h0.62v0.62h-0.62zM413.5 33.5h0.62v0.62h-0.62zM414.5 33.5h0.62v0.62h-0.62zM415.5 33.5h1.62v0.62h-1.62zM418 33.5h0.62v0.62h-0.62zM419 33.5h0.62v0.62h-0.62zM424.5 33.5h0.62v0.62h-0.62zM425.5 33.5h0.62v0.62h-0.62zM427 33.5h4.12v0.62h-4.12zM431.5 33.5h0.62v0.62h-0.62zM433.5 33.5h0.62v0.62h-0.62zM409.5 34h0.62v0.62h-0.62zM411.5 34h0.62v0.62h-0.62zM412.5 34h0.62v0.62h-0.62zM414 34h0.62v0.62h-0.62zM417.5 34h0.62v0.62h-0.62zM419 34h0.62v0.62h-0.62zM420.5 34h0.62v0.62h-0.62zM425 34h0.62v0.62h-0.62zM426.5 34h1.12v0.62h-1.12zM428 34h3.12v0.62h-3.12zM432 34h0.62v0.62h-0.62zM405 34.5h0.62v0.62h-0.62zM409 34.5h0.62v0.62h-0.62zM411 34.5h1.62v0.62h-1.62zM413 34.5h0.62v0.62h-0.62zM416 34.5h0.62v0.62h-0.62zM417.5 34.5h0.62v0.62h-0.62zM421.5 34.5h0.62v0.62h-0.62zM425.5 34.5h0.62v0.62h-0.62zM427 34.5h0.62v0.62h-0.62zM428 34.5h4.12v0.62h-4.12zM432.5 34.5h0.62v0.62h-0.62zM409 35h0.62v0.62h-0.62zM414 35h0.62v0.62h-0.62zM420 35h0.62v0.62h-0.62zM423 35h0.62v0.62h-0.62zM425.5 35h1.12v0.62h-1.12zM427 35h5.12v0.62h-5.12zM433 35h0.62v0.62h-0.62zM424.5 35.5h0.62v0.62h-0.62zM427.5 35.5h4.12v0.62h-4.12zM432 35.5h0.62v0.62h-0.62zM406 36h0.62v0.62h-0.62zM410 36h0.62v0.62h-0.62zM427 36h4.12v0.62h-4.12zM414 36.5h0.62v0.62h-0.62zM426.5 36.5h5.12v0.62h-5.12zM427 37h1.12v0.62h-1.12zM428.5 37h4.12v0.62h-4.12zM428 37.5h3.62v0.62h-3.62zM432 37.5h0.62v0.62h-0.62zM427 38h1.12v0.62h-1.12zM428.5 38h4.62v0.62h-4.62zM426.5 38.5h5.62v0.62h-5.62zM432.5 38.5h0.62v0.62h-0.62zM427.5 39h5.62v0.62h-5.62zM428 39.5h5.12v0.62h-5.12zM428 40h5.12v0.62h-5.12zM428.5 40.5h3.12v0.62h-3.12zM432 40.5h1.12v0.62h-1.12zM429 41h4.12v0.62h-4.12zM429 41.5h4.12v0.62h-4.12zM429 42h2.12v0.62h-2.12zM431.5 42h0.62v0.62h-0.62zM432.5 42h0.62v0.62h-0.62zM429 42.5h4.12v0.62h-4.12zM434 42.5h0.62v0.62h-0.62zM429.5 43h3.62v0.62h-3.62zM429.5 43.5h3.62v0.62h-3.62zM428.5 44h4.12v0.62h-4.12zM433 44h1.12v0.62h-1.12zM427.5 44.5h0.62v0.62h-0.62zM428.5 44.5h3.12v0.62h-3.12zM432 44.5h0.62v0.62h-0.62zM429.5 45h2.12v0.62h-2.12zM432 45h1.12v0.62h-1.12zM428.5 45.5h3.62v0.62h-3.62zM433 45.5h0.62v0.62h-0.62zM430.5 46h1.12v0.62h-1.12zM429.5 46.5h0.62v0.62h-0.62zM430.5 46.5h1.12v0.62h-1.12zM432.5 46.5h0.62v0.62h-0.62zM427.5 47h0.62v0.62h-0.62zM429.5 47h0.62v0.62h-0.62zM430.5 47h0.62v0.62h-0.62zM432 47h1.12v0.62h-1.12zM431.5 47.5h1.12v0.62h-1.12zM431 48h0.62v0.62h-0.62zM430.5 48.5h0.62v0.62h-0.62zM431.5 48.5h0.62v0.62h-0.62zM431.5 49h0.62v0.62h-0.62z" fill="#000" opacity="1"/>
<path d="M460 13.5h0.62v0.62h-0.62zM462 13.5h0.62v0.62h-0.62zM463 13.5h0.62v0.62h-0.62zM466 13.5h0.62v0.62h-0.62zM465 14h0.62v0.62h-0.62zM468 14h0.62v0.62h-0.62zM476.5 14h0.62v0.62h-0.62zM457 14.5h1.12v0.62h-1.12zM458.5 14.5h0.62v0.62h-0.62zM459.5 14.5h0.62v0.62h-0.62zM461 14.5h0.62v0.62h-0.62zM462 14.5h1.62v0.62h-1.62zM464.5 14.5h1.12v0.62h-1.12zM466 14.5h1.12v0.62h-1.12zM468 14.5h0.62v0.62h-0.62zM474 14.5h0.62v0.62h-0.62zM459.5 15h0.62v0.62h-0.62zM461 15h4.12v0.62h-4.12zM465.5 15h2.12v0.62h-2.12zM479.5 15h0.62v0.62h-0.62zM453.5 15.5h0.62v0.62h-0.62zM458 15.5h0.62v0.62h-0.62zM459 15.5h1.12v0.62h-1.12zM461 15.5h4.62v0.62h-4.62zM466.5 15.5h0.62v0.62h-0.62zM467.5 15.5h0.62v0.62h-0.62zM475.5 15.5h0.62v0.62h-0.62zM484.5 15.5h0.62v0.62h-0.62zM455 16h0.62v0.62h-0.62zM456.5 16h0.62v0.62h-0.62zM457.5 16h1.62v0.62h-1.62zM459.5 16h4.12v0.62h-4.12zM464 16h2.62v0.62h-2.62zM467 16h2.12v0.62h-2.12zM472.5 16h0.62v0.62h-0.62zM476 16h0.62v0.62h-0.62zM477.5 16h1.12v0.62h-1.12zM456.5 16.5h11.12v0.62h-11.12zM468 16.5h0.62v0.62h-0.62zM469 16.5h0.62v0.62h-0.62zM476.5 16.5h0.62v0.62h-0.62zM479 16.5h1.12v0.62h-1.12zM480.5 16.5h1.12v0.62h-1.12zM482 16.5h0.62v0.62h-0.62zM452 17h0.62v0.62h-0.62zM455 17h14.62v0.62h-14.62zM474.5 17h0.62v0.62h-0.62zM475.5 17h0.62v0.62h-0.62zM477.5 17h1.12v0.62h-1.12zM479 17h1.12v0.62h-1.12zM480.5 17h1.12v0.62h-1.12zM452 17.5h1.12v0.62h-1.12zM454 17.5h14.62v0.62h-14.62zM469 17.5h3.12v0.62h-3.12zM473.5 17.5h0.62v0.62h-0.62zM474.5 17.5h0.62v0.62h-0.62zM475.5 17.5h4.12v0.62h-4.12zM480.5 17.5h2.62v0.62h-2.62zM451.5 18h0.62v0.62h-0.62zM454 18h1.62v0.62h-1.62zM456 18h12.12v0.62h-12.12zM469 18h2.12v0.62h-2.12zM471.5 18h0.62v0.62h-0.62zM472.5 18h1.12v0.62h-1.12zM474 18h1.12v0.62h-1.12zM475.5 18h5.62v0.62h-5.62zM481.5 18h0.62v0.62h-0.62zM453 18.5h1.12v0.62h-1.12zM455 18.5h16.12v0.62h-16.12zM471.5 18.5h2.62v0.62h-2.62zM475.5 18.5h7.12v0.62h-7.12zM483 18.5h0.62v0.62h-0.62zM453 19h1.12v0.62h-1.12zM455 19h16.12v0.62h-16.12zM471.5 19h1.62v0.62h-1.62zM473.5 19h7.12v0.62h-7.12zM481 19h2.62v0.62h-2.62zM454 19.5h1.62v0.62h-1.62zM456 19.5h10.12v0.62h-10.12zM466.5 19.5h16.62v0.62h-16.62zM484 19.5h0.62v0.62h-0.62zM453.5 20h0.62v0.62h-0.62zM455 20h1.12v0.62h-1.12zM457 20h16.62v0.62h-16.62zM474 20h8.62v0.62h-8.62zM483 20h0.62v0.62h-0.62zM484 20h0.62v0.62h-0.62zM450 20.5h1.12v0.62h-1.12zM453 20.5h18.12v0.62h-18.12zM471.5 20.5h13.62v0.62h-13.62zM454 21h0.62v0.62h-0.62zM455 21h1.12v0.62h-1.12zM456.5 21h26.62v0.62h-26.62zM483.5 21h1.62v0.62h-1.62zM485.5 21h0.62v0.62h-0.62zM453 21.5h0.62v0.62h-0.62zM454.5 21.5h0.62v0.62h-0.62zM455.5 21.5h6.12v0.62h-6.12zM462 21.5h6.12v0.62h-6.12zM468.5 21.5h16.12v0.62h-16.12zM454.5 22h9.12v0.62h-9.12zM464 22h3.62v0.62h-3.62zM468 22h17.12v0.62h-17.12zM451 22.5h1.12v0.62h-1.12zM456 22.5h1.62v0.62h-1.62zM458 22.5h9.62v0.62h-9.62zM468 22.5h2.12v0.62h-2.12zM470.5 22.5h1.12v0.62h-1.12zM472 22.5h5.12v0.62h-5.12zM477.5 22.5h6.62v0.62h-6.62zM485.5 22.5h0.62v0.62h-0.62zM456.5 23h9.62v0.62h-9.62zM467 23h0.62v0.62h-0.62zM468.5 23h0.62v0.62h-0.62zM470 23h0.62v0.62h-0.62zM471.5 23h2.62v0.62h-2.62zM474.5 23h10.12v0.62h-10.12zM455 23.5h1.12v0.62h-1.12zM458 23.5h1.12v0.62h-1.12zM459.5 23.5h6.12v0.62h-6.12zM466 23.5h0.62v0.62h-0.62zM469.5 23.5h0.62v0.62h-0.62zM471 23.5h0.62v0.62h-0.62zM472 23.5h12.12v0.62h-12.12zM484.5 23.5h0.62v0.62h-0.62zM457 24h0.62v0.62h-0.62zM458.5 24h1.12v0.62h-1.12zM460 24h3.12v0.62h-3.12zM463.5 24h1.12v0.62h-1.12zM467 24h0.62v0.62h-0.62zM469 24h1.12v0.62h-1.12zM470.5 24h1.12v0.62h-1.12zM472 24h4.62v0.62h-4.62zM477 24h8.12v0.62h-8.12zM457.5 24.5h0.62v0.62h-0.62zM458.5 24.5h1.12v0.62h-1.12zM460.5 24.5h0.62v0.62h-0.62zM465 24.5h0.62v0.62h-0.62zM468 24.5h0.62v0.62h-0.62zM472.5 24.5h4.62v0.62h-4.62zM478 24.5h7.12v0.62h-7.12zM454 25h0.62v0.62h-0.62zM459 25h0.62v0.62h-0.62zM461 25h1.12v0.62h-1.12zM472 25h0.62v0.62h-0.62zM473 25h12.62v0.62h-12.62zM487.5 25h0.62v0.62h-0.62zM462.5 25.5h0.62v0.62h-0.62zM470.5 25.5h0.62v0.62h-0.62zM471.5 25.5h0.62v0.62h-0.62zM472.5 25.5h11.62v0.62h-11.62zM484.5 25.5h0.62v0.62h-0.62zM486 25.5h0.62v0.62h-0.62zM471.5 26h0.62v0.62h-0.62zM473 26h1.62v0.62h-1.62zM475 26h8.62v0.62h-8.62zM484.5 26h0.62v0.62h-0.62zM456.5 26.5h0.62v0.62h-0.62zM473 26.5h8.62v0.62h-8.62zM482 26.5h1.62v0.62h-1.62zM484 26.5h1.12v0.62h-1.12zM472.5 27h0.62v0.62h-0.62zM474 27h9.62v0.62h-9.62zM486 27h0.62v0.62h-0.62zM471 27.5h13.12v0.62h-13.12zM473 28h1.12v0.62h-1.12zM474.5 28h9.12v0.62h-9.12zM484.5 28h0.62v0.62h-0.62zM473.5 28.5h1.12v0.62h-1.12zM475 28.5h1.12v0.62h-1.12zM476.5 28.5h6.62v0.62h-6.62zM473 29h0.62v0.62h-0.62zM474.5 29h1.12v0.62h-1.12zM476 29h1.62v0.62h-1.62zM478 29h3.62v0.62h-3.62zM483 29h0.62v0.62h-0.62zM473.5 29.5h1.12v0.62h-1.12zM475 29.5h1.62v0.62h-1.62zM477 29.5h1.12v0.62h-1.12zM478.5 29.5h3.62v0.62h-3.62zM482.5 29.5h0.62v0.62h-0.62zM472.5 30h0.62v0.62h-0.62zM474.5 30h0.62v0.62h-0.62zM475.5 30h0.62v0.62h-0.62zM476.5 30h3.12v0.62h-3.12zM480 30h1.12v0.62h-1.12zM483.5 30h0.62v0.62h-0.62zM475.5 30.5h0.62v0.62h-0.62zM477.5 30.5h1.12v0.62h-1.12zM480.5 30.5h0.62v0.62h-0.62zM481.5 30.5h0.62v0.62h-0.62zM474 31h0.62v0.62h-0.62zM481 31h0.62v0.62h-0.62zM473 31.5h0.62v0.62h-0.62zM474 31.5h1.12v0.62h-1.12zM479 31.5h1.12v0.62h-1.12zM484 32.5h0.62v0.62h-0.62zM475.5 33h0.62v0.62h-0.62zM476.5 33.5h0.62v0.62h-0.62zM480.5 33.5h0.62v0.62h-0.62z" fill="#000" opacity="1"/>
<path d="M258 67h0.62v0.62h-0.62zM257 67.5h0.62v0.62h-0.62zM258 67.5h0.62v0.62h-0.62zM250 68h0.62v0.62h-0.62zM252.5 68h0.62v0.62h-0.62zM254.5 68h0.62v0.62h-0.62zM256 68h0.62v0.62h-0.62zM258 68h0.62v0.62h-0.62zM259 68h0.62v0.62h-0.62zM253.5 68.5h1.12v0.62h-1.12zM255 68.5h0.62v0.62h-0.62zM256 68.5h1.12v0.62h-1.12zM257.5 68.5h1.12v0.62h-1.12zM259 68.5h0.62v0.62h-0.62zM252.5 69h0.62v0.62h-0.62zM254 69h5.12v0.62h-5.12zM259.5 69h0.62v0.62h-0.62zM260.5 69h0.62v0.62h-0.62zM261.5 69h0.62v0.62h-0.62zM250.5 69.5h0.62v0.62h-0.62zM252.5 69.5h1.12v0.62h-1.12zM254 69.5h1.62v0.62h-1.62zM256 69.5h2.12v0.62h-2.12zM258.5 69.5h2.62v0.62h-2.62zM261.5 69.5h1.62v0.62h-1.62zM265 69.5h0.62v0.62h-0.62zM272.5 69.5h0.62v0.62h-0.62zM275 69.5h0.62v0.62h-0.62zM276 69.5h0.62v0.62h-0.62zM277.5 69.5h0.62v0.62h-0.62zM248 70h0.62v0.62h-0.62zM249.5 70h1.12v0.62h-1.12zM252 70h8.62v0.62h-8.62zM271.5 70h0.62v0.62h-0.62zM275 70h1.12v0.62h-1.12zM249 70.5h0.62v0.62h-0.62zM250 70.5h0.62v0.62h-0.62zM251 70.5h10.12v0.62h-10.12zM261.5 70.5h0.62v0.62h-0.62zM272 70.5h0.62v0.62h-0.62zM274 70.5h0.62v0.62h-0.62zM249.5 71h8.12v0.62h-8.12zM258 71h3.12v0.62h-3.12zM261.5 71h1.12v0.62h-1.12zM268.5 71h0.62v0.62h-0.62zM270.5 71h2.62v0.62h-2.62zM274 71h1.62v0.62h-1.62zM276.5 71h0.62v0.62h-0.62zM277.5 71h0.62v0.62h-0.62zM248.5 71.5h15.12v0.62h-15.12zM265.5 71.5h0.62v0.62h-0.62zM268 71.5h3.12v0.62h-3.12zM271.5 71.5h1.62v0.62h-1.62zM273.5 71.5h0.62v0.62h-0.62zM276 71.5h0.62v0.62h-0.62zM277 71.5h0.62v0.62h-0.62zM278 71.5h0.62v0.62h-0.62zM246.5 72h1.12v0.62h-1.12zM249.5 72h12.62v0.62h-12.62zM268.5 72h0.62v0.62h-0.62zM270.5 72h1.12v0.62h-1.12zM272 72h1.12v0.62h-1.12zM273.5 72h2.62v0.62h-2.62zM248 72.5h12.62v0.62h-12.62zM261 72.5h0.62v0.62h-0.62zM268.5 72.5h0.62v0.62h-0.62zM269.5 72.5h4.62v0.62h-4.62zM274.5 72.5h2.12v0.62h-2.12zM277.5 72.5h1.12v0.62h-1.12zM246.5 73h0.62v0.62h-0.62zM248 73h13.62v0.62h-13.62zM267 73h0.62v0.62h-0.62zM268 73h0.62v0.62h-0.62zM269 73h1.62v0.62h-1.62zM271 73h5.12v0.62h-5.12zM277 73h1.62v0.62h-1.62zM280 73h0.62v0.62h-0.62zM246 73.5h0.62v0.62h-0.62zM248.5 73.5h8.12v0.62h-8.12zM257 73.5h2.62v0.62h-2.62zM260.5 73.5h0.62v0.62h-0.62zM262 73.5h0.62v0.62h-0.62zM267 73.5h0.62v0.62h-0.62zM268 73.5h3.62v0.62h-3.62zM272.5 73.5h5.62v0.62h-5.62zM279.5 73.5h1.12v0.62h-1.12zM245.5 74h0.62v0.62h-0.62zM248 74h10.12v0.62h-10.12zM258.5 74h0.62v0.62h-0.62zM259.5 74h1.12v0.62h-1.12zM265 74h0.62v0.62h-0.62zM266 74h0.62v0.62h-0.62zM267.5 74h10.62v0.62h-10.62zM278.5 74h0.62v0.62h-0.62zM281 74h0.62v0.62h-0.62zM246.5 74.5h0.62v0.62h-0.62zM248 74.5h1.62v0.62h-1.62zM250 74.5h7.12v0.62h-7.12zM257.5 74.5h1.62v0.62h-1.62zM259.5 74.5h1.12v0.62h-1.12zM266 74.5h0.62v0.62h-0.62zM267 74.5h13.62v0.62h-13.62zM246 75h0.62v0.62h-0.62zM248.5 75h0.62v0.62h-0.62zM249.5 75h7.62v0.62h-7.62zM257.5 75h1.12v0.62h-1.12zM259.5 75h0.62v0.62h-0.62zM265.5 75h0.62v0.62h-0.62zM266.5 75h1.62v0.62h-1.62zM268.5 75h8.62v0.62h-8.62zM277.5 75h1.12v0.62h-1.12zM279 75h0.62v0.62h-0.62zM249 75.5h1.12v0.62h-1.12zM250.5 75.5h1.62v0.62h-1.62zM253 75.5h2.12v0.62h-2.12zM255.5 75.5h1.12v0.62h-1.12zM257 75.5h1.12v0.62h-1.12zM265.5 75.5h12.62v0.62h-12.62zM279 75.5h1.12v0.62h-1.12zM281 75.5h0.62v0.62h-0.62zM250.5 76h1.12v0.62h-1.12zM252 76h3.12v0.62h-3.12zM255.5 76h1.12v0.62h-1.12zM265.5 76h8.62v0.62h-8.62zM274.5 76h4.62v0.62h-4.62zM279.5 76h0.62v0.62h-0.62zM281 76h0.62v0.62h-0.62zM251 76.5h0.62v0.62h-0.62zM254.5 76.5h0.62v0.62h-0.62zM266 76.5h14.62v0.62h-14.62zM252 77h1.12v0.62h-1.12zM254.5 77h0.62v0.62h-0.62zM265.5 77h0.62v0.62h-0.62zM266.5 77h1.12v0.62h-1.12zM268 77h11.12v0.62h-11.12zM266.5 77.5h4.12v0.62h-4.12zM271 77.5h6.62v0.62h-6.62zM278 77.5h0.62v0.62h-0.62zM266 78h11.62v0.62h-11.62zM278 78h1.12v0.62h-1.12zM265.5 78.5h13.62v0.62h-13.62zM279.5 78.5h0.62v0.62h-0.62zM266 79h1.12v0.62h-1.12zM267.5 79h1.62v0.62h-1.62zM269.5 79h9.62v0.62h-9.62zM279.5 79h1.62v0.62h-1.62zM265.5 79.5h0.62v0.62h-0.62zM266.5 79.5h4.12v0.62h-4.12zM271 79.5h8.12v0.62h-8.12zM264.5 80h1.12v0.62h-1.12zM266 80h7.12v0.62h-7.12zM273.5 80h2.62v0.62h-2.62zM277 80h1.62v0.62h-1.62zM279 80h1.12v0.62h-1.12zM280.5 80h0.62v0.62h-0.62zM262.5 80.5h0.62v0.62h-0.62zM266 80.5h1.12v0.62h-1.12zM267.5 80.5h1.12v0.62h-1.12zM269 80.5h8.62v0.62h-8.62zM278 80.5h1.62v0.62h-1.62zM264 81h0.62v0.62h-0.62zM266 81h0.62v0.62h-0.62zM267 81h8.62v0.62h-8.62zM276.5 81h2.62v0.62h-2.62zM266.5 81.5h0.62v0.62h-0.62zM267.5 81.5h10.12v0.62h-10.12zM278 81.5h1.12v0.62h-1.12zM263.5 82h0.62v0.62h-0.62zM266 82h0.62v0.62h-0.62zM267 82h1.12v0.62h-1.12zM269 82h1.12v0.62h-1.12zM270.5 82h6.12v0.62h-6.12zM277 82h1.62v0.62h-1.62zM279 82h0.62v0.62h-0.62zM266.5 82.5h1.62v0.62h-1.62zM268.5 82.5h8.12v0.62h-8.12zM279 82.5h0.62v0.62h-0.62zM267 83h10.12v0.62h-10.12zM264.5 83.5h0.62v0.62h-0.62zM266.5 83.5h0.62v0.62h-0.62zM268 83.5h2.12v0.62h-2.12zM270.5 83.5h1.62v0.62h-1.62zM272.5 83.5h3.12v0.62h-3.12zM276 83.5h1.12v0.62h-1.12zM277.5 83.5h0.62v0.62h-0.62zM267 84h0.62v0.62h-0.62zM269 84h1.62v0.62h-1.62zM271.5 84h2.12v0.62h-2.12zM274 84h1.62v0.62h-1.62zM276 84h0.62v0.62h-0.62zM277 84h0.62v0.62h-0.62zM266.5 84.5h0.62v0.62h-0.62zM269 84.5h0.62v0.62h-0.62zM270 84.5h1.12v0.62h-1.12zM271.5 84.5h0.62v0.62h-0.62zM272.5 84.5h1.62v0.62h-1.62zM277 84.5h0.62v0.62h-0.62zM267 85h0.62v0.62h-0.62zM270 85h0.62v0.62h-0.62zM272 85h1.12v0.62h-1.12zM273.5 85h0.62v0.62h-0.62zM266.5 85.5h0.62v0.62h-0.62zM271 85.5h0.62v0.62h-0.62zM272 85.5h2.12v0.62h-2.12zM267 86h1.12v0.62h-1.12zM270.5 86h1.12v0.62h-1.12zM275.5 86h0.62v0.62h-0.62zM277 86h0.62v0.62h-0.62zM270 86.5h0.62v0.62h-0.62zM273 86.5h0.62v0.62h-0.62zM267 87.5h0.62v0.62h-0.62zM273.5 88.5h0.62v0.62h-0.62zM274.5 88.5h0.62v0.62h-0.62z" fill="#000" opacity="1"/>
<path d="M299.5 75h0.62v0.62h-0.62zM301.5 75h0.62v0.62h-0.62zM306 75h0.62v0.62h-0.62zM298.5 75.5h0.62v0.62h-0.62zM303.5 75.5h0.62v0.62h-0.62zM305 75.5h0.62v0.62h-0.62zM309 75.5h0.62v0.62h-0.62zM295 76h1.62v0.62h-1.62zM297.5 76h0.62v0.62h-0.62zM299 76h0.62v0.62h-0.62zM302 76h1.12v0.62h-1.12zM303.5 76h0.62v0.62h-0.62zM304.5 76h0.62v0.62h-0.62zM305.5 76h0.62v0.62h-0.62zM313 76h0.62v0.62h-0.62zM292.5 76.5h1.12v0.62h-1.12zM297 76.5h0.62v0.62h-0.62zM298 76.5h2.12v0.62h-2.12zM300.5 76.5h1.62v0.62h-1.62zM302.5 76.5h2.12v0.62h-2.12zM305 76.5h0.62v0.62h-0.62zM306.5 76.5h0.62v0.62h-0.62zM307.5 76.5h0.62v0.62h-0.62zM293 77h2.12v0.62h-2.12zM295.5 77h0.62v0.62h-0.62zM296.5 77h2.12v0.62h-2.12zM299 77h4.12v0.62h-4.12zM303.5 77h4.12v0.62h-4.12zM308.5 77h0.62v0.62h-0.62zM310 77h0.62v0.62h-0.62zM290 77.5h0.62v0.62h-0.62zM291.5 77.5h3.62v0.62h-3.62zM296 77.5h0.62v0.62h-0.62zM297 77.5h6.12v0.62h-6.12zM303.5 77.5h3.12v0.62h-3.12zM307 77.5h1.12v0.62h-1.12zM309 77.5h0.62v0.62h-0.62zM319 77.5h0.62v0.62h-0.62zM288.5 78h0.62v0.62h-0.62zM290.5 78h1.12v0.62h-1.12zM292 78h7.62v0.62h-7.62zM300.5 78h3.62v0.62h-3.62zM304.5 78h5.12v0.62h-5.12zM313 78h0.62v0.62h-0.62zM317.5 78h0.62v0.62h-0.62zM321.5 78h0.62v0.62h-0.62zM289.5 78.5h0.62v0.62h-0.62zM290.5 78.5h12.12v0.62h-12.12zM303 78.5h5.62v0.62h-5.62zM309 78.5h2.12v0.62h-2.12zM317 78.5h0.62v0.62h-0.62zM320 78.5h0.62v0.62h-0.62zM288 79h22.12v0.62h-22.12zM310.5 79h0.62v0.62h-0.62zM317.5 79h0.62v0.62h-0.62zM319 79h0.62v0.62h-0.62zM321 79h0.62v0.62h-0.62zM288 79.5h0.62v0.62h-0.62zM289 79.5h21.12v0.62h-21.12zM310.5 79.5h1.12v0.62h-1.12zM314 79.5h0.62v0.62h-0.62zM317 79.5h0.62v0.62h-0.62zM318 79.5h0.62v0.62h-0.62zM319.5 79.5h1.12v0.62h-1.12zM325 79.5h0.62v0.62h-0.62zM288.5 80h0.62v0.62h-0.62zM290 80h22.12v0.62h-22.12zM315 80h0.62v0.62h-0.62zM316.5 80h0.62v0.62h-0.62zM317.5 80h0.62v0.62h-0.62zM319.5 80h2.12v0.62h-2.12zM287.5 80.5h1.12v0.62h-1.12zM289 80.5h10.62v0.62h-10.62zM300 80.5h11.12v0.62h-11.12zM311.5 80.5h0.62v0.62h-0.62zM313.5 80.5h1.12v0.62h-1.12zM317.5 80.5h2.12v0.62h-2.12zM320 80.5h3.12v0.62h-3.12zM287.5 81h0.62v0.62h-0.62zM289 81h0.62v0.62h-0.62zM290 81h14.12v0.62h-14.12zM304.5 81h5.12v0.62h-5.12zM310.5 81h1.12v0.62h-1.12zM313 81h0.62v0.62h-0.62zM314 81h0.62v0.62h-0.62zM316 81h0.62v0.62h-0.62zM317.5 81h3.12v0.62h-3.12zM321.5 81h2.62v0.62h-2.62zM289 81.5h15.62v0.62h-15.62zM305 81.5h0.62v0.62h-0.62zM306 81.5h0.62v0.62h-0.62zM307 81.5h0.62v0.62h-0.62zM308 81.5h1.12v0.62h-1.12zM309.5 81.5h0.62v0.62h-0.62zM310.5 81.5h1.12v0.62h-1.12zM312.5 81.5h0.62v0.62h-0.62zM313.5 81.5h0.62v0.62h-0.62zM314.5 81.5h1.12v0.62h-1.12zM316.5 81.5h2.62v0.62h-2.62zM319.5 81.5h5.12v0.62h-5.12zM325.5 81.5h1.12v0.62h-1.12zM328.5 81.5h0.62v0.62h-0.62zM290 82h2.12v0.62h-2.12zM292.5 82h1.62v0.62h-1.62zM294.5 82h1.62v0.62h-1.62zM296.5 82h0.62v0.62h-0.62zM297.5 82h5.62v0.62h-5.62zM303.5 82h1.12v0.62h-1.12zM305 82h0.62v0.62h-0.62zM306.5 82h0.62v0.62h-0.62zM307.5 82h0.62v0.62h-0.62zM308.5 82h2.12v0.62h-2.12zM311 82h3.12v0.62h-3.12zM315.5 82h10.12v0.62h-10.12zM326 82h0.62v0.62h-0.62zM291.5 82.5h0.62v0.62h-0.62zM293 82.5h0.62v0.62h-0.62zM294 82.5h3.12v0.62h-3.12zM297.5 82.5h1.62v0.62h-1.62zM299.5 82.5h1.62v0.62h-1.62zM302 82.5h1.12v0.62h-1.12zM307.5 82.5h1.12v0.62h-1.12zM309 82.5h3.12v0.62h-3.12zM312.5 82.5h0.62v0.62h-0.62zM313.5 82.5h1.12v0.62h-1.12zM316 82.5h9.62v0.62h-9.62zM326 82.5h0.62v0.62h-0.62zM328.5 82.5h0.62v0.62h-0.62zM290.5 83h0.62v0.62h-0.62zM292.5 83h1.12v0.62h-1.12zM294.5 83h3.62v0.62h-3.62zM299 83h2.12v0.62h-2.12zM301.5 83h1.12v0.62h-1.12zM307.5 83h0.62v0.62h-0.62zM308.5 83h2.62v0.62h-2.62zM312.5 83h0.62v0.62h-0.62zM314.5 83h0.62v0.62h-0.62zM316 83h9.12v0.62h-9.12zM325.5 83h0.62v0.62h-0.62zM326.5 83h1.12v0.62h-1.12zM290 83.5h0.62v0.62h-0.62zM292.5 83.5h0.62v0.62h-0.62zM293.5 83.5h0.62v0.62h-0.62zM297 83.5h0.62v0.62h-0.62zM300.5 83.5h1.12v0.62h-1.12zM310.5 83.5h1.12v0.62h-1.12zM312.5 83.5h2.12v0.62h-2.12zM315 83.5h0.62v0.62h-0.62zM316 83.5h10.62v0.62h-10.62zM299.5 84h0.62v0.62h-0.62zM301.5 84h0.62v0.62h-0.62zM309 84h0.62v0.62h-0.62zM310 84h0.62v0.62h-0.62zM312 84h1.12v0.62h-1.12zM313.5 84h0.62v0.62h-0.62zM314.5 84h6.62v0.62h-6.62zM321.5 84h5.12v0.62h-5.12zM327 84h0.62v0.62h-0.62zM310.5 84.5h0.62v0.62h-0.62zM312 84.5h1.62v0.62h-1.62zM314 84.5h2.62v0.62h-2.62zM317 84.5h11.12v0.62h-11.12zM309 85h0.62v0.62h-0.62zM310.5 85h0.62v0.62h-0.62zM312 85h0.62v0.62h-0.62zM313.5 85h0.62v0.62h-0.62zM314.5 85h12.62v0.62h-12.62zM313.5 85.5h10.62v0.62h-10.62zM324.5 85.5h2.62v0.62h-2.62zM310.5 86h0.62v0.62h-0.62zM314.5 86h0.62v0.62h-0.62zM315.5 86h11.62v0.62h-11.62zM314 86.5h13.62v0.62h-13.62zM314.5 87h0.62v0.62h-0.62zM316 87h1.62v0.62h-1.62zM318 87h9.62v0.62h-9.62zM328.5 87h0.62v0.62h-0.62zM313.5 87.5h0.62v0.62h-0.62zM314.5 87.5h6.12v0.62h-6.12zM321 87.5h6.62v0.62h-6.62zM315.5 88h3.62v0.62h-3.62zM319.5 88h7.62v0.62h-7.62zM327.5 88h1.12v0.62h-1.12zM314 88.5h1.62v0.62h-1.62zM316 88.5h11.12v0.62h-11.12zM315 89h0.62v0.62h-0.62zM316 89h9.62v0.62h-9.62zM326 89h1.12v0.62h-1.12zM315 89.5h1.12v0.62h-1.12zM317 89.5h1.12v0.62h-1.12zM318.5 89.5h7.62v0.62h-7.62zM326.5 89.5h0.62v0.62h-0.62zM314.5 90h0.62v0.62h-0.62zM315.5 90h8.62v0.62h-8.62zM324.5 90h0.62v0.62h-0.62zM325.5 90h1.12v0.62h-1.12zM316.5 90.5h0.62v0.62h-0.62zM317.5 90.5h0.62v0.62h-0.62zM318.5 90.5h6.62v0.62h-6.62zM328 90.5h0.62v0.62h-0.62zM318 91h0.62v0.62h-0.62zM319 91h1.62v0.62h-1.62zM321 91h0.62v0.62h-0.62zM322 91h2.12v0.62h-2.12zM315 91.5h1.12v0.62h-1.12zM316.5 91.5h0.62v0.62h-0.62zM318.5 91.5h1.62v0.62h-1.62zM320.5 91.5h0.62v0.62h-0.62zM321.5 91.5h1.62v0.62h-1.62zM323.5 91.5h2.62v0.62h-2.62zM320.5 92h1.12v0.62h-1.12zM322 92h0.62v0.62h-0.62zM324 92h0.62v0.62h-0.62zM325 92h0.62v0.62h-0.62zM318 92.5h0.62v0.62h-0.62zM319 92.5h1.12v0.62h-1.12zM321 92.5h0.62v0.62h-0.62zM322 92.5h0.62v0.62h-0.62zM323.5 92.5h0.62v0.62h-0.62zM324.5 92.5h0.62v0.62h-0.62zM317 93h0.62v0.62h-0.62zM326 93h0.62v0.62h-0.62zM321 93.5h0.62v0.62h-0.62zM320.5 94h0.62v0.62h-0.62zM320.5 94.5h0.62v0.62h-0.62zM319.5 95h0.62v0.62h-0.62zM323 95h1.12v0.62h-1.12z" fill="#000" opacity="1"/>
<path d="M347 69h0.62v0.62h-0.62zM349 69h0.62v0.62h-0.62zM347.5 69.5h0.62v0.62h-0.62zM341.5 70h0.62v0.62h-0.62zM344 70.5h0.62v0.62h-0.62zM339 71h0.62v0.62h-0.62zM346.5 71h0.62v0.62h-0.62zM349.5 71.5h0.62v0.62h-0.62zM352 71.5h0.62v0.62h-0.62zM343.5 72h0.62v0.62h-0.62zM343.5 72.5h0.62v0.62h-0.62zM345 72.5h0.62v0.62h-0.62zM350.5 72.5h0.62v0.62h-0.62zM352 72.5h0.62v0.62h-0.62zM343 73h0.62v0.62h-0.62zM348.5 73h0.62v0.62h-0.62zM350.5 73h0.62v0.62h-0.62zM356 73h0.62v0.62h-0.62zM348 73.5h0.62v0.62h-0.62zM350 73.5h0.62v0.62h-0.62zM352.5 73.5h0.62v0.62h-0.62zM351.5 74h0.62v0.62h-0.62zM355.5 74h0.62v0.62h-0.62zM343 74.5h0.62v0.62h-0.62zM347.5 74.5h1.12v0.62h-1.12zM349 74.5h0.62v0.62h-0.62zM352 74.5h0.62v0.62h-0.62zM354.5 74.5h0.62v0.62h-0.62zM361.5 74.5h0.62v0.62h-0.62zM338 75h0.62v0.62h-0.62zM339 75h0.62v0.62h-0.62zM345 75h0.62v0.62h-0.62zM346.5 75h1.12v0.62h-1.12zM348.5 75h0.62v0.62h-0.62zM352.5 75h0.62v0.62h-0.62zM354 75h0.62v0.62h-0.62zM344.5 75.5h0.62v0.62h-0.62zM346 75.5h1.12v0.62h-1.12zM347.5 75.5h1.62v0.62h-1.62zM349.5 75.5h0.62v0.62h-0.62zM351 75.5h0.62v0.62h-0.62zM354 75.5h1.12v0.62h-1.12zM336.5 76h0.62v0.62h-0.62zM337.5 76h0.62v0.62h-0.62zM339.5 76h0.62v0.62h-0.62zM344 76h0.62v0.62h-0.62zM345.5 76h2.12v0.62h-2.12zM348 76h1.62v0.62h-1.62zM350 76h1.12v0.62h-1.12zM351.5 76h0.62v0.62h-0.62zM355.5 76h0.62v0.62h-0.62zM336.5 76.5h0.62v0.62h-0.62zM338.5 76.5h0.62v0.62h-0.62zM342.5 76.5h1.12v0.62h-1.12zM344 76.5h1.12v0.62h-1.12zM346.5 76.5h6.12v0.62h-6.12zM353 76.5h1.62v0.62h-1.62zM357 76.5h0.62v0.62h-0.62zM340.5 77h0.62v0.62h-0.62zM342 77h0.62v0.62h-0.62zM343 77h2.12v0.62h-2.12zM345.5 77h1.12v0.62h-1.12zM347 77h5.62v0.62h-5.62zM353 77h1.62v0.62h-1.62zM355 77h0.62v0.62h-0.62zM362 77h0.62v0.62h-0.62zM336 77.5h0.62v0.62h-0.62zM339.5 77.5h0.62v0.62h-0.62zM341.5 77.5h1.12v0.62h-1.12zM343.5 77.5h1.12v0.62h-1.12zM345 77.5h1.12v0.62h-1.12zM347 77.5h2.62v0.62h-2.62zM350 77.5h0.62v0.62h-0.62zM351 77.5h3.62v0.62h-3.62zM355 77.5h1.62v0.62h-1.62zM338 78h0.62v0.62h-0.62zM342.5 78h1.12v0.62h-1.12zM344.5 78h1.12v0.62h-1.12zM346 78h0.62v0.62h-0.62zM347 78h1.62v0.62h-1.62zM349 78h7.12v0.62h-7.12zM358 78h0.62v0.62h-0.62zM335.5 78.5h0.62v0.62h-0.62zM342 78.5h1.62v0.62h-1.62zM344 78.5h3.12v0.62h-3.12zM347.5 78.5h0.62v0.62h-0.62zM348.5 78.5h3.12v0.62h-3.12zM352.5 78.5h2.12v0.62h-2.12zM355 78.5h1.62v0.62h-1.62zM358 78.5h0.62v0.62h-0.62zM360.5 78.5h0.62v0.62h-0.62zM363.5 78.5h0.62v0.62h-0.62zM338 79h0.62v0.62h-0.62zM341 79h1.12v0.62h-1.12zM342.5 79h0.62v0.62h-0.62zM344 79h11.12v0.62h-11.12zM356 79h0.62v0.62h-0.62zM357 79h0.62v0.62h-0.62zM358.5 79h0.62v0.62h-0.62zM360 79h0.62v0.62h-0.62zM341.5 79.5h2.62v0.62h-2.62zM344.5 79.5h0.62v0.62h-0.62zM345.5 79.5h4.12v0.62h-4.12zM350 79.5h1.62v0.62h-1.62zM352 79.5h2.62v0.62h-2.62zM355 79.5h1.12v0.62h-1.12zM356.5 79.5h0.62v0.62h-0.62zM340 80h4.12v0.62h-4.12zM345.5 80h6.62v0.62h-6.62zM352.5 80h0.62v0.62h-0.62zM353.5 80h4.12v0.62h-4.12zM335.5 80.5h0.62v0.62h-0.62zM340.5 80.5h0.62v0.62h-0.62zM342 80.5h1.62v0.62h-1.62zM344 80.5h6.62v0.62h-6.62zM351 80.5h0.62v0.62h-0.62zM352 80.5h6.12v0.62h-6.12zM339 81h1.12v0.62h-1.12zM340.5 81h3.62v0.62h-3.62zM344.5 81h4.62v0.62h-4.62zM349.5 81h3.62v0.62h-3.62zM353.5 81h1.62v0.62h-1.62zM356.5 81h0.62v0.62h-0.62zM357.5 81h0.62v0.62h-0.62zM339 81.5h2.12v0.62h-2.12zM341.5 81.5h1.62v0.62h-1.62zM343.5 81.5h4.62v0.62h-4.62zM348.5 81.5h2.62v0.62h-2.62zM351.5 81.5h1.12v0.62h-1.12zM353.5 81.5h3.12v0.62h-3.12zM357 81.5h0.62v0.62h-0.62zM358 81.5h1.62v0.62h-1.62zM339.5 82h9.12v0.62h-9.12zM349 82h2.12v0.62h-2.12zM351.5 82h1.12v0.62h-1.12zM353 82h4.12v0.62h-4.12zM357.5 82h1.62v0.62h-1.62zM339.5 82.5h1.12v0.62h-1.12zM341 82.5h1.12v0.62h-1.12zM342.5 82.5h8.62v0.62h-8.62zM352 82.5h3.62v0.62h-3.62zM356 82.5h3.62v0.62h-3.62zM337.5 83h0.62v0.62h-0.62zM339.5 83h1.12v0.62h-1.12zM341 83h6.62v0.62h-6.62zM348.5 83h5.62v0.62h-5.62zM354.5 83h4.12v0.62h-4.12zM359 83h0.62v0.62h-0.62zM364.5 83h0.62v0.62h-0.62zM339.5 83.5h2.12v0.62h-2.12zM342 83.5h1.62v0.62h-1.62zM344 83.5h8.12v0.62h-8.12zM353 83.5h1.62v0.62h-1.62zM355 83.5h2.62v0.62h-2.62zM358.5 83.5h0.62v0.62h-0.62zM359.5 83.5h1.12v0.62h-1.12zM338.5 84h1.12v0.62h-1.12zM340 84h17.12v0.62h-17.12zM358 84h0.62v0.62h-0.62zM359 84h0.62v0.62h-0.62zM337 84.5h0.62v0.62h-0.62zM338.5 84.5h1.12v0.62h-1.12zM340 84.5h1.12v0.62h-1.12zM342 84.5h1.62v0.62h-1.62zM344 84.5h10.12v0.62h-10.12zM354.5 84.5h4.12v0.62h-4.12zM359 84.5h1.12v0.62h-1.12zM337.5 85h0.62v0.62h-0.62zM338.5 85h7.12v0.62h-7.12zM346 85h1.12v0.62h-1.12zM347.5 85h5.62v0.62h-5.62zM353.5 85h2.12v0.62h-2.12zM356 85h3.12v0.62h-3.12zM359.5 85h0.62v0.62h-0.62zM364 85h0.62v0.62h-0.62zM341 85.5h5.62v0.62h-5.62zM347 85.5h0.62v0.62h-0.62zM348 85.5h3.62v0.62h-3.62zM352 85.5h5.12v0.62h-5.12zM357.5 85.5h2.12v0.62h-2.12zM360.5 85.5h0.62v0.62h-0.62zM361.5 85.5h0.62v0.62h-0.62zM339.5 86h12.12v0.62h-12.12zM352 86h3.12v0.62h-3.12zM355.5 86h3.12v0.62h-3.12zM359 86h1.12v0.62h-1.12zM360.5 86h0.62v0.62h-0.62zM339 86.5h13.12v0.62h-13.12zM352.5 86.5h2.62v0.62h-2.62zM355.5 86.5h0.62v0.62h-0.62zM356.5 86.5h0.62v0.62h-0.62zM357.5 86.5h0.62v0.62h-0.62zM358.5 86.5h0.62v0.62h-0.62zM361.5 86.5h0.62v0.62h-0.62zM363 86.5h0.62v0.62h-0.62zM337.5 87h0.62v0.62h-0.62zM338.5 87h13.62v0.62h-13.62zM352.5 87h7.62v0.62h-7.62zM362.5 87h0.62v0.62h-0.62zM337.5 87.5h20.12v0.62h-20.12zM358 87.5h1.62v0.62h-1.62zM362 87.5h0.62v0.62h-0.62zM365 87.5h0.62v0.62h-0.62zM336.5 88h2.12v0.62h-2.12zM339.5 88h20.12v0.62h-20.12zM336.5 88.5h1.12v0.62h-1.12zM338 88.5h17.12v0.62h-17.12zM355.5 88.5h4.12v0.62h-4.12zM364 88.5h0.62v0.62h-0.62zM335 89h0.62v0.62h-0.62zM337.5 89h0.62v0.62h-0.62zM338.5 89h18.12v0.62h-18.12zM357 89h2.12v0.62h-2.12zM362 89h0.62v0.62h-0.62zM337 89.5h0.62v0.62h-0.62zM338 89.5h1.62v0.62h-1.62zM340 89.5h11.12v0.62h-11.12zM351.5 89.5h4.62v0.62h-4.62zM356.5 89.5h0.62v0.62h-0.62zM357.5 89.5h0.62v0.62h-0.62zM358.5 89.5h0.62v0.62h-0.62zM337 90h0.62v0.62h-0.62zM338 90h2.12v0.62h-2.12zM340.5 90h2.62v0.62h-2.62zM343.5 90h5.12v0.62h-5.12zM349 90h9.62v0.62h-9.62zM359 90h1.12v0.62h-1.12zM361 90h0.62v0.62h-0.62zM336 90.5h0.62v0.62h-0.62zM337 90.5h1.12v0.62h-1.12zM338.5 90.5h5.12v0.62h-5.12zM344 90.5h11.62v0.62h-11.62zM356 90.5h2.62v0.62h-2.62zM335 91h0.62v0.62h-0.62zM336.5 91h19.62v0.62h-19.62zM356.5 91h0.62v0.62h-0.62zM357.5 91h0.62v0.62h-0.62zM360 91h0.62v0.62h-0.62zM361 91h0.62v0.62h-0.62zM336 91.5h1.12v0.62h-1.12zM338 91.5h1.12v0.62h-1.12zM339.5 91.5h10.62v0.62h-10.62zM350.5 91.5h4.62v0.62h-4.62zM355.5 91.5h1.12v0.62h-1.12zM357 91.5h1.12v0.62h-1.12zM336.5 92h0.62v0.62h-0.62zM337.5 92h8.12v0.62h-8.12zM346 92h1.12v0.62h-1.12zM347.5 92h9.12v0.62h-9.12zM357 92h1.62v0.62h-1.62zM360 92h0.62v0.62h-0.62zM336 92.5h0.62v0.62h-0.62zM337.5 92.5h7.62v0.62h-7.62zM345.5 92.5h11.62v0.62h-11.62zM358 92.5h0.62v0.62h-0.62zM361.5 92.5h0.62v0.62h-0.62zM336 93h1.12v0.62h-1.12zM338 93h2.12v0.62h-2.12zM340.5 93h0.62v0.62h-0.62zM341.5 93h14.62v0.62h-14.62zM336.5 93.5h2.62v0.62h-2.62zM339.5 93.5h3.12v0.62h-3.12zM343 93.5h13.12v0.62h-13.12zM356.5 93.5h1.12v0.62h-1.12zM358 93.5h0.62v0.62h-0.62zM336 94h14.62v0.62h-14.62zM351 94h3.62v0.62h-3.62zM355.5 94h1.62v0.62h-1.62zM370 94h0.62v0.62h-0.62zM337 94.5h2.62v0.62h-2.62zM340 94.5h0.62v0.62h-0.62zM341 94.5h1.12v0.62h-1.12zM342.5 94.5h4.12v0.62h-4.12zM347 94.5h5.62v0.62h-5.62zM353 94.5h2.62v0.62h-2.62zM372 94.5h0.62v0.62h-0.62zM337.5 95h16.62v0.62h-16.62zM355 95h0.62v0.62h-0.62zM372 95h0.62v0.62h-0.62zM335.5 95.5h0.62v0.62h-0.62zM338 95.5h0.62v0.62h-0.62zM339 95.5h14.62v0.62h-14.62zM354 95.5h0.62v0.62h-0.62zM355.5 95.5h0.62v0.62h-0.62zM357 95.5h0.62v0.62h-0.62zM358.5 95.5h0.62v0.62h-0.62zM366.5 95.5h1.12v0.62h-1.12zM370.5 95.5h0.62v0.62h-0.62zM372 95.5h0.62v0.62h-0.62zM336 96h0.62v0.62h-0.62zM337 96h0.62v0.62h-0.62zM338 96h1.12v0.62h-1.12zM339.5 96h6.62v0.62h-6.62zM346.5 96h4.12v0.62h-4.12zM351 96h2.62v0.62h-2.62zM354 96h0.62v0.62h-0.62zM356.5 96h0.62v0.62h-0.62zM358.5 96h0.62v0.62h-0.62zM366.5 96h1.12v0.62h-1.12zM371.5 96h1.12v0.62h-1.12zM337.5 96.5h0.62v0.62h-0.62zM338.5 96.5h1.62v0.62h-1.62zM340.5 96.5h6.12v0.62h-6.12zM347 96.5h3.12v0.62h-3.12zM350.5 96.5h3.12v0.62h-3.12zM354.5 96.5h0.62v0.62h-0.62zM356 96.5h0.62v0.62h-0.62zM364.5 96.5h0.62v0.62h-0.62zM367 96.5h0.62v0.62h-0.62zM368 96.5h2.62v0.62h-2.62zM371 96.5h1.12v0.62h-1.12zM373 96.5h0.62v0.62h-0.62zM338 97h1.12v0.62h-1.12zM339.5 97h0.62v0.62h-0.62zM340.5 97h1.12v0.62h-1.12zM342 97h5.62v0.62h-5.62zM348 97h0.62v0.62h-0.62zM349 97h1.12v0.62h-1.12zM350.5 97h2.62v0.62h-2.62zM353.5 97h1.12v0.62h-1.12zM356 97h0.62v0.62h-0.62zM357 97h0.62v0.62h-0.62zM364.5 97h0.62v0.62h-0.62zM367 97h3.62v0.62h-3.62zM371.5 97h0.62v0.62h-0.62zM338 97.5h1.12v0.62h-1.12zM339.5 97.5h1.12v0.62h-1.12zM341 97.5h1.62v0.62h-1.62zM343 97.5h2.12v0.62h-2.12zM345.5 97.5h3.62v0.62h-3.62zM350 97.5h2.12v0.62h-2.12zM353 97.5h0.62v0.62h-0.62zM355.5 97.5h1.12v0.62h-1.12zM365 97.5h0.62v0.62h-0.62zM367 97.5h4.12v0.62h-4.12zM371.5 97.5h3.12v0.62h-3.12zM339.5 98h6.12v0.62h-6.12zM346 98h1.62v0.62h-1.62zM348.5 98h5.12v0.62h-5.12zM364.5 98h0.62v0.62h-0.62zM365.5 98h2.62v0.62h-2.62zM368.5 98h2.62v0.62h-2.62zM372.5 98h0.62v0.62h-0.62zM374.5 98h0.62v0.62h-0.62zM340 98.5h0.62v0.62h-0.62zM341.5 98.5h0.62v0.62h-0.62zM342.5 98.5h5.12v0.62h-5.12zM348 98.5h3.62v0.62h-3.62zM364.5 98.5h4.62v0.62h-4.62zM369.5 98.5h5.12v0.62h-5.12zM375.5 98.5h0.62v0.62h-0.62zM338.5 99h0.62v0.62h-0.62zM340 99h0.62v0.62h-0.62zM341 99h1.12v0.62h-1.12zM342.5 99h8.12v0.62h-8.12zM351 99h0.62v0.62h-0.62zM352 99h0.62v0.62h-0.62zM353.5 99h0.62v0.62h-0.62zM365 99h1.12v0.62h-1.12zM366.5 99h7.12v0.62h-7.12zM340 99.5h0.62v0.62h-0.62zM341 99.5h0.62v0.62h-0.62zM342 99.5h5.62v0.62h-5.62zM348.5 99.5h0.62v0.62h-0.62zM349.5 99.5h0.62v0.62h-0.62zM350.5 99.5h2.12v0.62h-2.12zM353 99.5h0.62v0.62h-0.62zM354.5 99.5h0.62v0.62h-0.62zM364.5 99.5h9.62v0.62h-9.62zM338 100h2.12v0.62h-2.12zM341 100h0.62v0.62h-0.62zM342 100h0.62v0.62h-0.62zM344.5 100h0.62v0.62h-0.62zM345.5 100h2.12v0.62h-2.12zM348.5 100h2.62v0.62h-2.62zM354 100h1.12v0.62h-1.12zM355.5 100h0.62v0.62h-0.62zM364 100h0.62v0.62h-0.62zM365 100h7.12v0.62h-7.12zM372.5 100h2.12v0.62h-2.12zM376 100h0.62v0.62h-0.62zM341.5 100.5h0.62v0.62h-0.62zM342.5 100.5h1.62v0.62h-1.62zM344.5 100.5h0.62v0.62h-0.62zM345.5 100.5h1.12v0.62h-1.12zM347 100.5h1.62v0.62h-1.62zM349 100.5h2.12v0.62h-2.12zM353 100.5h0.62v0.62h-0.62zM364.5 100.5h0.62v0.62h-0.62zM365.5 100.5h9.62v0.62h-9.62zM338.5 101h0.62v0.62h-0.62zM339.5 101h0.62v0.62h-0.62zM341 101h0.62v0.62h-0.62zM343 101h0.62v0.62h-0.62zM344.5 101h0.62v0.62h-0.62zM346 101h0.62v0.62h-0.62zM347 101h1.62v0.62h-1.62zM349 101h0.62v0.62h-0.62zM364 101h1.12v0.62h-1.12zM365.5 101h9.12v0.62h-9.12zM342 101.5h1.12v0.62h-1.12zM343.5 101.5h1.12v0.62h-1.12zM345 101.5h0.62v0.62h-0.62zM347 101.5h0.62v0.62h-0.62zM348.5 101.5h0.62v0.62h-0.62zM363.5 101.5h0.62v0.62h-0.62zM365.5 101.5h8.12v0.62h-8.12zM339.5 102h0.62v0.62h-0.62zM341.5 102h0.62v0.62h-0.62zM344 102h0.62v0.62h-0.62zM346.5 102h0.62v0.62h-0.62zM352 102h0.62v0.62h-0.62zM362.5 102h0.62v0.62h-0.62zM364.5 102h1.12v0.62h-1.12zM366.5 102h7.62v0.62h-7.62zM374.5 102h0.62v0.62h-0.62zM339.5 102.5h0.62v0.62h-0.62zM341 102.5h0.62v0.62h-0.62zM342 102.5h0.62v0.62h-0.62zM345 102.5h0.62v0.62h-0.62zM346.5 102.5h0.62v0.62h-0.62zM348.5 102.5h0.62v0.62h-0.62zM363.5 102.5h0.62v0.62h-0.62zM364.5 102.5h6.12v0.62h-6.12zM371 102.5h2.12v0.62h-2.12zM374 102.5h0.62v0.62h-0.62zM348 103h0.62v0.62h-0.62zM349.5 103h0.62v0.62h-0.62zM364 103h10.12v0.62h-10.12zM374.5 103h0.62v0.62h-0.62zM352.5 103.5h0.62v0.62h-0.62zM365 103.5h0.62v0.62h-0.62zM366 103.5h2.12v0.62h-2.12zM368.5 103.5h4.62v0.62h-4.62zM373.5 103.5h0.62v0.62h-0.62z" fill="#000" opacity="1"/>
<path d="M397 71h0.62v0.62h-0.62zM395.5 72h0.62v0.62h-0.62zM398 72h0.62v0.62h-0.62zM388 72.5h0.62v0.62h-0.62zM391 72.5h0.62v0.62h-0.62zM393 73h0.62v0.62h-0.62zM394.5 73h0.62v0.62h-0.62zM388.5 73.5h0.62v0.62h-0.62zM388.5 74h0.62v0.62h-0.62zM390.5 74h0.62v0.62h-0.62zM398.5 74h1.12v0.62h-1.12zM393 74.5h1.62v0.62h-1.62zM398.5 74.5h0.62v0.62h-0.62zM401 74.5h0.62v0.62h-0.62zM383.5 75h0.62v0.62h-0.62zM388 75h0.62v0.62h-0.62zM392.5 75h1.62v0.62h-1.62zM401 75h1.12v0.62h-1.12zM383.5 75.5h0.62v0.62h-0.62zM384.5 75.5h0.62v0.62h-0.62zM389 75.5h0.62v0.62h-0.62zM390.5 75.5h0.62v0.62h-0.62zM393 75.5h2.12v0.62h-2.12zM395.5 75.5h0.62v0.62h-0.62zM396.5 75.5h0.62v0.62h-0.62zM399 75.5h0.62v0.62h-0.62zM400.5 75.5h0.62v0.62h-0.62zM405 75.5h0.62v0.62h-0.62zM389.5 76h1.12v0.62h-1.12zM391 76h1.12v0.62h-1.12zM392.5 76h1.12v0.62h-1.12zM394 76h6.12v0.62h-6.12zM402 76h2.12v0.62h-2.12zM407.5 76h0.62v0.62h-0.62zM391 76.5h1.12v0.62h-1.12zM392.5 76.5h0.62v0.62h-0.62zM393.5 76.5h1.62v0.62h-1.62zM395.5 76.5h6.12v0.62h-6.12zM405.5 76.5h0.62v0.62h-0.62zM386 77h0.62v0.62h-0.62zM388.5 77h7.62v0.62h-7.62zM396.5 77h5.62v0.62h-5.62zM404 77h0.62v0.62h-0.62zM387.5 77.5h1.12v0.62h-1.12zM389 77.5h5.12v0.62h-5.12zM395 77.5h5.12v0.62h-5.12zM401 77.5h0.62v0.62h-0.62zM402.5 77.5h2.12v0.62h-2.12zM384.5 78h0.62v0.62h-0.62zM388 78h0.62v0.62h-0.62zM389 78h9.12v0.62h-9.12zM398.5 78h0.62v0.62h-0.62zM399.5 78h3.12v0.62h-3.12zM403 78h1.12v0.62h-1.12zM404.5 78h0.62v0.62h-0.62zM406.5 78h0.62v0.62h-0.62zM385 78.5h0.62v0.62h-0.62zM388.5 78.5h2.62v0.62h-2.62zM391.5 78.5h3.12v0.62h-3.12zM395 78.5h8.12v0.62h-8.12zM405 78.5h0.62v0.62h-0.62zM387.5 79h3.12v0.62h-3.12zM391 79h2.62v0.62h-2.62zM394 79h10.12v0.62h-10.12zM386 79.5h8.12v0.62h-8.12zM394.5 79.5h8.62v0.62h-8.62zM403.5 79.5h0.62v0.62h-0.62zM404.5 79.5h1.12v0.62h-1.12zM383 80h0.62v0.62h-0.62zM386 80h1.62v0.62h-1.62zM388 80h17.12v0.62h-17.12zM405.5 80h1.62v0.62h-1.62zM382.5 80.5h0.62v0.62h-0.62zM384.5 80.5h0.62v0.62h-0.62zM386 80.5h17.62v0.62h-17.62zM404.5 80.5h0.62v0.62h-0.62zM405.5 80.5h0.62v0.62h-0.62zM407.5 80.5h0.62v0.62h-0.62zM410.5 80.5h0.62v0.62h-0.62zM384.5 81h0.62v0.62h-0.62zM385.5 81h0.62v0.62h-0.62zM387.5 81h4.62v0.62h-4.62zM392.5 81h7.62v0.62h-7.62zM400.5 81h4.12v0.62h-4.12zM406 81h0.62v0.62h-0.62zM410 81h0.62v0.62h-0.62zM415 81h0.62v0.62h-0.62zM382 81.5h0.62v0.62h-0.62zM385.5 81.5h15.62v0.62h-15.62zM401.5 81.5h0.62v0.62h-0.62zM402.5 81.5h3.12v0.62h-3.12zM406.5 81.5h0.62v0.62h-0.62zM408 81.5h0.62v0.62h-0.62zM383.5 82h0.62v0.62h-0.62zM385.5 82h20.12v0.62h-20.12zM406.5 82h0.62v0.62h-0.62zM410 82h0.62v0.62h-0.62zM411.5 82h0.62v0.62h-0.62zM413 82h1.12v0.62h-1.12zM384 82.5h0.62v0.62h-0.62zM385.5 82.5h17.62v0.62h-17.62zM403.5 82.5h1.62v0.62h-1.62zM405.5 82.5h0.62v0.62h-0.62zM410 82.5h3.12v0.62h-3.12zM385.5 83h1.12v0.62h-1.12zM387 83h16.12v0.62h-16.12zM403.5 83h3.12v0.62h-3.12zM408.5 83h0.62v0.62h-0.62zM410 83h2.62v0.62h-2.62zM413 83h0.62v0.62h-0.62zM414 83h0.62v0.62h-0.62zM384.5 83.5h1.12v0.62h-1.12zM386 83.5h2.12v0.62h-2.12zM388.5 83.5h16.12v0.62h-16.12zM405 83.5h1.12v0.62h-1.12zM407 83.5h0.62v0.62h-0.62zM408 83.5h5.62v0.62h-5.62zM414 83.5h0.62v0.62h-0.62zM415.5 83.5h0.62v0.62h-0.62zM386 84h19.12v0.62h-19.12zM405.5 84h1.12v0.62h-1.12zM407 84h0.62v0.62h-0.62zM409 84h6.62v0.62h-6.62zM385.5 84.5h3.12v0.62h-3.12zM389 84.5h11.62v0.62h-11.62zM401 84.5h5.62v0.62h-5.62zM407.5 84.5h0.62v0.62h-0.62zM408.5 84.5h5.62v0.62h-5.62zM415 84.5h0.62v0.62h-0.62zM417 84.5h0.62v0.62h-0.62zM383 85h0.62v0.62h-0.62zM385 85h19.62v0.62h-19.62zM405 85h2.12v0.62h-2.12zM408.5 85h3.12v0.62h-3.12zM412 85h2.62v0.62h-2.62zM415.5 85h1.12v0.62h-1.12zM385 85.5h0.62v0.62h-0.62zM386 85.5h0.62v0.62h-0.62zM387 85.5h4.12v0.62h-4.12zM391.5 85.5h14.62v0.62h-14.62zM407 85.5h0.62v0.62h-0.62zM408 85.5h1.12v0.62h-1.12zM409.5 85.5h3.12v0.62h-3.12zM413 85.5h2.62v0.62h-2.62zM383 86h0.62v0.62h-0.62zM386 86h18.62v0.62h-18.62zM405 86h2.12v0.62h-2.12zM407.5 86h7.62v0.62h-7.62zM415.5 86h0.62v0.62h-0.62zM385.5 86.5h21.62v0.62h-21.62zM407.5 86.5h2.12v0.62h-2.12zM410 86.5h5.62v0.62h-5.62zM384 87h0.62v0.62h-0.62zM385.5 87h0.62v0.62h-0.62zM386.5 87h19.12v0.62h-19.12zM406 87h0.62v0.62h-0.62zM407.5 87h7.62v0.62h-7.62zM385 87.5h0.62v0.62h-0.62zM386.5 87.5h19.12v0.62h-19.12zM406 87.5h8.62v0.62h-8.62zM415 87.5h1.12v0.62h-1.12zM416.5 87.5h0.62v0.62h-0.62zM382.5 88h0.62v0.62h-0.62zM386 88h0.62v0.62h-0.62zM387 88h29.12v0.62h-29.12zM385.5 88.5h0.62v0.62h-0.62zM388 88.5h6.62v0.62h-6.62zM395 88.5h11.12v0.62h-11.12zM406.5 88.5h0.62v0.62h-0.62zM407.5 88.5h6.62v0.62h-6.62zM414.5 88.5h1.12v0.62h-1.12zM388 89h1.62v0.62h-1.62zM391 89h15.62v0.62h-15.62zM407.5 89h0.62v0.62h-0.62zM408.5 89h7.12v0.62h-7.12zM388.5 89.5h3.62v0.62h-3.62zM392.5 89.5h8.12v0.62h-8.12zM401 89.5h4.62v0.62h-4.62zM406 89.5h9.62v0.62h-9.62zM386 90h0.62v0.62h-0.62zM389 90h21.12v0.62h-21.12zM410.5 90h5.12v0.62h-5.12zM383.5 90.5h0.62v0.62h-0.62zM387 90.5h0.62v0.62h-0.62zM389 90.5h0.62v0.62h-0.62zM390.5 90.5h0.62v0.62h-0.62zM391.5 90.5h2.62v0.62h-2.62zM394.5 90.5h6.12v0.62h-6.12zM401 90.5h3.62v0.62h-3.62zM406 90.5h0.62v0.62h-0.62zM407 90.5h0.62v0.62h-0.62zM408 90.5h0.62v0.62h-0.62zM409 90.5h6.62v0.62h-6.62zM417 90.5h0.62v0.62h-0.62zM388.5 91h1.62v0.62h-1.62zM390.5 91h2.62v0.62h-2.62zM393.5 91h8.12v0.62h-8.12zM402 91h0.62v0.62h-0.62zM403 91h4.62v0.62h-4.62zM409 91h0.62v0.62h-0.62zM410 91h5.62v0.62h-5.62zM390 91.5h1.12v0.62h-1.12zM391.5 91.5h5.62v0.62h-5.62zM397.5 91.5h4.12v0.62h-4.12zM402 91.5h0.62v0.62h-0.62zM403.5 91.5h2.62v0.62h-2.62zM407 91.5h0.62v0.62h-0.62zM408 91.5h1.62v0.62h-1.62zM410 91.5h5.12v0.62h-5.12zM415.5 91.5h0.62v0.62h-0.62zM388.5 92h1.12v0.62h-1.12zM390.5 92h2.12v0.62h-2.12zM393 92h0.62v0.62h-0.62zM394 92h1.62v0.62h-1.62zM396 92h1.12v0.62h-1.12zM397.5 92h1.62v0.62h-1.62zM399.5 92h3.62v0.62h-3.62zM403.5 92h0.62v0.62h-0.62zM404.5 92h1.62v0.62h-1.62zM406.5 92h1.62v0.62h-1.62zM408.5 92h7.12v0.62h-7.12zM387.5 92.5h0.62v0.62h-0.62zM388.5 92.5h0.62v0.62h-0.62zM393 92.5h1.12v0.62h-1.12zM394.5 92.5h5.62v0.62h-5.62zM400.5 92.5h0.62v0.62h-0.62zM404 92.5h1.12v0.62h-1.12zM406 92.5h0.62v0.62h-0.62zM407.5 92.5h1.12v0.62h-1.12zM409.5 92.5h7.12v0.62h-7.12zM388 93h0.62v0.62h-0.62zM391 93h0.62v0.62h-0.62zM392 93h1.12v0.62h-1.12zM393.5 93h0.62v0.62h-0.62zM394.5 93h0.62v0.62h-0.62zM395.5 93h0.62v0.62h-0.62zM397 93h3.12v0.62h-3.12zM401.5 93h0.62v0.62h-0.62zM404.5 93h1.12v0.62h-1.12zM408 93h1.12v0.62h-1.12zM410 93h6.12v0.62h-6.12zM388.5 93.5h0.62v0.62h-0.62zM390.5 93.5h1.12v0.62h-1.12zM393 93.5h0.62v0.62h-0.62zM394.5 93.5h0.62v0.62h-0.62zM396 93.5h1.12v0.62h-1.12zM397.5 93.5h1.12v0.62h-1.12zM400.5 93.5h1.12v0.62h-1.12zM410.5 93.5h5.12v0.62h-5.12zM416 93.5h1.62v0.62h-1.62zM391.5 94h0.62v0.62h-0.62zM394.5 94h0.62v0.62h-0.62zM396 94h0.62v0.62h-0.62zM400.5 94h0.62v0.62h-0.62zM409.5 94h6.12v0.62h-6.12zM416 94h0.62v0.62h-0.62zM393.5 94.5h0.62v0.62h-0.62zM395.5 94.5h0.62v0.62h-0.62zM396.5 94.5h0.62v0.62h-0.62zM408.5 94.5h0.62v0.62h-0.62zM409.5 94.5h7.12v0.62h-7.12zM417.5 94.5h0.62v0.62h-0.62zM395.5 95h1.12v0.62h-1.12zM397 95h0.62v0.62h-0.62zM408.5 95h7.62v0.62h-7.62zM418 95h0.62v0.62h-0.62zM391 95.5h0.62v0.62h-0.62zM400 95.5h0.62v0.62h-0.62zM409 95.5h4.12v0.62h-4.12zM413.5 95.5h1.12v0.62h-1.12zM415 95.5h1.12v0.62h-1.12zM416.5 95.5h0.62v0.62h-0.62zM390 96h0.62v0.62h-0.62zM409 96h4.12v0.62h-4.12zM413.5 96h3.12v0.62h-3.12zM409.5 96.5h0.62v0.62h-0.62zM410.5 96.5h5.12v0.62h-5.12zM416 96.5h0.62v0.62h-0.62zM399.5 97h0.62v0.62h-0.62zM401 97h0.62v0.62h-0.62zM409 97h0.62v0.62h-0.62zM410.5 97h4.12v0.62h-4.12zM415.5 97h1.12v0.62h-1.12zM400.5 97.5h0.62v0.62h-0.62zM402 97.5h0.62v0.62h-0.62zM409.5 97.5h1.12v0.62h-1.12zM411 97.5h5.12v0.62h-5.12zM410 98h0.62v0.62h-0.62zM411 98h5.62v0.62h-5.62zM408 98.5h8.12v0.62h-8.12zM409 99h0.62v0.62h-0.62zM410 99h7.12v0.62h-7.12zM417.5 99h0.62v0.62h-0.62zM408.5 99.5h0.62v0.62h-0.62zM409.5 99.5h4.62v0.62h-4.62zM414.5 99.5h0.62v0.62h-0.62zM416 99.5h0.62v0.62h-0.62zM408 100h6.62v0.62h-6.62zM415 100h1.12v0.62h-1.12zM408.5 100.5h0.62v0.62h-0.62zM409.5 100.5h3.12v0.62h-3.12zM413 100.5h1.12v0.62h-1.12zM414.5 100.5h1.12v0.62h-1.12zM416.5 100.5h1.12v0.62h-1.12zM409.5 101h6.12v0.62h-6.12zM416 101h1.12v0.62h-1.12zM409.5 101.5h3.62v0.62h-3.62zM413.5 101.5h2.62v0.62h-2.62zM416.5 101.5h0.62v0.62h-0.62zM409.5 102h1.12v0.62h-1.12zM411 102h5.62v0.62h-5.62zM411 102.5h2.12v0.62h-2.12zM414 102.5h0.62v0.62h-0.62zM415 102.5h0.62v0.62h-0.62zM416 102.5h0.62v0.62h-0.62zM410 103h0.62v0.62h-0.62zM412 103h1.12v0.62h-1.12zM414 103h0.62v0.62h-0.62zM415 103h0.62v0.62h-0.62zM416 103h0.62v0.62h-0.62zM409.5 103.5h0.62v0.62h-0.62zM410.5 103.5h1.12v0.62h-1.12z" fill="#000" opacity="1"/>
<path d="M436 75.5h0.62v0.62h-0.62zM441 76.5h0.62v0.62h-0.62zM442 76.5h0.62v0.62h-0.62zM434.5 77h0.62v0.62h-0.62zM429.5 77.5h0.62v0.62h-0.62zM436 77.5h0.62v0.62h-0.62zM443.5 77.5h0.62v0.62h-0.62zM431 78h0.62v0.62h-0.62zM440.5 78h0.62v0.62h-0.62zM436.5 78.5h0.62v0.62h-0.62zM441.5 78.5h0.62v0.62h-0.62zM444 78.5h0.62v0.62h-0.62zM445 78.5h0.62v0.62h-0.62zM451.5 78.5h0.62v0.62h-0.62zM437.5 79h0.62v0.62h-0.62zM441.5 79h0.62v0.62h-0.62zM443.5 79h1.12v0.62h-1.12zM431.5 79.5h1.12v0.62h-1.12zM441.5 79.5h0.62v0.62h-0.62zM442.5 79.5h0.62v0.62h-0.62zM445 79.5h0.62v0.62h-0.62zM448.5 79.5h0.62v0.62h-0.62zM431.5 80h0.62v0.62h-0.62zM434 80h0.62v0.62h-0.62zM437 80h1.12v0.62h-1.12zM439.5 80h0.62v0.62h-0.62zM440.5 80h1.12v0.62h-1.12zM442 80h0.62v0.62h-0.62zM446.5 80h0.62v0.62h-0.62zM449 80h0.62v0.62h-0.62zM427 80.5h0.62v0.62h-0.62zM432 80.5h0.62v0.62h-0.62zM433.5 80.5h0.62v0.62h-0.62zM434.5 80.5h0.62v0.62h-0.62zM436.5 80.5h0.62v0.62h-0.62zM437.5 80.5h1.12v0.62h-1.12zM439 80.5h1.12v0.62h-1.12zM440.5 80.5h1.12v0.62h-1.12zM442 80.5h0.62v0.62h-0.62zM444 80.5h1.12v0.62h-1.12zM445.5 80.5h0.62v0.62h-0.62zM428.5 81h0.62v0.62h-0.62zM430 81h0.62v0.62h-0.62zM435.5 81h0.62v0.62h-0.62zM436.5 81h3.12v0.62h-3.12zM441 81h2.12v0.62h-2.12zM443.5 81h0.62v0.62h-0.62zM444.5 81h1.12v0.62h-1.12zM446 81h0.62v0.62h-0.62zM433 81.5h0.62v0.62h-0.62zM434.5 81.5h0.62v0.62h-0.62zM435.5 81.5h5.12v0.62h-5.12zM441 81.5h2.12v0.62h-2.12zM443.5 81.5h0.62v0.62h-0.62zM444.5 81.5h1.12v0.62h-1.12zM450 81.5h0.62v0.62h-0.62zM433 82h0.62v0.62h-0.62zM434.5 82h2.62v0.62h-2.62zM438 82h7.12v0.62h-7.12zM445.5 82h0.62v0.62h-0.62zM449 82h0.62v0.62h-0.62zM453.5 82h0.62v0.62h-0.62zM430 82.5h0.62v0.62h-0.62zM431.5 82.5h2.12v0.62h-2.12zM434.5 82.5h9.12v0.62h-9.12zM444 82.5h1.62v0.62h-1.62zM446 82.5h1.62v0.62h-1.62zM449 82.5h1.12v0.62h-1.12zM430.5 83h0.62v0.62h-0.62zM431.5 83h1.12v0.62h-1.12zM433 83h4.62v0.62h-4.62zM438 83h6.12v0.62h-6.12zM445 83h1.12v0.62h-1.12zM446.5 83h0.62v0.62h-0.62zM448 83h0.62v0.62h-0.62zM450.5 83h1.12v0.62h-1.12zM427 83.5h0.62v0.62h-0.62zM430.5 83.5h0.62v0.62h-0.62zM431.5 83.5h1.12v0.62h-1.12zM433 83.5h3.62v0.62h-3.62zM437 83.5h3.62v0.62h-3.62zM441 83.5h7.62v0.62h-7.62zM449.5 83.5h0.62v0.62h-0.62zM427 84h0.62v0.62h-0.62zM428.5 84h0.62v0.62h-0.62zM430 84h0.62v0.62h-0.62zM431 84h1.62v0.62h-1.62zM433 84h3.62v0.62h-3.62zM437 84h10.12v0.62h-10.12zM447.5 84h2.62v0.62h-2.62zM450.5 84h0.62v0.62h-0.62zM427 84.5h0.62v0.62h-0.62zM429.5 84.5h0.62v0.62h-0.62zM431 84.5h14.12v0.62h-14.12zM445.5 84.5h4.12v0.62h-4.12zM450 84.5h0.62v0.62h-0.62zM451 84.5h0.62v0.62h-0.62zM452 84.5h0.62v0.62h-0.62zM453 84.5h0.62v0.62h-0.62zM454.5 84.5h0.62v0.62h-0.62zM428 85h1.62v0.62h-1.62zM430 85h11.62v0.62h-11.62zM442 85h4.12v0.62h-4.12zM446.5 85h2.12v0.62h-2.12zM449 85h1.12v0.62h-1.12zM450.5 85h0.62v0.62h-0.62zM455 85h0.62v0.62h-0.62zM428.5 85.5h0.62v0.62h-0.62zM429.5 85.5h0.62v0.62h-0.62zM430.5 85.5h5.62v0.62h-5.62zM436.5 85.5h14.62v0.62h-14.62zM451.5 85.5h1.12v0.62h-1.12zM454.5 85.5h0.62v0.62h-0.62zM456 85.5h0.62v0.62h-0.62zM426.5 86h0.62v0.62h-0.62zM429.5 86h21.62v0.62h-21.62zM451.5 86h0.62v0.62h-0.62zM453 86h1.12v0.62h-1.12zM428.5 86.5h0.62v0.62h-0.62zM430 86.5h19.62v0.62h-19.62zM450 86.5h1.12v0.62h-1.12zM451.5 86.5h1.12v0.62h-1.12zM454 86.5h0.62v0.62h-0.62zM426 87h0.62v0.62h-0.62zM428.5 87h16.12v0.62h-16.12zM445 87h6.62v0.62h-6.62zM452 87h0.62v0.62h-0.62zM428.5 87.5h2.12v0.62h-2.12zM431 87.5h1.12v0.62h-1.12zM432.5 87.5h10.12v0.62h-10.12zM443 87.5h11.62v0.62h-11.62zM455 87.5h0.62v0.62h-0.62zM456.5 87.5h0.62v0.62h-0.62zM459.5 87.5h0.62v0.62h-0.62zM426 88h0.62v0.62h-0.62zM427.5 88h0.62v0.62h-0.62zM428.5 88h3.12v0.62h-3.12zM432 88h4.62v0.62h-4.62zM437 88h15.62v0.62h-15.62zM458.5 88h0.62v0.62h-0.62zM428 88.5h22.12v0.62h-22.12zM450.5 88.5h2.12v0.62h-2.12zM453 88.5h0.62v0.62h-0.62zM455 88.5h0.62v0.62h-0.62zM456 88.5h1.62v0.62h-1.62zM428 89h23.62v0.62h-23.62zM452 89h0.62v0.62h-0.62zM455 89h0.62v0.62h-0.62zM457 89h0.62v0.62h-0.62zM458 89h0.62v0.62h-0.62zM460.5 89h0.62v0.62h-0.62zM426 89.5h0.62v0.62h-0.62zM428.5 89.5h21.12v0.62h-21.12zM450 89.5h2.12v0.62h-2.12zM452.5 89.5h1.12v0.62h-1.12zM454 89.5h0.62v0.62h-0.62zM455 89.5h0.62v0.62h-0.62zM457 89.5h1.12v0.62h-1.12zM458.5 89.5h1.62v0.62h-1.62zM427.5 90h0.62v0.62h-0.62zM429 90h8.12v0.62h-8.12zM437.5 90h4.12v0.62h-4.12zM442 90h6.62v0.62h-6.62zM449 90h3.62v0.62h-3.62zM453 90h1.12v0.62h-1.12zM454.5 90h0.62v0.62h-0.62zM455.5 90h1.12v0.62h-1.12zM457.5 90h1.62v0.62h-1.62zM460 90h0.62v0.62h-0.62zM428 90.5h0.62v0.62h-0.62zM429 90.5h24.62v0.62h-24.62zM454 90.5h1.12v0.62h-1.12zM456 90.5h0.62v0.62h-0.62zM457 90.5h4.12v0.62h-4.12zM426 91h0.62v0.62h-0.62zM428.5 91h8.12v0.62h-8.12zM437 91h16.62v0.62h-16.62zM454 91h1.12v0.62h-1.12zM455.5 91h5.12v0.62h-5.12zM461.5 91h0.62v0.62h-0.62zM426 91.5h0.62v0.62h-0.62zM427 91.5h0.62v0.62h-0.62zM430 91.5h23.12v0.62h-23.12zM453.5 91.5h9.12v0.62h-9.12zM429 92h0.62v0.62h-0.62zM430 92h3.62v0.62h-3.62zM434 92h18.12v0.62h-18.12zM453 92h0.62v0.62h-0.62zM454 92h5.12v0.62h-5.12zM459.5 92h3.62v0.62h-3.62zM426.5 92.5h1.12v0.62h-1.12zM428 92.5h0.62v0.62h-0.62zM429 92.5h3.62v0.62h-3.62zM433 92.5h18.62v0.62h-18.62zM452 92.5h2.12v0.62h-2.12zM454.5 92.5h8.62v0.62h-8.62zM426.5 93h0.62v0.62h-0.62zM429.5 93h11.12v0.62h-11.12zM441 93h9.12v0.62h-9.12zM450.5 93h3.62v0.62h-3.62zM454.5 93h2.62v0.62h-2.62zM457.5 93h4.62v0.62h-4.62zM428.5 93.5h0.62v0.62h-0.62zM429.5 93.5h0.62v0.62h-0.62zM430.5 93.5h1.62v0.62h-1.62zM432.5 93.5h1.62v0.62h-1.62zM434.5 93.5h29.12v0.62h-29.12zM464 93.5h0.62v0.62h-0.62zM427.5 94h0.62v0.62h-0.62zM429.5 94h33.62v0.62h-33.62zM463.5 94h0.62v0.62h-0.62zM429 94.5h0.62v0.62h-0.62zM430.5 94.5h22.62v0.62h-22.62zM453.5 94.5h9.12v0.62h-9.12zM463 94.5h0.62v0.62h-0.62zM430 95h1.12v0.62h-1.12zM431.5 95h2.62v0.62h-2.62zM434.5 95h19.62v0.62h-19.62zM454.5 95h9.12v0.62h-9.12zM464 95h0.62v0.62h-0.62zM428 95.5h0.62v0.62h-0.62zM431 95.5h3.62v0.62h-3.62zM435.5 95.5h3.62v0.62h-3.62zM439.5 95.5h9.12v0.62h-9.12zM449 95.5h3.62v0.62h-3.62zM453 95.5h1.62v0.62h-1.62zM455 95.5h8.12v0.62h-8.12zM463.5 95.5h1.12v0.62h-1.12zM429 96h0.62v0.62h-0.62zM431 96h0.62v0.62h-0.62zM432 96h0.62v0.62h-0.62zM433.5 96h2.62v0.62h-2.62zM436.5 96h15.12v0.62h-15.12zM452.5 96h10.12v0.62h-10.12zM430 96.5h1.12v0.62h-1.12zM432.5 96.5h0.62v0.62h-0.62zM433.5 96.5h6.62v0.62h-6.62zM440.5 96.5h7.12v0.62h-7.12zM448 96.5h1.12v0.62h-1.12zM450.5 96.5h0.62v0.62h-0.62zM451.5 96.5h0.62v0.62h-0.62zM453.5 96.5h1.62v0.62h-1.62zM455.5 96.5h6.62v0.62h-6.62zM462.5 96.5h2.12v0.62h-2.12zM433.5 97h0.62v0.62h-0.62zM434.5 97h4.62v0.62h-4.62zM439.5 97h7.12v0.62h-7.12zM447 97h1.12v0.62h-1.12zM449 97h1.12v0.62h-1.12zM450.5 97h0.62v0.62h-0.62zM451.5 97h1.12v0.62h-1.12zM453.5 97h7.62v0.62h-7.62zM461.5 97h1.12v0.62h-1.12zM463 97h1.12v0.62h-1.12zM429 97.5h0.62v0.62h-0.62zM433 97.5h0.62v0.62h-0.62zM434 97.5h2.12v0.62h-2.12zM436.5 97.5h0.62v0.62h-0.62zM437.5 97.5h1.12v0.62h-1.12zM439 97.5h0.62v0.62h-0.62zM440 97.5h7.62v0.62h-7.62zM448.5 97.5h1.12v0.62h-1.12zM453 97.5h10.12v0.62h-10.12zM431.5 98h0.62v0.62h-0.62zM434 98h0.62v0.62h-0.62zM435.5 98h0.62v0.62h-0.62zM436.5 98h2.62v0.62h-2.62zM439.5 98h7.12v0.62h-7.12zM447 98h0.62v0.62h-0.62zM448 98h1.12v0.62h-1.12zM449.5 98h0.62v0.62h-0.62zM452 98h0.62v0.62h-0.62zM454 98h9.62v0.62h-9.62zM425.5 98.5h0.62v0.62h-0.62zM435 98.5h0.62v0.62h-0.62zM437 98.5h1.62v0.62h-1.62zM439 98.5h4.12v0.62h-4.12zM443.5 98.5h0.62v0.62h-0.62zM444.5 98.5h0.62v0.62h-0.62zM446.5 98.5h0.62v0.62h-0.62zM447.5 98.5h0.62v0.62h-0.62zM452 98.5h0.62v0.62h-0.62zM453 98.5h0.62v0.62h-0.62zM454 98.5h8.12v0.62h-8.12zM462.5 98.5h1.12v0.62h-1.12zM435 99h0.62v0.62h-0.62zM436.5 99h0.62v0.62h-0.62zM439 99h1.62v0.62h-1.62zM441 99h2.62v0.62h-2.62zM444.5 99h0.62v0.62h-0.62zM452.5 99h0.62v0.62h-0.62zM453.5 99h1.12v0.62h-1.12zM455 99h7.62v0.62h-7.62zM432.5 99.5h0.62v0.62h-0.62zM435 99.5h0.62v0.62h-0.62zM438 99.5h1.12v0.62h-1.12zM441 99.5h0.62v0.62h-0.62zM442 99.5h1.62v0.62h-1.62zM454 99.5h6.62v0.62h-6.62zM461 99.5h0.62v0.62h-0.62zM463 99.5h0.62v0.62h-0.62zM432.5 100h0.62v0.62h-0.62zM435.5 100h0.62v0.62h-0.62zM438.5 100h0.62v0.62h-0.62zM440 100h0.62v0.62h-0.62zM443.5 100h1.12v0.62h-1.12zM447.5 100h0.62v0.62h-0.62zM454.5 100h1.62v0.62h-1.62zM456.5 100h1.62v0.62h-1.62zM458.5 100h2.62v0.62h-2.62zM461.5 100h0.62v0.62h-0.62zM462.5 100h0.62v0.62h-0.62zM440 100.5h0.62v0.62h-0.62zM441 100.5h0.62v0.62h-0.62zM444.5 100.5h0.62v0.62h-0.62zM454 100.5h0.62v0.62h-0.62zM455 100.5h0.62v0.62h-0.62zM456.5 100.5h1.12v0.62h-1.12zM458 100.5h2.62v0.62h-2.62zM462 100.5h0.62v0.62h-0.62zM430.5 101h0.62v0.62h-0.62zM432.5 101h1.62v0.62h-1.62zM436 101h0.62v0.62h-0.62zM438 101h0.62v0.62h-0.62zM441 101h0.62v0.62h-0.62zM442.5 101h0.62v0.62h-0.62zM443.5 101h0.62v0.62h-0.62zM455 101h0.62v0.62h-0.62zM457 101h3.62v0.62h-3.62zM461 101h0.62v0.62h-0.62zM463.5 101h0.62v0.62h-0.62zM440.5 101.5h1.12v0.62h-1.12zM445.5 101.5h0.62v0.62h-0.62zM455.5 101.5h0.62v0.62h-0.62zM457.5 101.5h0.62v0.62h-0.62zM459 101.5h0.62v0.62h-0.62zM460 101.5h1.12v0.62h-1.12zM462.5 101.5h0.62v0.62h-0.62zM455.5 102h0.62v0.62h-0.62zM456.5 102h0.62v0.62h-0.62zM457.5 102h0.62v0.62h-0.62zM455 102.5h1.12v0.62h-1.12zM457.5 102.5h0.62v0.62h-0.62zM443.5 103h0.62v0.62h-0.62z" fill="#000" opacity="1"/>
<path d="M475 66h0.62v0.62h-0.62zM476 67h0.62v0.62h-0.62zM478 67h0.62v0.62h-0.62zM481.5 67h0.62v0.62h-0.62zM483.5 67h0.62v0.62h-0.62zM484.5 67h0.62v0.62h-0.62zM475 67.5h0.62v0.62h-0.62zM478.5 67.5h0.62v0.62h-0.62zM480.5 67.5h0.62v0.62h-0.62zM481.5 67.5h0.62v0.62h-0.62zM483 67.5h0.62v0.62h-0.62zM477 68h0.62v0.62h-0.62zM480.5 68h0.62v0.62h-0.62zM476 68.5h0.62v0.62h-0.62zM479 68.5h0.62v0.62h-0.62zM480 68.5h1.62v0.62h-1.62zM488 68.5h0.62v0.62h-0.62zM473.5 69h0.62v0.62h-0.62zM475.5 69h0.62v0.62h-0.62zM477.5 69h5.62v0.62h-5.62zM483.5 69h1.12v0.62h-1.12zM475 69.5h1.12v0.62h-1.12zM477.5 69.5h1.12v0.62h-1.12zM479 69.5h1.62v0.62h-1.62zM481.5 69.5h2.62v0.62h-2.62zM485 69.5h1.12v0.62h-1.12zM489.5 69.5h0.62v0.62h-0.62zM494.5 69.5h0.62v0.62h-0.62zM473 70h0.62v0.62h-0.62zM475.5 70h1.12v0.62h-1.12zM477.5 70h5.12v0.62h-5.12zM483.5 70h1.12v0.62h-1.12zM485.5 70h0.62v0.62h-0.62zM487.5 70h0.62v0.62h-0.62zM488.5 70h0.62v0.62h-0.62zM489.5 70h1.62v0.62h-1.62zM493 70h0.62v0.62h-0.62zM494 70h0.62v0.62h-0.62zM472.5 70.5h0.62v0.62h-0.62zM475.5 70.5h7.62v0.62h-7.62zM483.5 70.5h1.62v0.62h-1.62zM485.5 70.5h0.62v0.62h-0.62zM487 70.5h1.12v0.62h-1.12zM490 70.5h0.62v0.62h-0.62zM491 70.5h1.62v0.62h-1.62zM495 70.5h0.62v0.62h-0.62zM501 70.5h0.62v0.62h-0.62zM471.5 71h0.62v0.62h-0.62zM473.5 71h7.12v0.62h-7.12zM481 71h0.62v0.62h-0.62zM482 71h1.12v0.62h-1.12zM483.5 71h4.62v0.62h-4.62zM490 71h2.12v0.62h-2.12zM495 71h0.62v0.62h-0.62zM500 71h0.62v0.62h-0.62zM502 71h1.12v0.62h-1.12zM505 71h0.62v0.62h-0.62zM507.5 71h0.62v0.62h-0.62zM471.5 71.5h0.62v0.62h-0.62zM473.5 71.5h0.62v0.62h-0.62zM474.5 71.5h2.12v0.62h-2.12zM477 71.5h2.12v0.62h-2.12zM479.5 71.5h9.12v0.62h-9.12zM489 71.5h1.12v0.62h-1.12zM490.5 71.5h2.62v0.62h-2.62zM495.5 71.5h1.12v0.62h-1.12zM500.5 71.5h2.62v0.62h-2.62zM504.5 71.5h1.12v0.62h-1.12zM471.5 72h0.62v0.62h-0.62zM473 72h17.12v0.62h-17.12zM490.5 72h3.62v0.62h-3.62zM496.5 72h0.62v0.62h-0.62zM499 72h1.12v0.62h-1.12zM501 72h3.12v0.62h-3.12zM505 72h0.62v0.62h-0.62zM506 72h0.62v0.62h-0.62zM472.5 72.5h0.62v0.62h-0.62zM473.5 72.5h2.12v0.62h-2.12zM476 72.5h18.62v0.62h-18.62zM495 72.5h1.12v0.62h-1.12zM499 72.5h0.62v0.62h-0.62zM500 72.5h0.62v0.62h-0.62zM501 72.5h5.62v0.62h-5.62zM470.5 73h0.62v0.62h-0.62zM473 73h10.62v0.62h-10.62zM484 73h5.62v0.62h-5.62zM490.5 73h2.62v0.62h-2.62zM493.5 73h0.62v0.62h-0.62zM494.5 73h1.12v0.62h-1.12zM496.5 73h0.62v0.62h-0.62zM497.5 73h0.62v0.62h-0.62zM499 73h0.62v0.62h-0.62zM500 73h6.12v0.62h-6.12zM509.5 73h0.62v0.62h-0.62zM472.5 73.5h1.12v0.62h-1.12zM474 73.5h22.62v0.62h-22.62zM497 73.5h0.62v0.62h-0.62zM498 73.5h0.62v0.62h-0.62zM499.5 73.5h1.62v0.62h-1.62zM501.5 73.5h5.62v0.62h-5.62zM507.5 73.5h0.62v0.62h-0.62zM473.5 74h20.62v0.62h-20.62zM494.5 74h1.12v0.62h-1.12zM496.5 74h0.62v0.62h-0.62zM498 74h0.62v0.62h-0.62zM500.5 74h6.62v0.62h-6.62zM472.5 74.5h1.12v0.62h-1.12zM474 74.5h7.12v0.62h-7.12zM481.5 74.5h15.12v0.62h-15.12zM497 74.5h1.12v0.62h-1.12zM498.5 74.5h0.62v0.62h-0.62zM500 74.5h8.62v0.62h-8.62zM471.5 75h1.62v0.62h-1.62zM473.5 75h17.12v0.62h-17.12zM491 75h2.12v0.62h-2.12zM493.5 75h5.62v0.62h-5.62zM499.5 75h8.62v0.62h-8.62zM471.5 75.5h18.12v0.62h-18.12zM490 75.5h7.62v0.62h-7.62zM498 75.5h1.62v0.62h-1.62zM500 75.5h4.62v0.62h-4.62zM505 75.5h3.12v0.62h-3.12zM508.5 75.5h0.62v0.62h-0.62zM470 76h0.62v0.62h-0.62zM473.5 76h35.12v0.62h-35.12zM472 76.5h0.62v0.62h-0.62zM473.5 76.5h19.62v0.62h-19.62zM493.5 76.5h15.62v0.62h-15.62zM470.5 77h0.62v0.62h-0.62zM472 77h0.62v0.62h-0.62zM473 77h36.12v0.62h-36.12zM509.5 77h0.62v0.62h-0.62zM471.5 77.5h0.62v0.62h-0.62zM473 77.5h0.62v0.62h-0.62zM474 77.5h33.62v0.62h-33.62zM470.5 78h0.62v0.62h-0.62zM473.5 78h0.62v0.62h-0.62zM475 78h34.62v0.62h-34.62zM470.5 78.5h0.62v0.62h-0.62zM472 78.5h2.12v0.62h-2.12zM474.5 78.5h32.12v0.62h-32.12zM507 78.5h2.12v0.62h-2.12zM471.5 79h1.62v0.62h-1.62zM473.5 79h0.62v0.62h-0.62zM474.5 79h7.62v0.62h-7.62zM482.5 79h7.12v0.62h-7.12zM490 79h4.62v0.62h-4.62zM495 79h3.62v0.62h-3.62zM499 79h8.12v0.62h-8.12zM507.5 79h0.62v0.62h-0.62zM474 79.5h25.62v0.62h-25.62zM500 79.5h8.12v0.62h-8.12zM509 79.5h0.62v0.62h-0.62zM473 80h0.62v0.62h-0.62zM474 80h3.62v0.62h-3.62zM478 80h15.62v0.62h-15.62zM494 80h5.12v0.62h-5.12zM499.5 80h0.62v0.62h-0.62zM500.5 80h8.12v0.62h-8.12zM471 80.5h0.62v0.62h-0.62zM473.5 80.5h0.62v0.62h-0.62zM475 80.5h17.12v0.62h-17.12zM492.5 80.5h6.12v0.62h-6.12zM499 80.5h9.62v0.62h-9.62zM473.5 81h0.62v0.62h-0.62zM474.5 81h12.12v0.62h-12.12zM487 81h11.12v0.62h-11.12zM498.5 81h1.12v0.62h-1.12zM500 81h7.62v0.62h-7.62zM475 81.5h0.62v0.62h-0.62zM476 81.5h1.12v0.62h-1.12zM477.5 81.5h6.12v0.62h-6.12zM484 81.5h3.12v0.62h-3.12zM487.5 81.5h7.62v0.62h-7.62zM495.5 81.5h2.12v0.62h-2.12zM498.5 81.5h0.62v0.62h-0.62zM499.5 81.5h0.62v0.62h-0.62zM500.5 81.5h6.62v0.62h-6.62zM508 81.5h0.62v0.62h-0.62zM474 82h0.62v0.62h-0.62zM476.5 82h1.12v0.62h-1.12zM478 82h4.12v0.62h-4.12zM483 82h1.62v0.62h-1.62zM485 82h0.62v0.62h-0.62zM486 82h1.12v0.62h-1.12zM487.5 82h1.12v0.62h-1.12zM489 82h0.62v0.62h-0.62zM490 82h4.62v0.62h-4.62zM495 82h0.62v0.62h-0.62zM496.5 82h0.62v0.62h-0.62zM500.5 82h1.12v0.62h-1.12zM502 82h4.12v0.62h-4.12zM506.5 82h1.12v0.62h-1.12zM508 82h1.12v0.62h-1.12zM475.5 82.5h1.12v0.62h-1.12zM477 82.5h2.12v0.62h-2.12zM479.5 82.5h2.12v0.62h-2.12zM482.5 82.5h1.62v0.62h-1.62zM484.5 82.5h0.62v0.62h-0.62zM486.5 82.5h0.62v0.62h-0.62zM487.5 82.5h0.62v0.62h-0.62zM488.5 82.5h0.62v0.62h-0.62zM489.5 82.5h0.62v0.62h-0.62zM490.5 82.5h1.12v0.62h-1.12zM492 82.5h0.62v0.62h-0.62zM493 82.5h0.62v0.62h-0.62zM494 82.5h0.62v0.62h-0.62zM495.5 82.5h0.62v0.62h-0.62zM500 82.5h8.62v0.62h-8.62zM473.5 83h0.62v0.62h-0.62zM475 83h0.62v0.62h-0.62zM476.5 83h1.12v0.62h-1.12zM478.5 83h0.62v0.62h-0.62zM480.5 83h1.12v0.62h-1.12zM482 83h0.62v0.62h-0.62zM485 83h1.12v0.62h-1.12zM486.5 83h2.12v0.62h-2.12zM489 83h2.62v0.62h-2.62zM492.5 83h0.62v0.62h-0.62zM493.5 83h0.62v0.62h-0.62zM494.5 83h0.62v0.62h-0.62zM496.5 83h0.62v0.62h-0.62zM500 83h0.62v0.62h-0.62zM501 83h5.62v0.62h-5.62zM507 83h0.62v0.62h-0.62zM508 83h0.62v0.62h-0.62zM477 83.5h0.62v0.62h-0.62zM478.5 83.5h0.62v0.62h-0.62zM481 83.5h0.62v0.62h-0.62zM483.5 83.5h0.62v0.62h-0.62zM488.5 83.5h0.62v0.62h-0.62zM489.5 83.5h0.62v0.62h-0.62zM500.5 83.5h7.12v0.62h-7.12zM478 84h0.62v0.62h-0.62zM483 84h0.62v0.62h-0.62zM489 84h0.62v0.62h-0.62zM490 84h0.62v0.62h-0.62zM491 84h0.62v0.62h-0.62zM494.5 84h0.62v0.62h-0.62zM499 84h0.62v0.62h-0.62zM500.5 84h0.62v0.62h-0.62zM501.5 84h5.12v0.62h-5.12zM507.5 84h0.62v0.62h-0.62zM473.5 84.5h0.62v0.62h-0.62zM478 84.5h0.62v0.62h-0.62zM483.5 84.5h0.62v0.62h-0.62zM485 84.5h0.62v0.62h-0.62zM488 84.5h0.62v0.62h-0.62zM489 84.5h0.62v0.62h-0.62zM492 84.5h0.62v0.62h-0.62zM493.5 84.5h0.62v0.62h-0.62zM499 84.5h0.62v0.62h-0.62zM500 84.5h6.62v0.62h-6.62zM507 84.5h1.62v0.62h-1.62zM477 85h0.62v0.62h-0.62zM483.5 85h0.62v0.62h-0.62zM501 85h6.62v0.62h-6.62zM474 85.5h0.62v0.62h-0.62zM501 85.5h6.62v0.62h-6.62zM500 86h1.12v0.62h-1.12zM502 86h5.62v0.62h-5.62zM508 86h0.62v0.62h-0.62zM475 86.5h0.62v0.62h-0.62zM501 86.5h3.12v0.62h-3.12zM504.5 86.5h2.62v0.62h-2.62zM501.5 87h5.12v0.62h-5.12zM507 87h0.62v0.62h-0.62zM501 87.5h1.12v0.62h-1.12zM503 87.5h2.12v0.62h-2.12zM506 87.5h1.12v0.62h-1.12zM503 88h0.62v0.62h-0.62zM504 88h1.12v0.62h-1.12zM505.5 88h1.62v0.62h-1.62zM501 88.5h1.12v0.62h-1.12zM503.5 88.5h3.12v0.62h-3.12zM502.5 89h0.62v0.62h-0.62zM503.5 89h1.62v0.62h-1.62zM506 89h0.62v0.62h-0.62zM505 89.5h0.62v0.62h-0.62zM506.5 91h0.62v0.62h-0.62z" fill="#000" opacity="1"/>
<rect x="248.4" y="114.7" width="89" height="1.4" fill="#000"/>
<rect x="397" y="114.7" width="88" height="1.4" fill="#000"/>
<path d="M497.5 115.4 L480.5 120.6 L485 115.4 L480.5 110 Z" fill="#000"/>
<text x="337.3" y="120.5" font-size="13" font-weight="bold" text-anchor="start" fill="#000" textLength="59.2" lengthAdjust="spacingAndGlyphs" stroke="#000" stroke-width="0.22">Annexin-V</text>
<text x="214.5" y="119.4" font-size="9" font-weight="bold" text-anchor="start" fill="#000" textLength="12.7" lengthAdjust="spacingAndGlyphs" stroke="#000" stroke-width="0.22">B.2</text>
<path d="M254.6 126.18000000000002V316.8H519.6" fill="none" stroke="#444" stroke-width="0.85"/>
<path d="M251.4 316.8h6.6M251.4 293.0h6.6M251.4 269.2h6.6M251.4 245.4h6.6M251.4 221.6h6.6M251.4 197.9h6.6M251.4 174.1h6.6M251.4 150.3h6.6M251.4 126.5h6.6M254.2 313.6v6.6M274.6 313.6v6.6M294.9 313.6v6.6M315.3 313.6v6.6M335.6 313.6v6.6M356.0 313.6v6.6M376.4 313.6v6.6M396.7 313.6v6.6M417.1 313.6v6.6M437.4 313.6v6.6M457.8 313.6v6.6M478.2 313.6v6.6M498.5 313.6v6.6M518.9 313.6v6.6" fill="none" stroke="#333" stroke-width="0.9"/>
<text x="247.0" y="295.7" font-size="8.3" font-weight="normal" text-anchor="end" fill="#000" stroke="#000" stroke-width="0.15">10</text>
<text x="247.0" y="271.9" font-size="8.3" font-weight="normal" text-anchor="end" fill="#000" stroke="#000" stroke-width="0.15">20</text>
<text x="247.0" y="248.1" font-size="8.3" font-weight="normal" text-anchor="end" fill="#000" stroke="#000" stroke-width="0.15">30</text>
<text x="247.0" y="224.3" font-size="8.3" font-weight="normal" text-anchor="end" fill="#000" stroke="#000" stroke-width="0.15">40</text>
<text x="247.0" y="200.6" font-size="8.3" font-weight="normal" text-anchor="end" fill="#000" stroke="#000" stroke-width="0.15">50</text>
<text x="247.0" y="176.8" font-size="8.3" font-weight="normal" text-anchor="end" fill="#000" stroke="#000" stroke-width="0.15">60</text>
<text x="247.0" y="153.0" font-size="8.3" font-weight="normal" text-anchor="end" fill="#000" stroke="#000" stroke-width="0.15">70</text>
<text x="247.0" y="129.2" font-size="8.3" font-weight="normal" text-anchor="end" fill="#000" stroke="#000" stroke-width="0.15">80</text>
<text x="253.4" y="319.5" font-size="8.3" font-weight="normal" text-anchor="end" fill="#000" stroke="#000" stroke-width="0.15">0</text>
<text transform="translate(229.6 313.6) rotate(-90)" font-size="11.4" font-weight="bold" stroke="#000" stroke-width="0.2" textLength="165" lengthAdjust="spacingAndGlyphs">% of control molecule expression</text>
<path d="M264.6 283.5V275.6M263.6 275.6h2" stroke="#8a8a8a" stroke-width="0.8" fill="none"/>
<rect x="260.0" y="283.5" width="8.8" height="33.3" fill="url(#bg)"/>
<rect x="260.0" y="283.5" width="8.8" height="33.3" fill="url(#ck)" mask="url(#m)"/>
<rect x="260.0" y="283.5" width="8.8" height="33.3" fill="none" stroke="#555" stroke-width="0.5"/>
<text transform="translate(259.4 336.8) rotate(-45)" text-anchor="end" font-size="11.6" font-weight="bold" stroke="#000" stroke-width="0.25">CD11a</text>
<path d="M285.0 259.7V250.2M284.0 250.2h2" stroke="#8a8a8a" stroke-width="0.8" fill="none"/>
<rect x="280.4" y="259.7" width="8.8" height="57.1" fill="url(#bg)"/>
<rect x="280.4" y="259.7" width="8.8" height="57.1" fill="url(#ck)" mask="url(#m)"/>
<rect x="280.4" y="259.7" width="8.8" height="57.1" fill="none" stroke="#555" stroke-width="0.5"/>
<text transform="translate(279.8 336.8) rotate(-45)" text-anchor="end" font-size="11.6" font-weight="bold" stroke="#000" stroke-width="0.25">CD19</text>
<path d="M305.4 158.4V136.9M304.4 136.9h2" stroke="#8a8a8a" stroke-width="0.8" fill="none"/>
<rect x="300.8" y="158.4" width="8.8" height="158.4" fill="url(#bg)"/>
<rect x="300.8" y="158.4" width="8.8" height="158.4" fill="url(#ck)" mask="url(#m)"/>
<rect x="300.8" y="158.4" width="8.8" height="158.4" fill="none" stroke="#555" stroke-width="0.5"/>
<text transform="translate(300.2 336.8) rotate(-45)" text-anchor="end" font-size="11.6" font-weight="bold" stroke="#000" stroke-width="0.25">CD20</text>
<path d="M325.7 258.3V242.1M324.7 242.1h2" stroke="#8a8a8a" stroke-width="0.8" fill="none"/>
<rect x="321.1" y="258.3" width="8.8" height="58.5" fill="url(#bg)"/>
<rect x="321.1" y="258.3" width="8.8" height="58.5" fill="url(#ck)" mask="url(#m)"/>
<rect x="321.1" y="258.3" width="8.8" height="58.5" fill="none" stroke="#555" stroke-width="0.5"/>
<text transform="translate(320.5 336.8) rotate(-45)" text-anchor="end" font-size="11.6" font-weight="bold" stroke="#000" stroke-width="0.25">CD21</text>
<path d="M346.1 274.2V269.2M345.1 269.2h2" stroke="#8a8a8a" stroke-width="0.8" fill="none"/>
<rect x="341.5" y="274.2" width="8.8" height="42.6" fill="url(#bg)"/>
<rect x="341.5" y="274.2" width="8.8" height="42.6" fill="url(#ck)" mask="url(#m)"/>
<rect x="341.5" y="274.2" width="8.8" height="42.6" fill="none" stroke="#555" stroke-width="0.5"/>
<text transform="translate(340.9 336.8) rotate(-45)" text-anchor="end" font-size="11.6" font-weight="bold" stroke="#000" stroke-width="0.25">CD22</text>
<path d="M366.5 208.6V200.2M365.5 200.2h2" stroke="#8a8a8a" stroke-width="0.8" fill="none"/>
<rect x="361.9" y="208.6" width="8.8" height="108.2" fill="url(#bg)"/>
<rect x="361.9" y="208.6" width="8.8" height="108.2" fill="url(#ck)" mask="url(#m)"/>
<rect x="361.9" y="208.6" width="8.8" height="108.2" fill="none" stroke="#555" stroke-width="0.5"/>
<text transform="translate(361.3 336.8) rotate(-45)" text-anchor="end" font-size="11.6" font-weight="bold" stroke="#000" stroke-width="0.25">CD38</text>
<path d="M386.9 226.2V213.8M385.9 213.8h2" stroke="#8a8a8a" stroke-width="0.8" fill="none"/>
<rect x="382.3" y="226.2" width="8.8" height="90.6" fill="url(#bg)"/>
<rect x="382.3" y="226.2" width="8.8" height="90.6" fill="url(#ck)" mask="url(#m)"/>
<rect x="382.3" y="226.2" width="8.8" height="90.6" fill="none" stroke="#555" stroke-width="0.5"/>
<text transform="translate(381.7 336.8) rotate(-45)" text-anchor="end" font-size="11.6" font-weight="bold" stroke="#000" stroke-width="0.25">CD40</text>
<path d="M407.3 226.2V210.2M406.3 210.2h2" stroke="#8a8a8a" stroke-width="0.8" fill="none"/>
<rect x="402.7" y="226.2" width="8.8" height="90.6" fill="url(#bg)"/>
<rect x="402.7" y="226.2" width="8.8" height="90.6" fill="url(#ck)" mask="url(#m)"/>
<rect x="402.7" y="226.2" width="8.8" height="90.6" fill="none" stroke="#555" stroke-width="0.5"/>
<text transform="translate(402.1 336.8) rotate(-45)" text-anchor="end" font-size="11.6" font-weight="bold" stroke="#000" stroke-width="0.25">CD45</text>
<path d="M427.6 283.7V281.1M426.6 281.1h2" stroke="#8a8a8a" stroke-width="0.8" fill="none"/>
<rect x="423.0" y="283.7" width="8.8" height="33.1" fill="url(#bg)"/>
<rect x="423.0" y="283.7" width="8.8" height="33.1" fill="url(#ck)" mask="url(#m)"/>
<rect x="423.0" y="283.7" width="8.8" height="33.1" fill="none" stroke="#555" stroke-width="0.5"/>
<text transform="translate(422.4 336.8) rotate(-45)" text-anchor="end" font-size="11.6" font-weight="bold" stroke="#000" stroke-width="0.25">CD49d</text>
<path d="M448.0 225.2V194.5M447.0 194.5h2" stroke="#8a8a8a" stroke-width="0.8" fill="none"/>
<rect x="443.4" y="225.2" width="8.8" height="91.6" fill="url(#bg)"/>
<rect x="443.4" y="225.2" width="8.8" height="91.6" fill="url(#ck)" mask="url(#m)"/>
<rect x="443.4" y="225.2" width="8.8" height="91.6" fill="none" stroke="#555" stroke-width="0.5"/>
<text transform="translate(442.8 336.8) rotate(-45)" text-anchor="end" font-size="11.6" font-weight="bold" stroke="#000" stroke-width="0.25">CD50</text>
<path d="M468.4 280.9V271.8M467.4 271.8h2" stroke="#8a8a8a" stroke-width="0.8" fill="none"/>
<rect x="463.8" y="280.9" width="8.8" height="35.9" fill="url(#bg)"/>
<rect x="463.8" y="280.9" width="8.8" height="35.9" fill="url(#ck)" mask="url(#m)"/>
<rect x="463.8" y="280.9" width="8.8" height="35.9" fill="none" stroke="#555" stroke-width="0.5"/>
<text transform="translate(463.2 336.8) rotate(-45)" text-anchor="end" font-size="11.6" font-weight="bold" stroke="#000" stroke-width="0.25">CD54</text>
<path d="M488.8 273.0V262.6M487.8 262.6h2" stroke="#8a8a8a" stroke-width="0.8" fill="none"/>
<rect x="484.2" y="273.0" width="8.8" height="43.8" fill="url(#bg)"/>
<rect x="484.2" y="273.0" width="8.8" height="43.8" fill="url(#ck)" mask="url(#m)"/>
<rect x="484.2" y="273.0" width="8.8" height="43.8" fill="none" stroke="#555" stroke-width="0.5"/>
<text transform="translate(483.6 336.8) rotate(-45)" text-anchor="end" font-size="11.6" font-weight="bold" stroke="#000" stroke-width="0.25">CD58</text>
<path d="M509.2 222.1V219.3M508.2 219.3h2" stroke="#8a8a8a" stroke-width="0.8" fill="none"/>
<rect x="504.6" y="222.1" width="8.8" height="94.7" fill="url(#bg)"/>
<rect x="504.6" y="222.1" width="8.8" height="94.7" fill="url(#ck)" mask="url(#m)"/>
<rect x="504.6" y="222.1" width="8.8" height="94.7" fill="none" stroke="#555" stroke-width="0.5"/>
<text transform="translate(504.0 336.8) rotate(-45)" text-anchor="end" font-size="11.6" font-weight="bold" stroke="#000" stroke-width="0.25">HLA-DR</text>
</svg>
</body></html>
